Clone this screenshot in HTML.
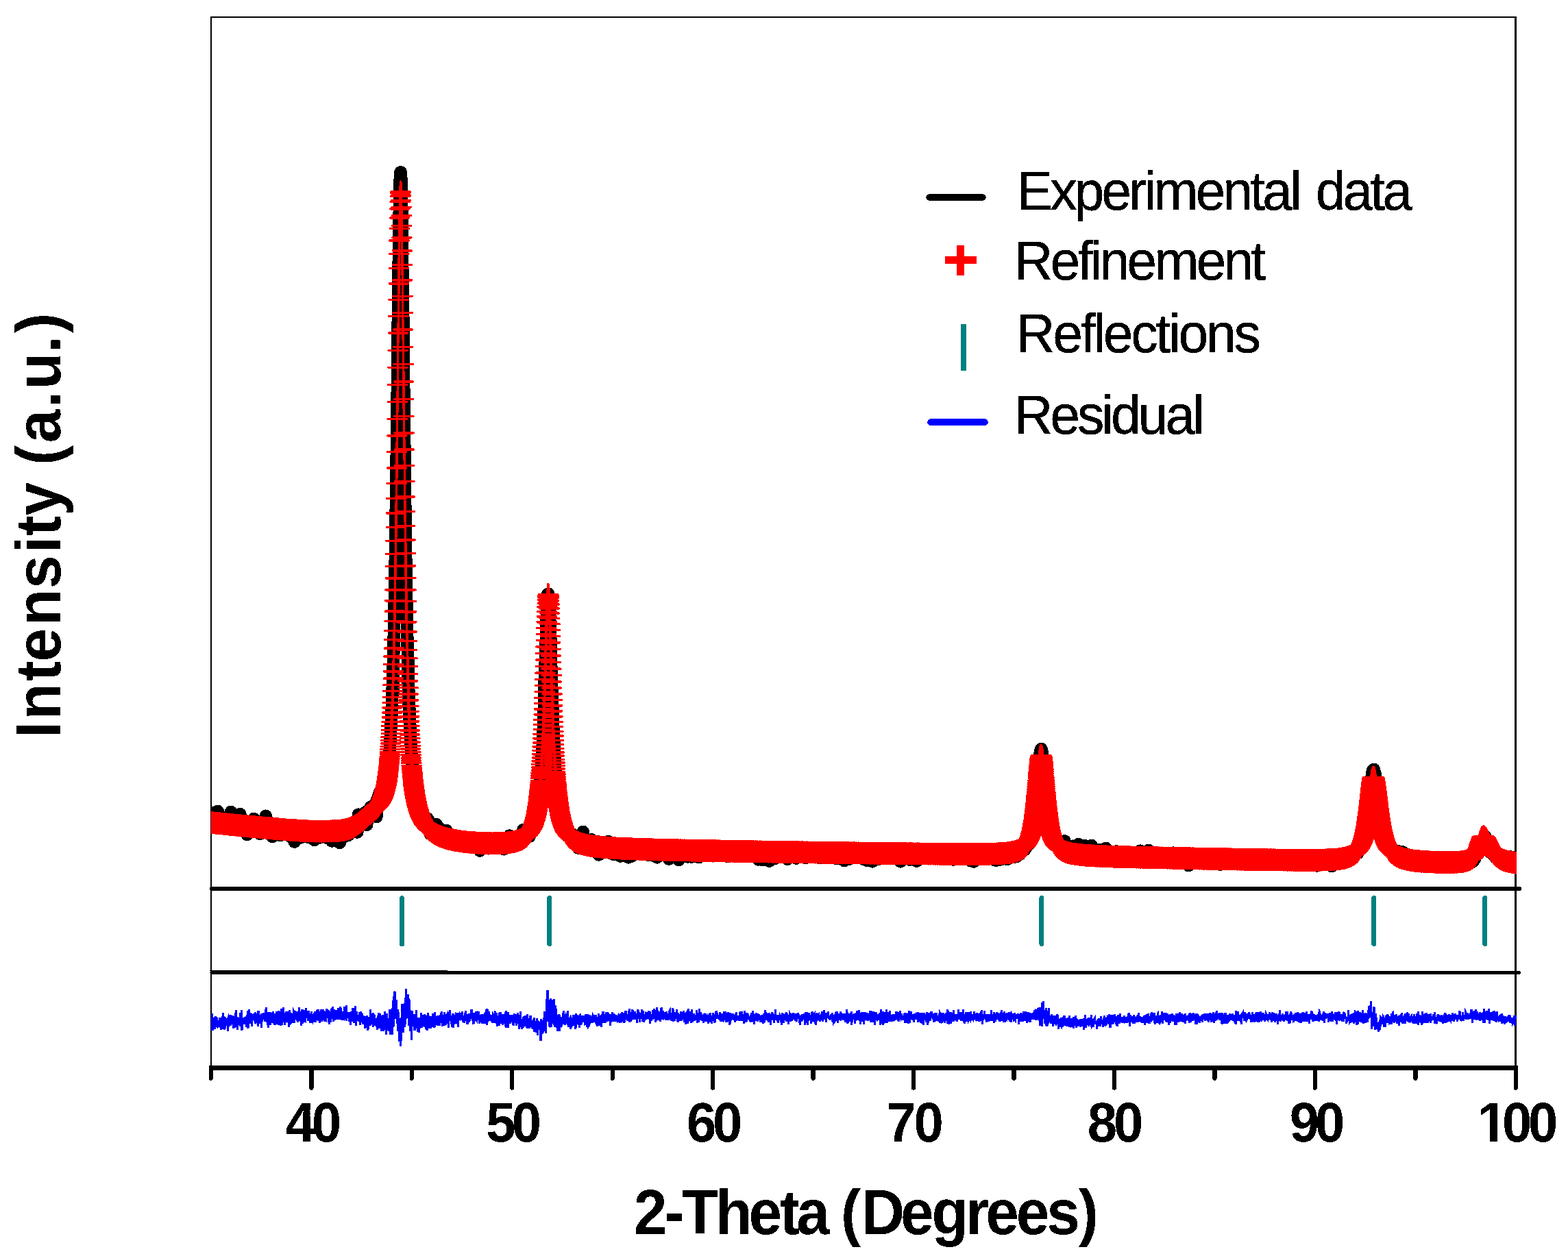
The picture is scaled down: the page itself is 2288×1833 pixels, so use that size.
<!DOCTYPE html>
<html lang="en">
<head>
<meta charset="utf-8">
<title>XRD Rietveld refinement plot</title>
<style>
html,body{margin:0;padding:0;background:#fff;}
body{width:2288px;height:1833px;overflow:hidden;}
svg{display:block;}
text{font-family:"Liberation Sans",sans-serif;fill:#000;}
.b{font-weight:bold;}
</style>
</head>
<body>
<svg width="2288" height="1833" viewBox="0 0 2288 1833">
<defs>
<filter id="crisp" x="-5%" y="-5%" width="110%" height="110%" color-interpolation-filters="sRGB"><feComponentTransfer><feFuncA type="discrete" tableValues="0 1"/></feComponentTransfer></filter>
<clipPath id="one"><path clip-rule="evenodd" d="M2100 1590H2288V1700H2100ZM2158 1657H2173.9V1668H2158ZM2185.5 1657H2197V1668H2185.5Z"/></clipPath>
<clipPath id="plot"><rect x="307.8" y="26" width="1905.2" height="1530"/></clipPath>
</defs>
<rect x="0" y="0" width="2288" height="1833" fill="#fff"/>

<!-- frame -->
<g shape-rendering="crispEdges" fill="none" stroke="#000">
<rect x="308.1" y="25" width="1903.5" height="1533.5" stroke-width="2.4"/>
</g>

<!-- experimental data (black) + refinement (red plus markers) -->
<g clip-path="url(#plot)" shape-rendering="crispEdges" fill="none">
<path id="exp" stroke="#000" stroke-width="18.6" stroke-linejoin="round" stroke-linecap="round" d="M308 1195.2l.3 1 .3-1.9 .2 1.7 .3-4.2 .3 .4 .3-.1 .2 5.7 .3 1.2 .3-7.3 .2 1.3 .3-3.6 .3 7.1 .2 1.7 .3-2 .3-.1 .2 1.8 .3-12.2 .3 6.6 .3 1.8 .2-4.8 .3 3.7 .3 .7 .2 2.5 .3-1.5 .3 4.4 .2-10.6 .3 5.4 .3 2.1 .3-.9 .2-2.4 .3 2.4 .3 1.4 .2-2 .3-1.3 .3 6.3 .2-15.7 .3 7.1 .3 6.4 .2-3.3 .3-3.1 .3-.6 .3 1.6 .2 13.3 .3-10.3 .3 2.9 .2 1.8 .3-.4 .3-2.1 .2-1 .3-2.1 .3 2.5 .3 .3 .2 .9 .3 3.8 .3-6.1 .2 1.8 .3-.8 .3-.8 .2 2.4 .3 10 .3-14.6 .2 2.7 .3-2.6 .3-.4 .3 5.8 .2-4.2 .3 2.9 .3 1.9 .2 .1 .3-3.9 .3 .1 .2 4.9 .3-6.4 .3 2.9 .2 .9 .3-.4 .3-.6 .3-1.3 .2 .4 .3 2.1 .3 .8 .2-3.4 .3 2.4 .3 .3 .2-6.1 .3 4.7 .3-.4 .3-1.6 .2 .7 .3-1.7 .3 4 .2-1.7 .3 3.6 .3-3.5 .2 7.3 .3-3.4 .3 1.5 .2-2 .3-5.7 .3 4.6 .3 1.7 .2 .3 .3-2.6 .3 0 .2-2.9 .3 .1 .3-10.4 .2 12.1 .3 13.9 .3-11.7 .2 .4 .3-.4 .3 1.1 .3-5.3 .2 .8 .3 4.7 .3-4.2 .2 .9 .3 .5 .3 4.5 .2 1.6 .3-7.1 .3-.2 .3 1.4 .2-2.8 .3 4.5 .3-.8 .2-2.2 .3 1.5 .3 .4 .2 7.7 .3-6.3 .3 0 .2-.2 .3 1.5 .3 1.1 .3-3.8 .2 2.5 .3-1.9 .3-.3 .2-5.2 .3 7 .3-.5 .2 1.2 .3-3.9 .3 2.6 .2 1.7 .3-5.1 .3 6.5 .3-2.9 .2 4.7 .3-8.8 .3 2.7 .2-3 .3 .6 .3 5.5 .2-13.8 .3 14 .3 0 .3-2.4 .2 .2 .3 2.3 .3 3.4 .2-2.8 .3-2.8 .3 .8 .2-3.4 .3 4.2 .3 3 .2-.6 .3-5.9 .3 3.5 .3 2.1 .2-3.6 .3 3.3 .3-.4 .2 .9 .3-.2 .3-1.4 .2-1.1 .3 6.9 .3-8.4 .3-1 .2 2.1 .3-.2 .3-.1 .2 4.8 .3-5.2 .3 7.8 .2-4.2 .3 .1 .3-.5 .2-3.7 .3 .1 .3 18.4 .3-14.7 .2-2.7 .3 4.7 .3-2.5 .2-2.1 .3-1.4 .3 3.1 .2-2.9 .3 3.5 .3 1.2 .2-.7 .3 2 .3-1.8 .3-3.4 .2-.1 .3 6.3 .3-5.1 .2 2.7 .3 1.9 .3-2.2 .2 1 .3 3.7 .3-4.6 .3 0 .2 .7 .3-.2 .3-.6 .2 .7 .3 0 .3 .4 .2-1.5 .3 2.4 .3 .5 .2-1.5 .3-2.1 .3-7.9 .3 11 .2 2.2 .3-1.2 .3 1.5 .2-4.7 .3 3.1 .3-5.3 .2 4.9 .3 1.9 .3-4 .2 5 .3-2.3 .3-5.9 .3 4.5 .2-4.6 .3 4.5 .3 2.2 .2-2.9 .3 1.6 .3-.8 .2-1.9 .3 8.1 .3-7.9 .3 2.5 .2-.1 .3 2.3 .3-5.2 .2 1.2 .3-2.1 .3 3.4 .2 3.8 .3 6.1 .3 1.1 .2-14.8 .3 9.8 .3-3 .3-2.9 .2 3.4 .3-3.6 .3 .7 .2 2.5 .3-.2 .3-.2 .2-4.1 .3 2 .3 .4 .3-1.2 .2 .2 .3 .5 .3-.3 .2 3.3 .3-4.6 .3 6.1 .2-2.9 .3-.7 .3 5.4 .2-4.3 .3 4.2 .3-5.1 .3 4.3 .2 .3 .3 .3 .3-6.7 .2 1.8 .3-16.8 .3 18.7 .2-.7 .3 0 .3-3.1 .2 8.5 .3-5.6 .3-2.4 .3 6.3 .2-2.9 .3-.7 .3 7.4 .2-5.1 .3 1.4 .3-13.3 .2 12.5 .3-1.9 .3-.6 .3 .1 .2 5.8 .3-5.4 .3-1.7 .2 1.7 .3-1.6 .3 2.5 .2 .6 .3-2.5 .3 1.8 .2 1.7 .3-5.1 .3-3.7 .3 7.4 .2-1.3 .3-3.2 .3 4.7 .2-1.6 .3 11.6 .3-14.6 .2 4.7 .3 1.9 .3-.3 .2-1 .3 1.3 .3 0 .3 1.8 .2-3.7 .3-5 .3 5.7 .2-4.6 .3 1.6 .3 2.5 .2 4.3 .3-4.3 .3-1.1 .3-.2 .2 4.3 .3 .4 .3-.2 .2 1.8 .3-4.9 .3 1.9 .2-6.5 .3 4.8 .3 1.5 .2-4.2 .3 7.5 .3-4.3 .3-1.1 .2 2.5 .3-2.2 .3-1.5 .2 4.3 .3-3.2 .3 3.1 .2-6.5 .3 4.4 .3-2 .2 4.2 .3-3.9 .3 8.9 .3-5.6 .2 4.4 .3-5.4 .3 1.1 .2 1.9 .3-2.3 .3-10.3 .2 12.9 .3-4.4 .3 1.8 .3 1.1 .2-3.7 .3 2.9 .3 2.1 .2-3.8 .3 2.7 .3 .9 .2-4.7 .3-.9 .3 2.9 .2 .3 .3 2.2 .3 1 .3-2.2 .2-6 .3 4.3 .3 3.9 .2-.1 .3-2.4 .3-.4 .2-2.2 .3 .3 .3-.4 .3 5 .2-1.6 .3-5.4 .3 5.8 .2 0 .3-2.3 .3-.5 .2-2.1 .3 5 .3-.8 .2 .9 .3 1.3 .3 2.7 .3 .8 .2-3.1 .3-2.4 .3-.3 .2-5.2 .3 6 .3-10.6 .2 8.1 .3 3.2 .3 3.8 .2-3.9 .3-2.1 .3-1.4 .3 6.1 .2-4.7 .3 4 .3 1.1 .2-4.5 .3-.3 .3 5.8 .2-4.9 .3 1.5 .3-.6 .3 2.4 .2-3.4 .3 8.7 .3-5.8 .2-5.5 .3 3 .3 13.8 .2-15 .3-1.4 .3 5.1 .2-4.1 .3 2.1 .3-3.9 .3 7.2 .2-3.4 .3 1.2 .3 .6 .2-1.5 .3-3.7 .3 5.3 .2-5 .3 3 .3 3.4 .2-1.6 .3-.3 .3-7.3 .3 6.6 .2-2.2 .3 5.1 .3-2.3 .2-1 .3 .1 .3 .5 .2-1.6 .3 2.3 .3 2.8 .3-1.1 .2-1 .3-1.5 .3-3.6 .2 .3 .3 9.6 .3-7.3 .2 3.2 .3-2.8 .3 3.8 .2-.7 .3-1.9 .3-4 .3 3.1 .2 2.9 .3 1.4 .3 0 .2-4.6 .3 2.9 .3-4.4 .2-1 .3 3.7 .3 .1 .2-1.1 .3-4.1 .3 7.8 .3-.9 .2 .2 .3-2.7 .3 .5 .2 1.3 .3 1.6 .3-1 .2-1.3 .3 1 .3 2.3 .3-3.1 .2 3 .3 1.1 .3-13.4 .2 8.8 .3 2.8 .3-5.4 .2-4.8 .3 7.6 .3-.3 .2 .9 .3-1.8 .3 2.7 .3-2.2 .2 1.9 .3-2.7 .3 1.1 .2 5.9 .3-4.9 .3-9 .2 8.1 .3 5.3 .3-6 .3 2.5 .2-.4 .3-.8 .3-1.6 .2-1.1 .3-.7 .3 6 .2-3.9 .3 .9 .3 3.3 .2-.8 .3-2 .3 2.9 .3-3 .2 4.1 .3-.9 .3-3.1 .2-9.6 .3 12 .3 6.1 .2-11.8 .3 6.8 .3-.1 .2-5.2 .3 3.8 .3-1.5 .3-2.9 .2 3 .3 4 .3-12.1 .2 4.2 .3 5.4 .3-3.2 .2-.9 .3 2.4 .3-4.4 .3 3.6 .2 1.3 .3 2.4 .3-2 .2-2.2 .3-3.5 .3 5.6 .2 .8 .3 3.5 .3-5.9 .2-1.5 .3 2.1 .3 1 .3 .7 .2-4.7 .3 6 .3-4.5 .2 1.4 .3-.3 .3 2.4 .2-5 .3 7.1 .3-9.6 .2 3.8 .3 5.7 .3-10.2 .3 3.3 .2 1.9 .3 .7 .3-2.3 .2 3.7 .3-1.5 .3 0 .2 1.1 .3-1.3 .3-1.3 .3 1.2 .2-1.7 .3 4.4 .3 0 .2-3.1 .3 .9 .3 .7 .2-1.9 .3 3.2 .3 1.5 .2 .9 .3-13.7 .3 6.6 .3 2.9 .2 1 .3-4.1 .3 2.4 .2 6.3 .3-5.3 .3 .8 .2 1.5 .3-1.6 .3-3.3 .3 6 .2-3 .3 2.8 .3-1 .2-1.7 .3 1.8 .3-2.1 .2-6.2 .3 1.8 .3 2.2 .2 .3 .3 2.6 .3-2.2 .3 2.6 .2 2.9 .3-5.9 .3-1 .2-.2 .3 1.4 .3 11.2 .2-8.3 .3-1.4 .3 1.9 .2-1.7 .3-3.5 .3 1.9 .3-2.5 .2 3.4 .3-1.2 .3 3.8 .2-3.7 .3-2.5 .3 5.9 .2-1.7 .3-4.4 .3 6.2 .3-3.8 .2 1.9 .3-1.6 .3-2.9 .2 5.1 .3-7.6 .3 4 .2-.6 .3 .1 .3 2.1 .2 1.2 .3-3.8 .3 1.2 .3-1.2 .2 2.8 .3 3.9 .3-4.2 .2 .7 .3-3.1 .3-.2 .2 .9 .3-1.7 .3 3.4 .2 3.9 .3-4.1 .3 .7 .3 13.1 .2-13.5 .3-.7 .3 2.5 .2 1.3 .3-2.5 .3 2.2 .2 1.5 .3-.7 .3-6.5 .3 6.3 .2-6.7 .3 6 .3-4 .2-1.1 .3-1.9 .3 8.1 .2-7.6 .3 3.8 .3-.8 .2 6.2 .3-6.6 .3-3.8 .3 5.1 .2-.3 .3-2.3 .3-.6 .2 .6 .3 .4 .3 1.6 .2 .1 .3-.4 .3-.6 .2-4.6 .3 4.1 .3-1.8 .3 1.8 .2 3.8 .3-7.8 .3 5.3 .2 2.6 .3-3.9 .3-3.4 .2 4.5 .3-3.4 .3 .9 .3 .3 .2 5.4 .3-7.3 .3 3.3 .2-2.5 .3 3.4 .3 .2 .2-4 .3 3.6 .3-2.9 .2-1.8 .3-.6 .3 1.8 .3-1.1 .2 .2 .3 2.4 .3-3.4 .2 3 .3-4 .3 4.4 .2 1.1 .3-.7 .3-7.3 .3 5.7 .2 2 .3 0 .3-5.4 .2-1.7 .3 .8 .3 5.6 .2-5.4 .3 .1 .3 3.6 .2-2.4 .3-9.6 .3 9.3 .3-2.9 .2-4.9 .3 8.8 .3-5.5 .2 2.8 .3-4.3 .3 4.5 .2-5.4 .3 6.1 .3-.3 .2-3.9 .3 1.6 .3 8.8 .3-4 .2-8.3 .3 4.7 .3-2.9 .2-4.2 .3 2.4 .3-13.7 .2 17.9 .3-.2 .3-2.8 .3-1.3 .2-2 .3 4.3 .3-1 .2-4 .3-2.2 .3-1 .2 5.6 .3-2.7 .3 4.8 .2-5.8 .3 6.1 .3-3.2 .3-1.7 .2-1.2 .3 2 .3 .2 .2-5.5 .3 .5 .3 5.9 .2-9.7 .3 2.3 .3-2.9 .2 2 .3-3.1 .3 6.8 .3 .1 .2-10 .3 10.2 .3-10.7 .2 7.9 .3-4.3 .3-1.2 .2 5.5 .3-5.7 .3 5.6 .3 2.9 .2-5.4 .3 .2 .3 1.5 .2-5.3 .3 15.8 .3-13.3 .2-1.9 .3-.9 .3-4.1 .2 8.9 .3-4.1 .3-.7 .3 1.6 .2-4.7 .3-1.5 .3 4.1 .2-.8 .3-.2 .3 1.5 .2-6.9 .3 2.4 .3 1.4 .2 2.2 .3 .9 .3-6.6 .3-3.2 .2 4.8 .3-1.7 .3-2.8 .2 6.2 .3-6.3 .3 3.1 .2-.8 .3 3.4 .3-3.7 .3 5.3 .2-4.7 .3 1 .3 4.7 .2-7.8 .3-2.5 .3 2.9 .2 .5 .3-3.8 .3 2.1 .2-3.7 .3 1.9 .3 4.8 .3-5.6 .2 6.4 .3-3.4 .3-3.5 .2-.6 .3 .3 .3 4.6 .2 .4 .3-1.8 .3 14.4 .3-24.2 .2 3.8 .3 2.5 .3-6.2 .2 3.3 .3 8.3 .3-2.2 .2-1.9 .3-12.1 .3 9 .2-1.3 .3 .9 .3-2.5 .3 .8 .2-.9 .3-12.5 .3 15.9 .2-10.8 .3 9.6 .3-1.7 .2 0 .3-3.5 .3 1.3 .2-6.9 .3-.6 .3 8.6 .3-13.3 .2 9.6 .3-3.3 .3 .9 .2-6.3 .3 .8 .3 5.6 .2-.9 .3-6.7 .3 4.6 .3-2.7 .2-7.8 .3 8.7 .3-4.6 .2 2.9 .3-6.3 .3 1.6 .2-4.9 .3 .1 .3-5.6 .2-.8 .3 1.1 .3 4.6 .3-3.6 .2-2 .3 1.8 .3-9.4 .2-9.9 .3 9.8 .3 11.6 .2-16.3 .3 3.5 .3-4.4 .2 .7 .3-4.2 .3-4.9 .3-4.3 .2-2.1 .3 17.5 .3-18.5 .2-5.7 .3-1.1 .3-4.3 .2 3 .3-8.3 .3 13.7 .3-23.2 .2-6 .3-2.3 .3 .8 .2-12.5 .3-1.1 .3-11.7 .2 7.1 .3-14.1 .3-9.8 .2 .4 .3-22 .3-4.1 .3-1.3 .2-9.9 .3 14.4 .3-21.9 .2-17.5 .3-11.2 .3-11.9 .2-12.9 .3-9.4 .3-16.6 .3-21.5 .2-5.5 .3-10 .3-18.7 .2-22.1 .3-6.9 .3-24.1 .2-20.5 .3-15.5 .3-20.2 .2-25.7 .3-23.7 .3-20.6 .3-18.1 .2-28.7 .3-27.5 .3-13.2 .2-29.2 .3-31.6 .3-24.4 .2-23.5 .3-28.4 .3-20.6 .2-23.8 .3-25.8 .3-19 .3-20.3 .2-17.4 .3-22.7 .3-13.6 .2-13 .3-11.9 .3-6.9 .2-4.9 .3-1.1 .3 1.1 .3 2.5 .2 7.1 .3 11.5 .3 12.9 .2 14.1 .3 15.7 .3 22.6 .2 16.3 .3 36.1 .3 10 .2 21.9 .3 24.8 .3 20 .3 31.9 .2 29.7 .3 24.4 .3 33 .2 8.6 .3 29.3 .3 20.9 .2 31.6 .3 20.1 .3 22.9 .2 14.8 .3 28.4 .3 23.4 .3 18.8 .2 16.2 .3 15.4 .3 12 .2 22 .3 20.5 .3 6.6 .2 11.3 .3 19.5 .3 6 .3 13 .2 12.8 .3-.9 .3 30.5 .2 6.5 .3 7 .3 6.1 .2 16.2 .3 9.5 .3-3.8 .2 8.7 .3 6.7 .3 9.6 .3 .9 .2 8.7 .3 5.7 .3 4 .2 6 .3 2.4 .3 2.8 .2 9 .3 6.3 .3 1.1 .2 6.5 .3-.3 .3 6.5 .3 4.4 .2-1.8 .3 3.3 .3-.9 .2 3 .3 4.2 .3 7.6 .2-1.8 .3-1.9 .3 7.4 .3-1.3 .2-13.7 .3 22.2 .3-4.2 .2 14 .3-4.5 .3-3.3 .2 12 .3-7.1 .3 6.7 .2-.2 .3-.5 .3 1.3 .3 2.2 .2 1.2 .3 1.8 .3-1.2 .2-2.5 .3 5.6 .3 3.8 .2 .4 .3 5.3 .3-3.4 .3 2.4 .2 1.5 .3-2.4 .3-1.4 .2 4.9 .3-6.4 .3 8.5 .2-.8 .3-2.7 .3 1.5 .2-1.4 .3 2.9 .3 4.5 .3-4 .2-.8 .3 3.2 .3 1.8 .2 5.8 .3-3.9 .3 2.1 .2 2.2 .3-6.6 .3 1.9 .2 5.4 .3-7.6 .3 12.7 .3-5.6 .2 .5 .3-3.1 .3 2.7 .2-3.1 .3 4 .3-1.5 .2 9.6 .3-9.2 .3 8 .3-3.8 .2-2.8 .3 4.5 .3-.4 .2 1.6 .3 .4 .3 .9 .2 2.4 .3-5.5 .3 1.6 .2 1.9 .3 2.4 .3-9.2 .3 10.8 .2-3.5 .3 .1 .3-1 .2-.3 .3 3.1 .3-6.6 .2 8.3 .3 1.2 .3 0 .2-2.7 .3 3.7 .3-.9 .3 5.2 .2 5.2 .3-14.7 .3 9.8 .2-4.9 .3 2.7 .3 4.5 .2-2.2 .3-4.6 .3-2.4 .3-.3 .2 .1 .3 2.5 .3 2.1 .2 6.1 .3-5.9 .3 3.5 .2-5 .3 .2 .3 2.6 .2 .3 .3-2.2 .3 6.1 .3-.2 .2-2.4 .3 7.2 .3-10.7 .2 2.5 .3 .4 .3 .1 .2 3.7 .3-.7 .3-.2 .3-2.4 .2 1.2 .3-10.6 .3 9.1 .2 .6 .3-.2 .3 1.7 .2 4.2 .3-6.2 .3 1.9 .2 .6 .3-4.3 .3 5.1 .3-8.1 .2 6.8 .3 2.2 .3-.1 .2-1.4 .3 5.2 .3-.5 .2-11 .3 8.6 .3 .4 .2 1.6 .3-.6 .3-2 .3 0 .2 .5 .3 1.7 .3 2.7 .2-2.4 .3 2.4 .3-1.5 .2 6 .3-7.8 .3-3.8 .3 6.8 .2-9.7 .3 6.5 .3-1.3 .2-4.9 .3 12.1 .3-3.4 .2 1.7 .3-.6 .3-1.5 .2 .2 .3 3.3 .3-6.6 .3 .2 .2 4.6 .3-3.5 .3 2 .2 1.3 .3-.8 .3-9.2 .2 11.2 .3-.2 .3-2.7 .2 .8 .3 1.2 .3-2.1 .3 1.2 .2-1.5 .3 3.3 .3-1 .2 2.3 .3-6.9 .3 7.8 .2-3.2 .3 2 .3 3.8 .3-5 .2 .2 .3-2.2 .3 4.4 .2-4.8 .3 1.5 .3-.4 .2 1.1 .3 0 .3-2.5 .2 2.5 .3-2.6 .3 5.9 .3 .5 .2-3.3 .3 3.3 .3-1 .2-1.4 .3-1.5 .3 3.2 .2-1.9 .3 2.1 .3 1.1 .2 1 .3-3.4 .3 6.1 .3-2.7 .2-7.1 .3 11.7 .3-2.7 .2-6.4 .3 4.2 .3-6.7 .2 7.9 .3-6.4 .3 .7 .3 2 .2 1.3 .3 2.9 .3-2.2 .2-2.1 .3 .9 .3-2.4 .2 4.6 .3-1.7 .3 3 .2-6.5 .3 4.7 .3-.5 .3 2.4 .2-3.7 .3-.4 .3 2.9 .2-4 .3 4.2 .3-.8 .2-4 .3 4 .3 4.2 .3-7.3 .2 4.2 .3-3.7 .3 3 .2 .9 .3-2 .3-1.2 .2 .8 .3-1.2 .3 6.6 .2-3.7 .3-.8 .3 5 .3-4.2 .2 1.9 .3-3.1 .3-1.9 .2-2.8 .3 3.3 .3 2.7 .2 .2 .3 .2 .3 1.3 .2-1.5 .3 2.8 .3-1 .3 .2 .2-.2 .3 2.1 .3-1.4 .2 .1 .3-.5 .3-4.4 .2 2.8 .3-1.2 .3 1.4 .3 2.3 .2-3.1 .3-.1 .3 1.7 .2 .8 .3-8.2 .3 9.5 .2 1.9 .3-3.4 .3-1.8 .2 4.1 .3-4.5 .3 4.8 .3-2.2 .2 .9 .3-1.2 .3 .8 .2-8.3 .3 4.8 .3 4.6 .2 .2 .3-2.3 .3 .3 .2 1.9 .3-4.3 .3 2.8 .3-.4 .2 1.6 .3-3.4 .3-.2 .2 4.1 .3 .9 .3-4.3 .2 .6 .3 2.2 .3-.9 .3 3.1 .2-4.2 .3 3.6 .3-2.2 .2-1.3 .3 1.1 .3-3.2 .2 1.1 .3 1.1 .3 1.7 .2 .4 .3-3.5 .3 6 .3-4.2 .2 .2 .3 2.1 .3 .7 .2-.1 .3-1.5 .3 .4 .2-1.8 .3 5.3 .3-3.6 .2-2.7 .3 4.9 .3-1.7 .3-2.6 .2 3.8 .3-3.7 .3 .6 .2-1.5 .3 5.4 .3-4.1 .2 .2 .3 4.2 .3 6 .3-13.9 .2 2.6 .3-4.3 .3 6.7 .2 2 .3-3.2 .3-.2 .2 .7 .3 1.5 .3-5.7 .2 5.7 .3-1.9 .3 1.2 .3-1.3 .2 1.6 .3 1.2 .3 .6 .2-.8 .3-3.1 .3 4.6 .2-4.8 .3 3.4 .3-.6 .3-1 .2 .5 .3 .5 .3-1.6 .2 .6 .3-1.3 .3 2.2 .2-1.1 .3 3.2 .3-3.1 .2 .8 .3-.3 .3 1.6 .3-.3 .2-2.8 .3-3.6 .3 2.2 .2-1.4 .3 1.5 .3 1.1 .2 7 .3-4.1 .3 3.6 .2-3.7 .3-1.6 .3-.2 .3 2.4 .2-2.6 .3-2.2 .3 4.9 .2-5.3 .3-.2 .3 8.4 .2-5.8 .3 1.6 .3-.9 .3-5 .2 2 .3 2.3 .3-1.3 .2 5.8 .3-5.4 .3 0 .2 2.4 .3-4 .3 3 .2-.1 .3-3.3 .3 1.8 .3 .9 .2-2.6 .3 3.6 .3-1.4 .2-.2 .3-4.7 .3 4.6 .2 1.3 .3-.6 .3-.2 .2-.1 .3-2.4 .3 4.1 .3 .8 .2-4.8 .3 1.2 .3 4 .2-1.4 .3-.1 .3 3.7 .2-9.7 .3 3.7 .3-.7 .3 4.2 .2-2.8 .3-1.6 .3 1.8 .2-2 .3 7.7 .3-.2 .2-6.9 .3 1 .3 1.6 .2-.9 .3 .4 .3-2.9 .3 0 .2 1.3 .3 1.2 .3 .3 .2 .6 .3 1.5 .3-1.2 .2-1.8 .3-2.9 .3 3.5 .3 1.4 .2-4.2 .3-1.6 .3 4.3 .2-2.3 .3-2.4 .3 2.1 .2 1 .3-3.7 .3 6.3 .2 6.7 .3-8.5 .3 5.8 .3-4.6 .2-5 .3-2.5 .3 4.7 .2 1.3 .3 1.6 .3-5.8 .2 5.6 .3-3.8 .3 1.3 .2 3.2 .3-3.6 .3 0 .3 1.9 .2-2.3 .3 1.5 .3 2.9 .2-4.2 .3-2.1 .3 3 .2-.6 .3-2.5 .3 .3 .3 3.9 .2-6.5 .3 5.4 .3-4.7 .2 3.9 .3-9.4 .3 9.4 .2-1.8 .3-.4 .3-1 .2 3.7 .3-.9 .3 3.8 .3-4.4 .2 .4 .3-.9 .3 .7 .2-2 .3 .3 .3-4.3 .2 6.8 .3-1.1 .3-2.6 .2 2.6 .3-2.3 .3-.2 .3 3.5 .2-2 .3-1.5 .3 1.7 .2-2.8 .3 1.2 .3 0 .2 .3 .3 3.3 .3 5.6 .3-5.4 .2-3 .3-.9 .3 1 .2 2.2 .3 2 .3-2.7 .2 1.1 .3-1.2 .3-4.4 .2 1.2 .3 .7 .3 3.2 .3-2.9 .2-1 .3 2.4 .3-1.5 .2-1.9 .3 .2 .3 3.9 .2-5.3 .3 4.1 .3-1.7 .2 2.4 .3-4.2 .3 3.5 .3-2.9 .2-.7 .3 .2 .3-1.4 .2 3.3 .3-2.6 .3-3.7 .2 3.9 .3 1.3 .3-2.8 .3 1.4 .2 4.6 .3-6 .3-3.7 .2 5.6 .3-.3 .3-3.6 .2-8 .3 9.5 .3 .9 .2-5.6 .3 3.6 .3-.4 .3-1.5 .2 3.6 .3-.4 .3-3.9 .2 1.3 .3 4.7 .3-4.6 .2-1.7 .3 4.3 .3 1.4 .3-5.4 .2-1.7 .3 5.4 .3-3.8 .2-2.6 .3 2 .3-4.9 .2 .7 .3-2.3 .3 10.7 .2-5 .3 0 .3-.8 .3-.1 .2-.8 .3-2.5 .3 1 .2 4.4 .3 4.3 .3-11.6 .2-3.9 .3 6.2 .3-2.6 .2 3.6 .3-2.6 .3-2.7 .3-.4 .2 1.1 .3 .8 .3-3.6 .2-1.3 .3 3.4 .3-4.2 .2-3.2 .3 3.6 .3 .7 .3-8.6 .2 7.1 .3-1.5 .3-1.9 .2 .8 .3-2.4 .3 .9 .2-2.7 .3 .6 .3-7.6 .2 5.5 .3-1.9 .3-4 .3 3.1 .2-1.7 .3 3 .3-6.7 .2-1.6 .3-1.5 .3 1.9 .2 .8 .3-6.1 .3 .8 .2-.7 .3-.4 .3-2.4 .3-3.2 .2-3.5 .3-1.6 .3 2.5 .2-11.4 .3 6 .3-2.8 .2 2.8 .3-2.7 .3-6.9 .3-2.4 .2-6.1 .3 .9 .3-2.2 .2-3.9 .3-6.1 .3-2.3 .2 2.8 .3-8.4 .3-5.8 .2-2.9 .3 2.6 .3-15.6 .3 2.4 .2-14.2 .3-2.1 .3-1.6 .2-2.8 .3-.5 .3-18.3 .2-4.1 .3 5.5 .3-22.7 .2 3 .3-7.6 .3-10.6 .3-5.9 .2-11.5 .3-12.8 .3-30.1 .2 15.8 .3-9.2 .3-13 .2-4.8 .3-16.2 .3-5.5 .3-4.3 .2-11 .3-9.4 .3-9.6 .2-6.9 .3-4 .3-9.9 .2-16.8 .3 .6 .3 2.5 .2-2.2 .3-1.3 .3-1 .3 1.5 .2 .9 .3 5.4 .3 2.5 .2 5.8 .3 7.8 .3 5.1 .2 9.5 .3 3.1 .3 15.6 .3 5.4 .2 3.8 .3 11.3 .3 15.1 .2 8.3 .3 10.2 .3 4.8 .2 19.3 .3 1.1 .3 7.4 .2 14.5 .3 3.7 .3 2 .3 14.2 .2 9.5 .3-4.3 .3 20.5 .2 .4 .3 1.5 .3 7.9 .2 12 .3 3.9 .3 6.7 .2 4.2 .3-1.9 .3 3 .3 3.8 .2 13.1 .3 2.6 .3 4.5 .2-2.7 .3 7.8 .3 1.5 .2 11.2 .3-3.4 .3-1.6 .3 11.2 .2 3.8 .3-.3 .3-1.6 .2 2.9 .3 8.3 .3-3.5 .2 3.8 .3 5.2 .3-3.2 .2-3.5 .3 5.3 .3 9.5 .3-3.9 .2-2.4 .3 3.6 .3 6.4 .2-.1 .3-5.3 .3 8.1 .2-4.5 .3 8.9 .3 1.9 .2-4.3 .3 2.8 .3-.8 .3 .8 .2 .9 .3 1.2 .3 .6 .2-.7 .3 7.7 .3 .3 .2-5.1 .3 .1 .3 1 .3 7.3 .2-3 .3 .4 .3-3 .2 2 .3 6.3 .3-3.8 .2 2.9 .3-11.8 .3 9.8 .2 2.5 .3 .8 .3-3.1 .3 8.5 .2-7.2 .3 4.7 .3-6.4 .2 7.6 .3 2.5 .3-1.4 .2-1.6 .3 3.5 .3-1.9 .3-.9 .2 2.8 .3-2.6 .3 1.9 .2 2.8 .3-1.4 .3-4.1 .2 1.1 .3 2.7 .3 3.1 .2-2.5 .3-2.8 .3 4.1 .3 .4 .2-.3 .3 1.9 .3-1.3 .2-.2 .3-4.2 .3 2.9 .2-1 .3 6.8 .3-3.7 .2-.9 .3-.7 .3 .9 .3-.5 .2 2.3 .3-1.5 .3 1.1 .2 .4 .3-.2 .3 2.3 .2 .2 .3-1.4 .3-.9 .3 4.8 .2-7.3 .3 5.2 .3-2.4 .2 4.2 .3-3.1 .3 4.5 .2-5.5 .3 7.5 .3-6.2 .2 3.2 .3-.5 .3-.5 .3 1.1 .2-1 .3-.5 .3-3 .2 4.4 .3-2.1 .3 12.3 .2-10.3 .3-1 .3-3.3 .2 4.8 .3-4.6 .3 3.6 .3 1.9 .2 1.6 .3-.9 .3-3 .2 .2 .3-.1 .3 2.3 .2-2.2 .3 3.6 .3 3.2 .3-3.2 .2-2.4 .3 .2 .3 .3 .2 2.8 .3-2.3 .3 7.2 .2-5.8 .3-4.2 .3 5.4 .2-17.5 .3 16.1 .3-1.6 .3 .8 .2-4.1 .3 6.2 .3 1.4 .2-5 .3 .7 .3 .5 .2 2.2 .3-.5 .3-.2 .2 .5 .3-.4 .3 2 .3 .7 .2-4.7 .3 1.7 .3-.5 .2 .8 .3 4.4 .3-3.4 .2-3.1 .3 2.9 .3-1.1 .3 1.2 .2 .8 .3-2.4 .3 3.7 .2-3.2 .3 3.5 .3-.6 .2-1.4 .3 3.9 .3-7 .2 2.2 .3 1.9 .3-.8 .3 1 .2-.4 .3-4.1 .3 8.2 .2-5.6 .3 3.8 .3-.9 .2-2.1 .3-6.4 .3 6.9 .3 1.7 .2 2.5 .3-4.2 .3-1.2 .2 1.7 .3-2.1 .3 1.5 .2 4.6 .3-1.1 .3-1 .2 .3 .3 2.3 .3-1.3 .3-2 .2-1.1 .3 2.6 .3 1.2 .2 .5 .3-.6 .3-2.2 .2-.8 .3-.1 .3 2.5 .2 2.6 .3-2.2 .3-3.1 .3-.9 .2 2 .3 3.3 .3-5.8 .2 2.5 .3 8.8 .3-7.2 .2 .6 .3-1.8 .3 1.2 .3 11.5 .2-18.8 .3 5 .3 .9 .2 1.6 .3 .8 .3-2.1 .2 .7 .3-2.2 .3 .7 .2 1 .3 1.4 .3 2.6 .3-5.7 .2 3.5 .3-1.9 .3-2.8 .2 6.2 .3-1.3 .3-7.9 .2 8.6 .3 2.3 .3-3.4 .2-1.5 .3 1.2 .3-1.3 .3 0 .2 1.9 .3-.5 .3-.5 .2 2.9 .3-2.9 .3 4.4 .2-2.1 .3-2.7 .3 1 .3 .1 .2 2.7 .3-4.2 .3 3.6 .2-1.9 .3 3.3 .3-3.3 .2 2 .3-4.2 .3 2.8 .2-1.8 .3 2.4 .3-.3 .3-.5 .2 2.2 .3-11.6 .3 9.6 .2 4.7 .3-3.3 .3 2.2 .2-1.2 .3 2.6 .3-3.3 .2 0 .3-1.8 .3 .7 .3-.3 .2 1.8 .3 1.5 .3-1.2 .2-.5 .3 6.2 .3-5.8 .2 1.5 .3-4.9 .3 4.3 .3-2.7 .2 2.3 .3-3.9 .3-3.2 .2 3.5 .3 3.1 .3-1.4 .2-7.1 .3 6.1 .3 9.4 .2-9.2 .3 6.1 .3-3.1 .3-.5 .2 2.5 .3-5.9 .3 2.5 .2-7.5 .3 6.5 .3 2.4 .2-.4 .3-6.6 .3 7.9 .3-.2 .2 3 .3-8.3 .3 .1 .2 5.5 .3-1.5 .3-1.1 .2 .8 .3-2.9 .3 2.5 .2-.9 .3 2.1 .3-.8 .3 1.6 .2-3.4 .3 1.5 .3 3.2 .2-1.4 .3 .1 .3 1.4 .2-5 .3 3.7 .3 0 .2 8.1 .3-9.1 .3 2.7 .3-4.1 .2 2.1 .3 3.3 .3-6.7 .2 4.7 .3-.3 .3-1.1 .2-2.5 .3 1.2 .3 1 .3-3.7 .2 3.4 .3 2.9 .3 .9 .2-2.3 .3 2.3 .3-4.1 .2-.5 .3 2.7 .3-2.7 .2 1.1 .3 .3 .3 .8 .3-1.7 .2-.9 .3-1.8 .3 6.4 .2-10.3 .3 9.8 .3 0 .2-3 .3-1.5 .3 1.4 .2 2.8 .3-1.3 .3-6.4 .3 8.6 .2-.6 .3-2.3 .3 .9 .2 9.3 .3-11.2 .3 2.3 .2-2.8 .3 1.6 .3-.6 .3-1.5 .2 4.2 .3-3.6 .3-.6 .2 2.5 .3 4.7 .3-3.9 .2-3.1 .3-.4 .3 .4 .2 3.2 .3-2.8 .3 9.8 .3-6 .2 1.1 .3-1.2 .3-.9 .2 3 .3-4 .3-3.4 .2 7.2 .3-3.5 .3 0 .3-.1 .2 1.3 .3-.3 .3-1 .2 3.1 .3-.3 .3-3.7 .2 2.5 .3 1.6 .3-.2 .2-2.1 .3-.9 .3 .8 .3-.8 .2 2 .3-4.6 .3 2.4 .2 2.6 .3-2.7 .3-.6 .2 2.1 .3-1.7 .3-4.9 .2 7.4 .3-1.7 .3-.9 .3-.6 .2 1.8 .3-3.4 .3 2 .2 5.4 .3-4 .3-1.3 .2 1.7 .3-5.4 .3 1.8 .3 2.4 .2 4 .3-.1 .3-1.2 .2-3.4 .3 2.6 .3-2.8 .2 2.3 .3 3.5 .3-.8 .2-2.3 .3-.5 .3 1.3 .3-3.3 .2 3.4 .3 1.7 .3-7 .2 4.6 .3-.9 .3-1.9 .2 2.7 .3 1.7 .3-4 .2 2.7 .3-.4 .3-2.1 .3 .5 .2 1.6 .3-1.9 .3 3.7 .2 .2 .3-5.1 .3 3.2 .2-.7 .3-2.2 .3 2.9 .3-.7 .2-.5 .3 .4 .3-.9 .2 3.1 .3-.9 .3-1.7 .2 5.5 .3-4.4 .3-1.2 .2 1.9 .3 1.6 .3 .9 .3-.4 .2-.9 .3-2.9 .3 1 .2 2.2 .3-4.6 .3 3.7 .2-1.1 .3 1.1 .3-3.9 .2 2 .3-.8 .3 4.5 .3-1.9 .2-1.3 .3 0 .3 .5 .2 2.1 .3 .1 .3 1.1 .2-4.5 .3 1.5 .3-2.2 .3 1.6 .2-4.1 .3 9.6 .3-.1 .2-6.2 .3-7.3 .3 10.4 .2 2.3 .3-6 .3 4 .2-3.9 .3 1.1 .3-3.8 .3 2 .2 3.3 .3 1.3 .3-4 .2 3.6 .3 5.6 .3-8.2 .2-2.6 .3-3 .3 8 .3-.3 .2-12.1 .3 10.7 .3-5.6 .2 7.1 .3-.3 .3-.2 .2 1.7 .3-.9 .3-2.6 .2-.3 .3 3.5 .3-3.7 .3 2 .2 .6 .3-.5 .3-2.6 .2 2.3 .3 .1 .3-2.5 .2 2.3 .3 2.8 .3-.7 .2-5.8 .3 3.9 .3 3.2 .3-1.2 .2-11.3 .3 12.5 .3-4.8 .2-2.5 .3 6.3 .3-1.1 .2-1.1 .3-1.9 .3 .4 .3 1.6 .2 1.4 .3-6.4 .3 2.7 .2 2 .3-2 .3 4.2 .2-3 .3 3.8 .3-2.6 .2 .9 .3-3.3 .3 2.6 .3 2 .2-1.7 .3 3.1 .3-2.7 .2-3.3 .3 4.8 .3-4.8 .2 2 .3-1.8 .3 5.7 .2 5.5 .3-10.4 .3 1.2 .3 1.9 .2 2.7 .3-6.4 .3 2.7 .2-2.5 .3 .3 .3 3.3 .2-3.4 .3-2.3 .3 7.9 .3-7.2 .2 3.1 .3-3.1 .3 1 .2 1.1 .3 .5 .3-1.1 .2 1.4 .3 1 .3-1.9 .2-1.6 .3 3.4 .3-4.9 .3 5.9 .2-5.6 .3 3.4 .3-1.2 .2 3 .3-4.9 .3 2.4 .2 4.2 .3-6.1 .3 .3 .3 5.4 .2-2.2 .3-2.1 .3 .9 .2 6.2 .3-4.7 .3 1.3 .2-4 .3 4.6 .3 .6 .2-2.9 .3 1.6 .3-.1 .3-3.5 .2 .1 .3-.6 .3 .7 .2 12 .3-10.5 .3 7.3 .2-9.7 .3 2.5 .3 3 .2-6.4 .3 2.4 .3 .1 .3 .4 .2 3.5 .3-2.1 .3-4.4 .2-2.8 .3 7.2 .3-3.5 .2 1 .3 1.5 .3 2.1 .3-.9 .2 .1 .3-4 .3 2.8 .2 1.5 .3 .6 .3-2.2 .2-5.2 .3 4.8 .3 2.6 .2-.1 .3-4.6 .3 2.2 .3 .4 .2-5.2 .3 5.3 .3 3.8 .2-3.6 .3 .8 .3-.1 .2-4.1 .3 6 .3-2.8 .2 2.2 .3 2.4 .3-3 .3-1.2 .2-2.9 .3 3.2 .3 5 .2-8.9 .3 4.1 .3 .8 .2-.1 .3-1.6 .3-.3 .3-1.1 .2 .6 .3 1.6 .3-1.8 .2-.7 .3-.1 .3 5.1 .2-4.3 .3-.3 .3 1.4 .2-2.6 .3 6.2 .3-7.5 .3 2.9 .2 6.7 .3-4.7 .3-1.1 .2 1.4 .3-2.1 .3-1.2 .2 2.8 .3 0 .3-1.4 .2-1.2 .3 1.2 .3 1 .3 .4 .2 .5 .3-1 .3 3.6 .2-4.2 .3-.3 .3 .4 .2-2.6 .3 2 .3-2 .3 1.3 .2 2 .3-1.1 .3 .6 .2 5.2 .3-10 .3-.3 .2 4.1 .3-.4 .3 3.1 .2-.9 .3 3.3 .3-2.7 .3-3.1 .2-.6 .3 .9 .3 1.2 .2-1.3 .3 7.8 .3-8.5 .2-.5 .3-1.2 .3 5.8 .3-4.7 .2 .5 .3 5.2 .3-4.8 .2 1.8 .3-1.5 .3-1.1 .2 .2 .3 2.2 .3 2.7 .2-6.7 .3 5.7 .3-1.6 .3-5.4 .2 8.8 .3 .3 .3-1.4 .2-2.4 .3 .9 .3 2.9 .2-2.3 .3-5.5 .3 5.4 .2 0 .3-2 .3-6.9 .3 6.6 .2-.6 .3 1.8 .3 .5 .2-.8 .3 1.4 .3-1.5 .2-3.3 .3 7.5 .3-7 .3 .7 .2 4.1 .3-2.5 .3 .1 .2 2 .3-1.7 .3-4.4 .2 2.8 .3 1 .3 3.1 .2-.8 .3 1.7 .3-4.5 .3 1.4 .2 .9 .3 .9 .3-1 .2-1.3 .3 1.4 .3 3.1 .2-5.9 .3 5 .3-3.3 .2-1.7 .3 3.5 .3-1.9 .3-.1 .2 2.5 .3-2.7 .3-.2 .2 1.3 .3 1 .3-.9 .2-.1 .3 .3 .3-1.2 .3-.5 .2 5.6 .3-3.8 .3-2.3 .2 3.8 .3-2.4 .3-4.5 .2 4.7 .3-.2 .3-3.4 .2 4.4 .3 .3 .3 .9 .3-.5 .2-.5 .3-2.4 .3 1.4 .2-1.2 .3-.8 .3 1.4 .2-1.4 .3-.6 .3 4 .2-2.1 .3 1.7 .3-2.3 .3 1.3 .2 2.4 .3-2.5 .3-1.9 .2 3.7 .3 .5 .3-1.9 .2 1.9 .3-2.3 .3-.3 .3-.7 .2 2.6 .3-2.8 .3 1.5 .2 0 .3-1.9 .3 1.8 .2 3.6 .3-5.5 .3 2.2 .2-1.8 .3 2.8 .3-2.8 .3 1.9 .2-1.1 .3 2 .3-1.5 .2-1.1 .3 3.9 .3-.5 .2-9.7 .3 7.4 .3-1.9 .3 3 .2-.4 .3-.2 .3-1.2 .2 3.6 .3-4.1 .3 2 .2 .4 .3-4.5 .3 2 .2 3.2 .3-4.4 .3-1.1 .3 6.2 .2-1.8 .3-1.5 .3 3.5 .2-.8 .3-1.5 .3-.8 .2 2.2 .3 3.4 .3-6.2 .2 2.9 .3-3.8 .3 5.1 .3-4.1 .2-.7 .3 1.3 .3 0 .2 1.8 .3-1 .3 1 .2 .1 .3-2.2 .3-.8 .3 2.5 .2-.5 .3 1.1 .3 1.9 .2-3.1 .3 .1 .3 2.1 .2-5.9 .3 3.2 .3 1.8 .2-3.7 .3 2.8 .3 2.2 .3-.8 .2-3.2 .3 5.3 .3-2.3 .2-2.1 .3 2.4 .3-2.6 .2 1.3 .3-1.7 .3-.2 .2 3.8 .3-3 .3-.2 .3 1.5 .2 .1 .3-1.3 .3 1.3 .2-2.6 .3 2.5 .3-1.6 .2 1.1 .3 .9 .3 .2 .3-.4 .2-3.9 .3 .6 .3 5 .2-5.9 .3 5.3 .3-6 .2 4.2 .3 1.1 .3 1.6 .2-4.5 .3 1.7 .3 2.1 .3-1.4 .2-1.6 .3 .9 .3-3 .2 2.2 .3-.8 .3-.3 .2 3.6 .3-1.4 .3 .9 .3-3.9 .2 1.1 .3-1.1 .3 3.4 .2-2.8 .3-2.7 .3 3.5 .2 .5 .3 .2 .3 1 .2-1.3 .3 .1 .3 1.7 .3 .8 .2-1 .3-3 .3-6.4 .2 8.9 .3 2.5 .3-4.4 .2 .3 .3 .2 .3-7 .2 5.5 .3 3.7 .3-3.1 .3-.3 .2 4 .3-3.6 .3 3.2 .2-6.5 .3 6.3 .3-.5 .2-2.6 .3 .8 .3-2.4 .3 4.7 .2 .3 .3-1.5 .3 2.2 .2 .6 .3-7.1 .3 5.9 .2-10.1 .3 9.2 .3-2.9 .2 4.8 .3-12.4 .3 9.5 .3 3.7 .2-6.3 .3-.6 .3 4.3 .2-1.2 .3-3.9 .3 5.3 .2-9.9 .3 9.9 .3-1.9 .2-1.8 .3 .7 .3-2.7 .3 2.9 .2 5 .3-1.5 .3-1 .2 2.6 .3-.7 .3 1.5 .2-6.4 .3 4.5 .3-2.6 .3 .5 .2-.3 .3 3.7 .3-.5 .2-.2 .3-2.1 .3 .4 .2-3.5 .3 1.4 .3 3.4 .2-.8 .3-1.9 .3-.1 .3 3.1 .2-.8 .3-.3 .3 1 .2 1.1 .3-4.8 .3 10.2 .2-10.4 .3-.7 .3 5.8 .2-1.1 .3 0 .3 1.2 .3-5.2 .2 3.3 .3-.8 .3-.1 .2-.5 .3 2.6 .3-5.6 .2 8.5 .3-8.2 .3 1.1 .3 4.1 .2-1.4 .3-.6 .3-1.5 .2 10 .3-8.2 .3-2.4 .2 4.2 .3-4.8 .3 5.4 .2-3.4 .3-1.7 .3-.3 .3 2.9 .2-.9 .3-.8 .3 1.9 .2 .3 .3-5.7 .3 5.8 .2-.9 .3-.9 .3 3.1 .3-2.8 .2-1.1 .3 1.4 .3 .2 .2-.5 .3-.1 .3-.5 .2 1.1 .3-1.4 .3-1.7 .2 .3 .3 2.7 .3 2.5 .3-.1 .2-1 .3-3 .3 1.6 .2-3.1 .3 3.5 .3-.8 .2 10.9 .3-8.8 .3-4.4 .2-2.5 .3 8.4 .3-2.6 .3-.3 .2 .4 .3-2.6 .3 1.2 .2 1.6 .3-.9 .3-.5 .2-1.9 .3 1.2 .3 4.4 .3-3.3 .2 .3 .3 .9 .3-1.9 .2 .7 .3-1.1 .3-1.8 .2 0 .3 4.5 .3 1.5 .2-4.9 .3-1.1 .3 5.8 .3-.8 .2-2.5 .3 7.1 .3-8.1 .2-.1 .3-.1 .3 2.9 .2-5.8 .3 4.7 .3-2.2 .2 1.3 .3 1 .3 .9 .3-1.2 .2 0 .3 .4 .3 .2 .2 1.7 .3-1.7 .3 2.7 .2-2.9 .3-1.2 .3 1.2 .3-1 .2 .8 .3-.3 .3 0 .2 3.5 .3-4.8 .3 2.4 .2-1.1 .3-1.7 .3 1.2 .2 2.2 .3 .9 .3-1.4 .3-3.5 .2 .5 .3 4.2 .3-3.4 .2 2.7 .3-1.9 .3-.6 .2 2.7 .3-3.2 .3 3.6 .2-3.8 .3 1.2 .3-.8 .3 .3 .2 1.8 .3 1.6 .3 .6 .2-.7 .3-1.6 .3-.2 .2-.4 .3 4.9 .3-4 .3-1.2 .2-4.5 .3 8.3 .3-6 .2 3.9 .3-2.5 .3 1.6 .2-1.4 .3 2 .3 .6 .2 5.8 .3-11.8 .3 6.7 .3-2.1 .2 .9 .3-5.3 .3 7.3 .2-3 .3 1.9 .3-1.9 .2-2.9 .3 5.5 .3-4 .3-.6 .2 1.8 .3 .8 .3 2.1 .2-2.8 .3 2 .3-.9 .2 1.5 .3-2.6 .3 3.1 .2-1.2 .3-1.4 .3-.5 .3-1.6 .2 3.3 .3-2.2 .3 2.4 .2-.6 .3 .3 .3-3.2 .2 1.3 .3-1.4 .3 2.1 .2 1.1 .3 .1 .3-1.5 .3-3.7 .2 6.1 .3-2.7 .3 1.1 .2 1.3 .3 .3 .3-4.9 .2 1 .3 7.7 .3-5.3 .3 .3 .2-1.7 .3 3.9 .3-2.9 .2-.8 .3 1.1 .3-.5 .2-2.5 .3 2.8 .3 1.4 .2 2.4 .3-.4 .3-1.5 .3 .1 .2 .5 .3-5.5 .3 4.1 .2-.8 .3 .6 .3-.4 .2-3.9 .3 2.6 .3 1.9 .2-2.3 .3 2.4 .3-2.8 .3 3.8 .2-2.2 .3-2.4 .3-1.4 .2 4.3 .3 .3 .3 .7 .2-1.8 .3-1 .3 .8 .3-3.7 .2 1.3 .3 3.1 .3-.9 .2 2.2 .3-2.7 .3 2.8 .2 .7 .3-2.6 .3-1.5 .2 1.1 .3 5.4 .3-5.1 .3 .8 .2-1.6 .3 2.3 .3 2.9 .2-6.2 .3 3.7 .3 2.9 .2-6 .3-1.4 .3 2.3 .3 3.1 .2-3.4 .3 0 .3 1.8 .2-.9 .3 1.9 .3 .5 .2 .2 .3-5.7 .3 5.4 .2-3.3 .3 4.2 .3-2.6 .3-1.7 .2 .2 .3 .6 .3 1.7 .2-.9 .3-.5 .3-.7 .2 2.1 .3-1.4 .3 0 .2 .4 .3-.4 .3 1 .3-1 .2 .8 .3-4.7 .3 3.6 .2 1.7 .3 1.5 .3-2.2 .2 .5 .3-1.9 .3 .1 .3-2.1 .2 2.6 .3-.2 .3 3.6 .2-5.6 .3 6 .3-4 .2-.5 .3 1.2 .3-1.7 .2 3.6 .3-.9 .3-1.6 .3 2.8 .2-4.4 .3 6 .3-5.4 .2 0 .3 4.6 .3-4.5 .2 .4 .3-1 .3 .7 .2-2.8 .3 3.9 .3-.3 .3 .6 .2 3.6 .3-3.4 .3 4.3 .2-6.7 .3 1.5 .3 .4 .2 1.6 .3-2.1 .3 3.1 .3 1.8 .2-4.5 .3-5.2 .3 4.2 .2 3.2 .3-1 .3-1.8 .2 .2 .3 2.2 .3-3.2 .2-2.3 .3 .5 .3 6.4 .3-2.7 .2 2.3 .3-4.4 .3 4.6 .2 .6 .3-.9 .3-2.2 .2-2.2 .3 2.2 .3 .6 .2 .8 .3-1 .3-.8 .3-1.9 .2 1.1 .3 2.3 .3 .9 .2-3.5 .3 3 .3 .4 .2-.9 .3-.3 .3 0 .3 .6 .2-2.5 .3-.5 .3 2.2 .2 1.3 .3 .4 .3-1.2 .2-.9 .3-2.1 .3 .1 .2 1.2 .3 2.7 .3-.6 .3-.3 .2-1.4 .3-2.2 .3 2.5 .2 1.5 .3-.2 .3-3.8 .2 1.7 .3-.5 .3-3.7 .3-.3 .2 1.4 .3 3 .3 2.1 .2-1.8 .3 .9 .3 1 .2-.6 .3 3.4 .3-2.8 .2 .1 .3-.7 .3 .8 .3-.8 .2 1.3 .3-2.6 .3 2.4 .2-1 .3 2.4 .3-1.1 .2 2.3 .3-5.1 .3-1.1 .2 2.8 .3-1.4 .3 2 .3 4.1 .2-5.1 .3-.6 .3-.3 .2 .3 .3 .6 .3 .2 .2 3 .3 .9 .3-5.2 .3 .9 .2 1 .3 2.4 .3-2.2 .2-1.1 .3-1 .3 1.6 .2 2.5 .3-3.1 .3 1.5 .2-5.3 .3 8.8 .3-4.6 .3 .8 .2-.9 .3 .3 .3-.8 .2 2.9 .3-3.5 .3 .9 .2 1.2 .3-.7 .3-.6 .2 .3 .3 2.1 .3-3.1 .3-1.4 .2 .2 .3 1.8 .3 .8 .2 2.1 .3-5.2 .3 .5 .2 10.1 .3-7.6 .3-2.6 .3 4 .2-1.6 .3 2.4 .3-1.8 .2-4.2 .3 4.9 .3-.4 .2-.3 .3-3.1 .3 4.4 .2-2.4 .3-1.8 .3 1.8 .3-.1 .2 .2 .3-.6 .3 .8 .2-1.9 .3 .8 .3-.3 .2-.1 .3 .2 .3-3 .2 9.9 .3-7.4 .3 2.5 .3-.2 .2 1.8 .3-3.2 .3-1.2 .2 1.3 .3-1 .3 2.8 .2-1.6 .3-2.4 .3 2 .3-.5 .2 4.1 .3-.4 .3 .6 .2-1.8 .3-2.1 .3-1.6 .2-3.8 .3 6.7 .3 1.3 .2-.4 .3-3.1 .3 3.7 .3-5.1 .2 5.3 .3-.6 .3 .3 .2-2.2 .3 3.6 .3-3.3 .2-1.6 .3 1.4 .3 3.9 .3-4 .2 1.3 .3-1 .3-.5 .2 2.9 .3-2.7 .3 1.7 .2-1.4 .3 .6 .3-.7 .2-2.2 .3 4.7 .3-4.2 .3 .8 .2-3.6 .3 2.7 .3 3.4 .2-1.4 .3-.2 .3-4.6 .2 8.1 .3-1.6 .3-6.6 .2 5.8 .3 2.2 .3-2 .3-2.7 .2 1.1 .3 0 .3-1.5 .2 4 .3-1.3 .3-1 .2 1.9 .3-.4 .3-1.3 .3-2 .2 2.5 .3-2 .3 3.5 .2-3.3 .3 7.3 .3-3 .2-.1 .3-5.1 .3-3.9 .2 3.9 .3-1 .3 4.7 .3 1.3 .2-2.6 .3 .2 .3-1.3 .2 .8 .3 1.1 .3-.7 .2 3 .3-.8 .3-.1 .2 5.5 .3-7.7 .3-1.2 .3-.1 .2 2.7 .3 .2 .3-2.4 .2 1.8 .3-4.6 .3 6.4 .2-2.9 .3-1.9 .3 5.2 .3 .6 .2-6.1 .3 2.1 .3 1.3 .2 0 .3-1.5 .3 .3 .2-.5 .3-.2 .3-.7 .2 1.5 .3 1.1 .3-3.5 .3-.3 .2 2.5 .3 .8 .3 1.6 .2-.4 .3 7.5 .3-9.8 .2 1 .3 0 .3-4.2 .3 3.4 .2 1.5 .3-3.4 .3-1.7 .2-.3 .3 4.9 .3-.2 .2-.6 .3-.3 .3-.7 .2 .5 .3-2.7 .3 3.4 .3 .7 .2-2.7 .3 4.9 .3-6.4 .2 5.2 .3-2.3 .3 5.2 .2-4.4 .3 1.8 .3-1 .2 5.1 .3-2.2 .3-4.4 .3 5.1 .2-4.2 .3 1 .3-.6 .2 1.1 .3-4.2 .3 1.7 .2 1.5 .3-2.4 .3 4.2 .3-1.4 .2-3.8 .3 1.9 .3 2.6 .2-.7 .3-5.3 .3 6.2 .2 .2 .3-4.4 .3 .5 .2 .8 .3-1.3 .3 2.3 .3 2.8 .2-1.6 .3-.4 .3-4 .2 3 .3-1.1 .3 2.2 .2 1.6 .3-3.2 .3-.8 .2 1.8 .3-.2 .3 .6 .3-.2 .2-.8 .3-5.2 .3 3.4 .2 .3 .3 3.2 .3-1.8 .2-1.1 .3 5.8 .3-3.5 .3-1.1 .2 .4 .3 3.3 .3-3.7 .2 .4 .3-1.8 .3 5.2 .2-1.9 .3-1.9 .3-2.8 .2 1.3 .3 2.1 .3 .9 .3 .1 .2-1.6 .3-.9 .3 1 .2 2.2 .3 .7 .3-7.6 .2 4 .3-7.7 .3 9.8 .2-1.5 .3 .7 .3-3.4 .3 5.2 .2-7.2 .3 7.7 .3-3.1 .2 2.2 .3-2.9 .3 .8 .2-1.4 .3 5.3 .3-2.4 .3-3.2 .2 6.6 .3-6.4 .3 1.5 .2 1.5 .3 .5 .3-1.1 .2-1.1 .3 3.3 .3-1.3 .2-1.7 .3 1.3 .3-1.1 .3-6.1 .2 5.8 .3-1.6 .3 2.8 .2-3.5 .3 1.5 .3 2.1 .2 .2 .3-4 .3 6.5 .3-1.7 .2-2.1 .3 0 .3 .4 .2 1.5 .3-.6 .3-.9 .2 2.7 .3-5.4 .3-1.2 .2 6.8 .3-2.8 .3-.3 .3-8.7 .2 12.7 .3-4.1 .3 8.9 .2-8.3 .3 2.5 .3-3.2 .2-2.1 .3 5.2 .3-4 .2 .1 .3 3.7 .3-4.6 .3 3 .2-2.6 .3 2.4 .3 0 .2-.6 .3 5.3 .3-7.8 .2 1.3 .3-1 .3 2.1 .3 .7 .2 1.4 .3-2.7 .3-.8 .2 1.3 .3 1.4 .3-5 .2 .4 .3 2.7 .3-1.3 .2 1.7 .3 1.9 .3 .3 .3-.4 .2 1 .3-4.9 .3 1.9 .2-1.9 .3 2 .3 1 .2 .2 .3-.3 .3 3.5 .2-5.7 .3 2.3 .3 4.4 .3-4 .2 .4 .3-2.8 .3 1.4 .2 2.3 .3 3.5 .3-7.7 .2 .9 .3 1.1 .3-.1 .3 .7 .2-2.5 .3 4.4 .3-3.4 .2 2.7 .3 3.4 .3-2.8 .2-3.9 .3-2.6 .3 5.4 .2-.6 .3-4 .3 1.6 .3 1.6 .2-.4 .3-1.4 .3 3.5 .2-4.1 .3 1.6 .3 .5 .2 1 .3 .2 .3-2.6 .3 2.2 .2-1.9 .3-.2 .3 2.3 .2-1.4 .3 .7 .3 1.2 .2-3.5 .3 2.2 .3 8 .2-7.8 .3-2.6 .3 5 .3-.4 .2-1 .3-3.4 .3 5 .2-3.4 .3 1.1 .3 .3 .2 .9 .3-3 .3-.9 .2 2.1 .3 1.5 .3-2.8 .3 3.1 .2-.6 .3-3.4 .3 6.6 .2-6.9 .3 2.5 .3 .7 .2 .7 .3 .8 .3-4.3 .3 .6 .2 .2 .3-.8 .3 2.4 .2-3.4 .3 3.3 .3-3.6 .2 2.8 .3 1.2 .3 .3 .2 .1 .3 1.1 .3-.3 .3 1 .2-4.2 .3 1.1 .3 0 .2-.2 .3 .7 .3-4.3 .2 3.8 .3-.3 .3-.9 .2 1.9 .3 .1 .3 0 .3 1.6 .2-1 .3 .2 .3-.3 .2-.2 .3 2.5 .3-1.3 .2-1.4 .3-.6 .3 3.3 .3 0 .2-3.6 .3 1.1 .3-.4 .2 2.6 .3-5.9 .3 1.2 .2 0 .3 2.9 .3-.7 .2-4.5 .3 4.8 .3-5.2 .3 2.1 .2-1.7 .3 5.2 .3 .4 .2-1.2 .3 .9 .3-.2 .2-5.2 .3 7.9 .3-3.1 .2-.5 .3 2.6 .3 .7 .3-4.1 .2 .9 .3-3 .3 5.4 .2-1.4 .3 .1 .3-2.3 .2 .8 .3-.6 .3 2.3 .3 .5 .2-2.7 .3 1.5 .3-3.8 .2 1.1 .3-.2 .3 .6 .2 2.1 .3-2.6 .3 2.2 .2 2.2 .3-2.2 .3 2.1 .3-.5 .2-4.8 .3 1 .3 .6 .2 .5 .3-.1 .3 3 .2 .1 .3-2.2 .3-.2 .3 2.3 .2-1.5 .3-1.4 .3 1.9 .2 1.7 .3-2.1 .3-1.7 .2 1.1 .3 1.8 .3-.5 .2 .1 .3-1 .3-3.8 .3 5.6 .2-2.8 .3-.9 .3 2.8 .2-.9 .3-3.4 .3-.1 .2 3.9 .3-.8 .3 .5 .2 1.2 .3-2.8 .3-1.7 .3 1.2 .2 3.2 .3 1 .3 .7 .2 1.1 .3-5.2 .3 1.5 .2-5 .3 5.7 .3-2.3 .3-.9 .2 .2 .3 1.2 .3 5.2 .2-3.3 .3-2.2 .3 4.9 .2-4.2 .3 1.5 .3-3.5 .2 3.8 .3-.9 .3 .5 .3-3.3 .2 2.7 .3 .2 .3 3.6 .2-2.6 .3 1.5 .3-3.3 .2 2.4 .3 .7 .3-2.1 .2-.2 .3 1 .3 1.5 .3-1.8 .2-1.3 .3 .3 .3 .7 .2-2.7 .3 3.1 .3-1.2 .2-1.3 .3-.9 .3 4.9 .3 .4 .2-1.8 .3-.3 .3-.9 .2 5.2 .3-6.4 .3-.1 .2 1.1 .3-4.1 .3 6.2 .2 .2 .3-1.1 .3-3.6 .3 .3 .2 3.9 .3-3.4 .3 .6 .2 .9 .3-.9 .3 .1 .2 2.1 .3 1.2 .3-10.7 .2 5 .3 8 .3-5.6 .3 2 .2-1.7 .3 1.5 .3 2.2 .2-5.6 .3-6.1 .3 6.5 .2 5.8 .3-4.4 .3 1.5 .3 0 .2 .3 .3-.2 .3 .1 .2 .9 .3-3.5 .3 5.4 .2-8 .3 2.6 .3 1.3 .2 1.7 .3-4.3 .3 7 .3-6 .2 3.5 .3 .1 .3-3.6 .2-3 .3 2.1 .3 3.8 .2-1 .3 .8 .3-3.4 .3 3.3 .2-.6 .3 1.6 .3-3.9 .2 1.3 .3 0 .3 2.1 .2-2.6 .3-.1 .3 3.6 .2-1.7 .3-.1 .3-3.1 .3 .3 .2 1.4 .3 2.8 .3-2.2 .2-1.1 .3 .4 .3 4.7 .2-3 .3 1.3 .3-3.1 .2 2.2 .3 2.1 .3-3.8 .3 1.2 .2 1.6 .3-1.1 .3 1.1 .2-5.5 .3 4.1 .3 2.8 .2-6 .3 .9 .3 3.9 .3 1.8 .2 2.6 .3-6.1 .3-1.7 .2 2.3 .3-.3 .3 3 .2-.5 .3-3.9 .3 2.4 .2-2.4 .3 1.2 .3-1.9 .3 .1 .2 .5 .3-1 .3 4.1 .2-2.7 .3 1.3 .3 1.1 .2 6.2 .3-7.3 .3 .6 .2-3.2 .3 1.4 .3-4.3 .3 5.6 .2-2 .3 2.2 .3-1.9 .2 1.9 .3-.3 .3 .3 .2-1.6 .3 1.7 .3-2 .3 .9 .2 .2 .3-.1 .3 1.2 .2 .3 .3-2.1 .3-2.6 .2 4.6 .3-4.3 .3-.7 .2 .2 .3-.1 .3 5.4 .3-1.9 .2 2.1 .3-1.6 .3-.8 .2-.1 .3-.1 .3 .5 .2-1 .3 1.6 .3 .3 .3-3.4 .2 2.4 .3 .5 .3-2.1 .2 5.4 .3-3.8 .3 1.5 .2 .1 .3-4.5 .3 2.1 .2-2.6 .3 4.1 .3-2.8 .3 2.8 .2 1.7 .3-3.4 .3-2.5 .2 2.5 .3 .3 .3 1.4 .2-2.5 .3-7.1 .3 10.5 .2-5.8 .3 3.2 .3 3.8 .3-3.9 .2-5.1 .3 8.6 .3-3.1 .2-3.1 .3 .2 .3 4.4 .2-2.9 .3 2.5 .3-2.4 .3 3.2 .2-2 .3-.3 .3 1 .2 .1 .3 0 .3 .4 .2-6 .3 5.8 .3 2.9 .2-3 .3 .7 .3-3.1 .3 4.2 .2-1 .3-2.2 .3 2.2 .2-.2 .3-3.8 .3 2 .2 1.9 .3 2.2 .3-3.6 .2-.6 .3-.5 .3 1.8 .3 1.2 .2 2.2 .3-1.2 .3-4 .2 1 .3 .9 .3-1 .2 .5 .3-2.9 .3 .3 .3 8.4 .2-13.4 .3 7 .3 1.9 .2 .6 .3-6.8 .3 2.5 .2 .4 .3 0 .3 2.8 .2 4.3 .3 1.3 .3-7.8 .3 1.6 .2-2 .3-2.7 .3 7 .2-2.4 .3-4.7 .3 5.8 .2-.1 .3-1.8 .3-1.1 .2-3.7 .3 3.3 .3 2.4 .3 5.4 .2-6.7 .3-2.1 .3 1.3 .2 3.4 .3-3.7 .3 1.7 .2 3.7 .3-3.8 .3-.5 .3 1.1 .2-2.1 .3-.5 .3-1.3 .2 2.1 .3 1 .3-6.4 .2 7.6 .3 4.1 .3-6.2 .2 1.4 .3 2.8 .3-2.7 .3-5.1 .2 5.6 .3-4.5 .3 1.3 .2 1 .3-.2 .3 5.7 .2-6.5 .3 .3 .3 3.8 .3 .1 .2-2.1 .3 1.6 .3-2.2 .2 .6 .3 1.1 .3-4.1 .2-2.2 .3 5.2 .3-.7 .2 .7 .3-.5 .3 6 .3-5.1 .2-2.4 .3 .6 .3-2 .2 7.2 .3-6.8 .3-1 .2 3.5 .3 1.2 .3-4.9 .2 5.5 .3-2.1 .3-3.7 .3 4.3 .2 2.7 .3-4.6 .3 .6 .2 .5 .3-2.9 .3 4 .2-2.2 .3-1.8 .3 1.2 .3 4.7 .2-2.2 .3-4.6 .3 4.9 .2 .3 .3-4.5 .3 2.5 .2 1 .3-2 .3-6.6 .2 11.9 .3-9.2 .3 5.2 .3 .5 .2-2.9 .3 1.6 .3 .8 .2-4 .3-.2 .3-1.7 .2 5.6 .3-2.3 .3-2.7 .2 5 .3-1 .3 4.4 .3-4.6 .2-.3 .3 1.2 .3-3.5 .2-.3 .3-2.4 .3 4 .2-1.7 .3 1.2 .3-9.4 .3 12.8 .2-2 .3 .1 .3-7.6 .2 5.2 .3-2.8 .3-.1 .2 6.9 .3-8.2 .3 4.5 .2-1.4 .3-1 .3-2.5 .3 2.8 .2-.6 .3 1.8 .3-2.9 .2 1.7 .3 .3 .3 1.7 .2-3.9 .3 3.2 .3-2.4 .2 1.6 .3-.6 .3-3.3 .3-.3 .2-1.4 .3 4 .3-2.3 .2-2.3 .3 5.4 .3-3.6 .2-2 .3 4.1 .3-4.5 .3 4.3 .2-3.2 .3-1 .3 2 .2-5 .3 1.6 .3-.1 .2 .4 .3-2.5 .3 2.7 .2 .6 .3 .3 .3-6.4 .3 2 .2 1.2 .3-3 .3 2.8 .2-2.1 .3 1.3 .3 2.1 .2-5.3 .3 .9 .3-4.1 .3 5.8 .2-8.1 .3 .2 .3-1.9 .2-.4 .3 1.1 .3 4.5 .2 4 .3-11.1 .3-1.5 .2 1.6 .3-2.5 .3-.8 .3-6 .2 4.7 .3-7.1 .3 .3 .2 .3 .3-.4 .3-5.2 .2 2.2 .3 0 .3-3.8 .2-2.5 .3-2.9 .3-1.6 .3-6.1 .2 8.2 .3-6.9 .3-6.1 .2 5.1 .3-8.6 .3-6.2 .2 .8 .3 4.1 .3-7.3 .3-7 .2 4.5 .3-7.7 .3-.8 .2-10.1 .3 .8 .3-.1 .2 2.1 .3-10.7 .3 1.7 .2-6.9 .3-5.1 .3 1.7 .3-5.4 .2-9.9 .3 2.4 .3-2.3 .2-7.1 .3-4.1 .3-1.4 .2 8.1 .3-12.7 .3 .1 .2-2.7 .3-1.3 .3-1.7 .3 2.8 .2-2.8 .3-1.5 .3 .9 .2-.1 .3 1.7 .3 1.9 .2 2.8 .3 0 .3 1.8 .3 4.1 .2 .3 .3 1 .3 5.4 .2 4.7 .3-3.5 .3 14.6 .2-9.1 .3 9.2 .3 4.2 .2 3.6 .3-12.6 .3 16.8 .3 4.7 .2 5.1 .3-4.7 .3 8.9 .2 10.2 .3-9.3 .3 8.1 .2-2.6 .3-3 .3 7.9 .3 3 .2 6.5 .3 3.8 .3-2.5 .2 7.2 .3-.8 .3-1.5 .2 6.9 .3 5.4 .3 1.6 .2 1.5 .3-2.3 .3 .1 .3 5.1 .2 2 .3 .4 .3 1.1 .2-1.2 .3 3.5 .3-2 .2 11.2 .3-4.1 .3 4.3 .2-5.9 .3 4.6 .3 3.7 .3-4.4 .2 3.9 .3 0 .3 7 .2-3.4 .3-.7 .3 3.7 .2-1.5 .3 .6 .3-.7 .3 6.3 .2-5 .3 2.9 .3 1.5 .2-4 .3 1.8 .3 3.5 .2-3 .3 1.4 .3 1 .2-.1 .3 2 .3-2.2 .3 1.7 .2-.7 .3 3 .3-.7 .2 .3 .3-.7 .3-2.9 .2 1.7 .3-.4 .3 2.1 .2 .2 .3 2.2 .3 .4 .3-6 .2 1.8 .3 3.6 .3-4.9 .2 5 .3-.8 .3-.7 .2 .8 .3-.8 .3 .1 .3 .9 .2-1.6 .3 2.5 .3 1.3 .2-1.8 .3-2 .3 1.7 .2-2.1 .3 4.4 .3 8.3 .2-11.8 .3 5.8 .3-2.4 .3-2.7 .2 4.2 .3-4.6 .3 2.9 .2 1.1 .3-3 .3 1.6 .2 3.6 .3-3.6 .3 3.1 .2-2.5 .3-8.5 .3 8.1 .3-1 .2 2.8 .3-2.5 .3 1.6 .2-.5 .3-.9 .3 .9 .2-.4 .3 2.8 .3-1 .3-2 .2 2.1 .3-1.6 .3 4.7 .2-5.3 .3-.1 .3-.6 .2 4.8 .3 .2 .3 1 .2-5.7 .3 1.6 .3 .9 .3 .9 .2-2.5 .3 .7 .3-.8 .2 3 .3-1.1 .3 .7 .2 .3 .3 .8 .3 .8 .3-.1 .2-1 .3-1.7 .3-.3 .2-.8 .3-.6 .3 2.2 .2-.4 .3 1.2 .3-3.8 .2 5.6 .3-1 .3-.2 .3 1 .2-4.8 .3 6.5 .3-5.6 .2 3.6 .3 .8 .3-3.7 .2 1.7 .3 1.8 .3-4.8 .2 5.1 .3-2.3 .3-1 .3 4.1 .2-2.5 .3 3 .3-1.6 .2 1.8 .3-1.4 .3-2 .2 1.4 .3-2.7 .3 5.8 .3-1.4 .2-1.9 .3 1.5 .3-1.6 .2-7.8 .3 6.1 .3 3.9 .2-1.4 .3-3 .3 .6 .2 2.7 .3 2.3 .3 3.3 .3-4.5 .2 .3 .3 1.4 .3-1.3 .2-2.2 .3-1.1 .3 1.1 .2-.4 .3 .3 .3 .8 .2 .5 .3-1.8 .3 .9 .3 1.8 .2-3.1 .3 3.3 .3-2.3 .2 3.2 .3-3.5 .3 2.2 .2 .5 .3-.5 .3-8.5 .3 7 .2 2.7 .3 2.2 .3-8.2 .2 3.5 .3-1 .3 1.1 .2-.2 .3 1.7 .3-1.4 .2-1.9 .3 4.5 .3-4 .3 3.1 .2 .3 .3-1.6 .3 1.8 .2-.5 .3-1.7 .3-4.7 .2 7.1 .3-2.3 .3 1.3 .2-.3 .3 1.1 .3-.2 .3-2.1 .2 .1 .3-1.3 .3 1.4 .2 2.3 .3 1.9 .3-1.7 .2-4.1 .3 3.5 .3 .6 .3-4.4 .2 7.5 .3-13.1 .3 8.5 .2-1.1 .3 1.6 .3-.3 .2 2.1 .3-1.9 .3-1.3 .2 1.6 .3-1 .3 .3 .3 1.1 .2-2.5 .3 2.2 .3-1.4 .2 4.2 .3-2 .3-.1 .2 .4 .3-1.5 .3-.9 .3 1 .2 1.8 .3-4.1 .3 1.3 .2-.5 .3 1.1 .3-.1 .2 3.3 .3-.8 .3-2.1 .2-2 .3 2.1 .3 3.6 .3-3.2 .2-.5 .3 1.4 .3-.2 .2-.1 .3 .8 .3-2.8 .2 1 .3 1.7 .3 .5 .2 1.2 .3-3.5 .3-2.4 .3 1.6 .2 2.1 .3-2 .3 5.6 .2-2.4 .3-.6 .3-1.9 .2 1.8 .3-3 .3 2.8 .3 .6 .2-1.1 .3 .8 .3-1.5 .2-2.1 .3 3.3 .3-2.4 .2-.8 .3 2.7 .3 1.4 .2 2.7 .3-2.5 .3 2.1 .3-.2 .2-4.1 .3 1.3 .3 .3 .2 2.8 .3-.1 .3-6.3 .2 2.1 .3-5.4 .3 6.2 .2-.3 .3 .1 .3 2 .3-2.3 .2 3.1 .3 .1 .3-1.6 .2 2.4 .3-1.8 .3 3.7 .2-3.4 .3-2.8 .3 2.1 .3-.2 .2-.5 .3 3.2 .3-3.9 .2-1 .3 3.7 .3 .3 .2 1.2 .3-3.9 .3 .1 .2 2.4 .3-.5 .3-.7 .3-.3 .2-.9 .3 .6 .3 1.7 .2-1.5 .3 1.5 .3-2 .2 2 .3-2.2 .3 3.7 .3-3.3 .2 1.5 .3-.4 .3-1.4 .2 .8 .3 3.2 .3-1 .2 .5 .3-.4 .3-4.1 .2 2.4 .3 1.4 .3-.6 .3 1.6 .2-.8 .3-1.4 .3 3.2 .2-2.5 .3 1.7 .3-6.2 .2 4.1 .3-.9 .3 2.3 .2-.7 .3 .7 .3-3.2 .3 1.6 .2 4.6 .3-4.8 .3-.3 .2-1.7 .3 .4 .3 4.4 .2 1.8 .3-5.3 .3 5.4 .3-2.7 .2-4.5 .3 2.7 .3 3.6 .2-3.1 .3 5.1 .3-4.3 .2-1.6 .3 .2 .3 .3 .2 2.7 .3-3.4 .3 2.1 .3 3.6 .2-2.9 .3-2 .3 .7 .2 .1 .3-1.1 .3-.4 .2 3 .3-1.1 .3 3.5 .2-7.6 .3 4.1 .3 2.1 .3 .4 .2-1.8 .3-3.2 .3 3 .2 6.6 .3-9.3 .3 4.4 .2-3.2 .3-.1 .3 .4 .3-.4 .2 1.3 .3-1.1 .3 4.3 .2-5 .3 6.2 .3-2.9 .2-3.8 .3 4.1 .3-1.4 .2 .1 .3 .7 .3-1.4 .3 2.3 .2-3.4 .3 2.9 .3-2.3 .2-1.8 .3-.4 .3 11.3 .2-8.7 .3 1.3 .3-2.9 .2 2.8 .3-2.3 .3 4.7 .3-2.4 .2-2.1 .3 1.4 .3 1.7 .2-3.3 .3 1.2 .3 3.7 .2-3.9 .3 1.8 .3-2 .3 3.9 .2-.4 .3-.8 .3 4.1 .2-4.3 .3 2.9 .3-1.4 .2-.2 .3-2 .3-1.5 .2-.4 .3 1 .3-.8 .3 2.3 .2 .3 .3-.6 .3-1.7 .2 0 .3 3.9 .3-.4 .2-.4 .3-.1 .3-1.5 .3 .2 .2 .7 .3-2 .3 1.2 .2 .1 .3-2.9 .3 6.4 .2-4.4 .3-1.2 .3-1 .2 2.1 .3-.7 .3-1.1 .3 5.7 .2-.6 .3-2.6 .3 .4 .2-8 .3 12.9 .3-6.2 .2 2.8 .3-3.1 .3 0 .2 2.4 .3 2 .3-.6 .3-5.8 .2 4.1 .3-5 .3 5.5 .2 .1 .3-.9 .3-.7 .2 .1 .3 1.6 .3-3.7 .3 1.6 .2 4.3 .3-2.7 .3 .5 .2-2.2 .3 2.7 .3-.1 .2-.2 .3-2.5 .3 1 .2-4 .3 5.8 .3-1.7 .3 .3 .2 2.3 .3-2.3 .3 2.3 .2 0 .3-4.6 .3 5.2 .2-10 .3 9.1 .3 .3 .2-2.5 .3-.7 .3 2.5 .3-1.8 .2-8.7 .3 8.5 .3-1.5 .2 1.9 .3-.6 .3-.8 .2-.2 .3 .5 .3-2.1 .3 4.8 .2 .6 .3-2.1 .3-2.3 .2-.2 .3 2.4 .3 2.7 .2-5.8 .3 3.8 .3 2.5 .2-4.9 .3 4.5 .3-1.9 .3-1.5 .2 3 .3-2.6 .3-.9 .2 3.5 .3-2.8 .3 .3 .2 3.3 .3-2.8 .3 2 .3-.4 .2 .6 .3 2 .3 3 .2-6.7 .3 1.6 .3-2.9 .2 .9 .3 1.2 .3-.9 .2-1.4 .3 1.9 .3 1.2 .3 .2 .2-5 .3 .3 .3 1 .2-.6 .3 3 .3-.1 .2 .8 .3-2.7 .3 3.2 .2-2.1 .3 2.5 .3-1.6 .3 1 .2-.6 .3-.4 .3 .7 .2 .1 .3 .6 .3-.3 .2-3.6 .3 1.1 .3-1.3 .3 4.1 .2-3.7 .3-1 .3 6.1 .2-1.5 .3-3.1 .3 2.6 .2-3.7 .3 2.6 .3-.4 .2-1.7 .3 .5 .3 1 .3 1.9 .2 2.5 .3-3.8 .3-1.5 .2 1.4 .3 1.8 .3-1.9 .2-.6 .3 2 .3 5.1 .2-5.5 .3-.9 .3-2.5 .3 4.3 .2-2 .3 .7 .3 3 .2-5.9 .3 6.1 .3-4.5 .2 2.9 .3-1.6 .3 1.4 .3-1.8 .2-2.9 .3 6.5 .3-4.1 .2 2.9 .3-.2 .3-3.9 .2 2.1 .3-1.3 .3 2.9 .2-3.2 .3 .1 .3 4.1 .3-.5 .2-1 .3-.9 .3 .8 .2 1.4 .3-2.6 .3-1.3 .2 .8 .3 1.1 .3-2.4 .2 3 .3 5.6 .3-7.9 .3 .8 .2-.2 .3 2.5 .3-8.6 .2 8.5 .3 .5 .3-1.1 .2-.9 .3-2.5 .3 1.4 .3 .8 .2-1.1 .3 0 .3 2.1 .2-2.2 .3 1.5 .3 3.3 .2-1.1 .3-3.4 .3 .8 .2 2.6 .3-1.1 .3 1.7 .3-2.8 .2 .6 .3 3.6 .3-1.9 .2-.2 .3 1.5 .3-5.4 .2 5.3 .3-1.3 .3-2.3 .3-.5 .2-.4 .3 1.9 .3-1 .2 .4 .3 .4 .3-.2 .2 4.4 .3-3.3 .3-.8 .2 6.3 .3-5.7 .3 0 .3 1 .2-4.1 .3 6 .3-3.2 .2 2.2 .3-1.8 .3-2.6 .2 2.3 .3-1.3 .3 3.3 .2-2.6 .3 4.4 .3-5.6 .3 4.1 .2-2 .3 1 .3-.4 .2 .2 .3-1.9 .3 1.6 .2-1 .3 2.6 .3-2.4 .3-1.1 .2 4.2 .3-6.3 .3 2.6 .2 1.5 .3-.8 .3-.8 .2 3.6 .3-3.3 .3 1.8 .2-2.8 .3 .3 .3 5.3 .3-.8 .2-1 .3-3.5 .3 1.1 .2 10.3 .3-7.3 .3-3.5 .2 6.1 .3-7.7 .3 3 .2 1.6 .3-2.9 .3-.5 .3 4.5 .2-3.3 .3-1.9 .3 1.6 .2-1.1 .3 2.4 .3 .2 .2-2.9 .3 .4 .3 .5 .3 3 .2-1 .3 1.2 .3-5.5 .2-1.6 .3 6 .3-1.2 .2 4 .3-5 .3 .4 .2 .5 .3-.5 .3 .2 .3 2.3 .2-1 .3 .6 .3 1.1 .2-2.4 .3 1.1 .3 .6 .2-.6 .3-1.5 .3 0 .2 3.5 .3-4.9 .3 1.5 .3-2.6 .2 5 .3-1.3 .3-3.7 .2 1.8 .3 3.5 .3-2.8 .2 2.3 .3-.8 .3-3.2 .3 3.7 .2-1.2 .3 .4 .3-5.3 .2 4.8 .3 3.1 .3-3.9 .2 3.3 .3-3.5 .3-1.9 .2 1.9 .3 3.3 .3-1.8 .3-.5 .2-.4 .3 1.7 .3-3.2 .2 1.5 .3 .4 .3-2.3 .2 7 .3-3.8 .3 .3 .3-.9 .2-1.5 .3-.4 .3-.5 .2 1.7 .3-.7 .3 1.4 .2 1.6 .3-1.1 .3 .1 .2 2.4 .3 1.7 .3-2.6 .3-3.4 .2 3.3 .3-2.4 .3 4.7 .2-5.1 .3-.7 .3 1.3 .2-1.7 .3 3.6 .3-2.4 .2 .2 .3 7.1 .3-4.9 .3-.8 .2-2.2 .3 3.7 .3-4.5 .2 3.3 .3 2.5 .3-5.9 .2 1.4 .3 .1 .3 1.8 .3-1 .2 1.9 .3-4.1 .3 2.4 .2 1.9 .3-.7 .3-2.4 .2 3.2 .3-3.6 .3 2.5 .2-.4 .3-1 .3-.5 .3 1.6 .2-.8 .3 1.2 .3 1.4 .2-5.8 .3 4.5 .3-.3 .2 .6 .3-1.6 .3 4.2 .2-1.2 .3-2.2 .3 .5 .3-3.7 .2 4.5 .3 .7 .3-3.8 .2 1.7 .3 1.4 .3 0 .2-2 .3 .6 .3-.2 .3 1.8 .2-5.9 .3 8.5 .3 1.8 .2-5.4 .3-1.9 .3 .9 .2-1.7 .3 1.5 .3-4 .2 3.3 .3 3.2 .3-4.3 .3-.1 .2 5.6 .3-2.3 .3-.5 .2 .4 .3 .7 .3-1.5 .2-.1 .3 1.4 .3 5.6 .3-5 .2-2.1 .3-1.2 .3 .5 .2 2.6 .3 3.8 .3-6.3 .2 1.6 .3 .4 .3-2.4 .2-.2 .3-.1 .3 3.1 .3-3.3 .2 1.4 .3-2.9 .3 2.3 .2-2.2 .3 2 .3-1 .2 .6 .3 3 .3-1.1 .2-2.4 .3 3.4 .3-.3 .3-3.4 .2 2.3 .3 3.7 .3-1.6 .2-1.8 .3 .3 .3 1.6 .2-.2 .3-1.3 .3 .1 .3 .3 .2 2.5 .3-4.3 .3 3.4 .2-2.2 .3 1.8 .3-2.4 .2 1.1 .3-.4 .3 .3 .2 1.6 .3-3.9 .3 .5 .3 2.2 .2-2.4 .3 1.1 .3-1.6 .2 2.4 .3-2.4 .3 3.1 .2-1.4 .3-1.4 .3 .6 .2 1.4 .3-.6 .3 1.5 .3-.4 .2 2.2 .3-2.3 .3 .4 .2-2.1 .3-.1 .3 1.1 .2 0 .3 2.7 .3-2.7 .3-.3 .2 1 .3 1.4 .3 .4 .2-1.4 .3-3.5 .3 5.6 .2-3.8 .3-1.5 .3 5.2 .2-3 .3 .9 .3 1.1 .3 .7 .2-1.2 .3-1.4 .3-3.9 .2 2.8 .3-1.1 .3 2.2 .2-.6 .3-.8 .3 1.1 .2 .9 .3 .5 .3-.2 .3-1.9 .2 3.9 .3-1 .3 0 .2-1.9 .3 .2 .3 .2 .2 .8 .3-1 .3-.8 .3 1.1 .2 2 .3-2.6 .3-.4 .2 2.9 .3-3.2 .3 1.1 .2 3.7 .3-3.8 .3 .4 .2 1.9 .3-2.5 .3-3.2 .3 4.8 .2 1.7 .3-3.8 .3 1.7 .2-2.8 .3-.7 .3 6.1 .2-6.4 .3 1.7 .3 3.4 .3-4 .2 3.3 .3-1.2 .3-1.4 .2 .2 .3 1.5 .3 1.2 .2 0 .3-2.1 .3 .5 .2-.3 .3-2.6 .3 4.6 .3-.7 .2-.2 .3-.2 .3-1.4 .2 1.9 .3 .7 .3-2.1 .2 3.2 .3-1.7 .3-3.1 .2 5.8 .3-4.8 .3 0 .3-.9 .2 1.7 .3-2 .3 1.2 .2 2.8 .3-5.1 .3 4 .2-2.2 .3 1.9 .3-.1 .3 2.5 .2-3.2 .3 1.2 .3 .7 .2 1.1 .3-5.3 .3 5.9 .2-6.8 .3 2.7 .3 3.8 .2-7 .3 6 .3-2.6 .3-1.7 .2 4 .3-2 .3 2.1 .2-2.5 .3 4.9 .3-1.7 .2-3 .3 2.2 .3-2.9 .2 3.8 .3-2.3 .3-.6 .3 1.7 .2-2.9 .3 4.1 .3-1.9 .2-.7 .3-1.9 .3 3.8 .2-.4 .3-3.3 .3 1.6 .3 1.7 .2-2.5 .3 2.8 .3 1.5 .2-1.4 .3-2.7 .3-.7 .2 1.8 .3 .2 .3-1.7 .2 4.2 .3-2.1 .3-.1 .3 2.7 .2-4 .3 1.5 .3-4.7 .2 3.7 .3-.2 .3-1.2 .2 2.5 .3-1.5 .3 .5 .2-.9 .3-2.3 .3 3.6 .3-1.2 .2-.2 .3 6.6 .3-2.9 .2-1.6 .3-2.1 .3 0 .2-.1 .3 .3 .3-3.1 .3 5.8 .2-4.3 .3 7.4 .3-5.6 .2 1.8 .3-1.1 .3 1.6 .2-2 .3 1.5 .3-2.6 .2 .5 .3 2.5 .3 2.4 .3-6.7 .2 .5 .3 3.7 .3-.7 .2 .6 .3-.5 .3 1.3 .2-1.8 .3-.1 .3 .3 .3 1.3 .2-2.1 .3-.3 .3 1.9 .2-1.6 .3-.1 .3 2 .2-1.3 .3 1 .3 1.5 .2-3.2 .3-.6 .3-1.3 .3 7.3 .2-2.9 .3-.9 .3-1.4 .2-1.7 .3 1.7 .3 3.9 .2-1.8 .3 .7 .3-1.1 .2-.8 .3-1 .3 .4 .3 .9 .2 1.9 .3-3.4 .3-.2 .2 3.1 .3-4.2 .3 .2 .2-3.3 .3 2.3 .3 7.1 .3-3.8 .2-1.7 .3 1.4 .3-.9 .2 .8 .3-1.7 .3 7.6 .2-3.3 .3-2.4 .3 1.7 .2-1.5 .3 .6 .3 0 .3 4.3 .2-3.9 .3 .3 .3-.1 .2-3.9 .3 .9 .3 .7 .2-2.3 .3 1.5 .3 4.2 .2-3.2 .3 3.5 .3-3 .3 .3 .2-.1 .3 0 .3 1 .2-.8 .3 .2 .3-1.2 .2 0 .3 3.2 .3 3 .3-4.3 .2-1.9 .3-.2 .3 1.1 .2 .9 .3-6.6 .3 5 .2-.2 .3 .9 .3 1.3 .2-.3 .3-.1 .3-.5 .3 1.3 .2-2.5 .3 2 .3-2.3 .2-.7 .3 4.7 .3-2.1 .2-.7 .3-2.2 .3 1.9 .3 .6 .2-1.1 .3 1.2 .3-3 .2 1.2 .3 1.8 .3 1.8 .2-2.3 .3-1 .3-1 .2 2.6 .3 .7 .3-2.3 .3-.6 .2 2.7 .3 1.3 .3-4.8 .2 2.7 .3 .7 .3-.7 .2-.5 .3 1.7 .3 .1 .2 2.2 .3-4.4 .3-.1 .3 3 .2-2.3 .3-.8 .3 3.6 .2-4.9 .3 6 .3-3.6 .2-2.1 .3 2.9 .3-1.4 .3 .8 .2-1 .3-2.2 .3 0 .2 2.9 .3-2.2 .3 3.3 .2 1.3 .3-.6 .3-2.6 .2 1.5 .3 1.6 .3-2.5 .3 2.2 .2-2 .3-.4 .3-1.8 .2 1.5 .3 2.5 .3-1.4 .2-.7 .3 .8 .3 2.3 .2-1.9 .3-2 .3-1.1 .3 .9 .2 2.6 .3 .4 .3-.5 .2-1.5 .3 2 .3 1.2 .2-1.8 .3-6.1 .3 8.2 .3-8.6 .2 6.7 .3-.7 .3 1.4 .2-8.7 .3 5.2 .3 2.6 .2 2 .3-1.8 .3-1.2 .2 .3 .3-1.2 .3 3.7 .3-2.8 .2 1.1 .3-.8 .3-1.7 .2 .9 .3 2.3 .3-.7 .2-1.2 .3 1.9 .3-1.5 .2-2.9 .3 1.5 .3-2.1 .3 3.5 .2-1.6 .3 .5 .3 1.4 .2 4.4 .3-3.7 .3-5.5 .2 3 .3 2.9 .3-1.9 .3-.5 .2 1.4 .3-2.5 .3 .7 .2 1.4 .3 .1 .3-3.1 .2 3.3 .3-1.4 .3-.7 .2 4 .3-4.8 .3-.8 .3 2.7 .2 1.7 .3-2.5 .3 .3 .2 .6 .3-.2 .3 2.5 .2-2.2 .3-.1 .3-1.7 .3 .8 .2-1.1 .3 4.3 .3-2 .2 1.3 .3-1.4 .3-2.5 .2 3.1 .3 .5 .3-1 .2-.2 .3 2.3 .3-1.3 .3-3.4 .2 1.7 .3 5 .3-2.1 .2-3.5 .3 1.8 .3-5.3 .2 3.5 .3 4 .3-3 .2-.5 .3-2 .3 3.4 .3 1 .2-4.8 .3 .5 .3 2.9 .2-1.8 .3 .9 .3 1 .2 6.5 .3-8.7 .3 2.9 .3-1.7 .2-.8 .3-.7 .3 2.6 .2-2.6 .3 3.7 .3 1.6 .2-5.3 .3 3.7 .3-.9 .2 1 .3-.7 .3-3 .3 1.3 .2 .5 .3 .9 .3 0 .2-1.7 .3 2.8 .3-4.2 .2 1.6 .3 .4 .3 1 .2-1.4 .3-.6 .3 .4 .3 1.4 .2 .6 .3-3.3 .3 0 .2 5.2 .3-.6 .3-.8 .2-2.5 .3 .2 .3-1.2 .3-.8 .2 .3 .3 3 .3 1.1 .2-3.3 .3 4.6 .3-1.4 .2-1.4 .3-1.3 .3 2.6 .2 2.6 .3-4.7 .3-2 .3 0 .2 1.6 .3 2.1 .3-1.6 .2-2.2 .3 4.8 .3-1 .2-1.9 .3 0 .3 3.7 .2-6.9 .3 3.8 .3-3.4 .3 2 .2-.7 .3 .5 .3-.6 .2 3.5 .3-2.5 .3 2.6 .2 .4 .3-.8 .3-.5 .3-3.7 .2 .8 .3-.1 .3 2.4 .2-2.7 .3 1.6 .3 1.4 .2 7.7 .3-7 .3 0 .2-2.8 .3 4.4 .3-5.1 .3 1 .2 .7 .3-2.6 .3 3.1 .2 .9 .3-2.8 .3-1.4 .2 4.6 .3-4.4 .3-2.1 .3 6 .2-1.8 .3 1.8 .3 .8 .2 1.9 .3-.2 .3-5 .2 .8 .3-.3 .3 2.8 .2-2.9 .3 2.9 .3-3.9 .3-.3 .2 2.8 .3-1.6 .3 2.3 .2-4.3 .3 .5 .3 3 .2 .3 .3 1.4 .3-4.4 .2 2.5 .3-1.7 .3 1.2 .3-1.7 .2 .2 .3 .9 .3 2.5 .2-5.7 .3 6.5 .3-2.9 .2 2.8 .3-4.6 .3 .9 .3 .4 .2 2.1 .3-6.9 .3 2.3 .2 4 .3-.1 .3-3.9 .2 .3 .3 2.9 .3-.4 .2-.5 .3-1.2 .3 .2 .3-2.8 .2 1.6 .3 1 .3 0 .2-.8 .3-1.2 .3 3.8 .2-2 .3-4 .3 3.5 .2 3.7 .3-1.6 .3-1.9 .3 .9 .2-3.2 .3-1.6 .3 4.2 .2-.8 .3 .3 .3-2.6 .2-.4 .3 4.9 .3-3.7 .3 .8 .2-3.8 .3 2.7 .3 2.2 .2-2.1 .3 3 .3-1 .2-1.2 .3 2 .3-3.6 .2 3 .3-1.7 .3-1.2 .3 2.4 .2-2.1 .3-.5 .3-3.6 .2 2.9 .3-.1 .3 5.1 .2-5.3 .3-1.2 .3-2 .3 .4 .2 3.2 .3-3.3 .3 5 .2-6.2 .3 3.4 .3 2.7 .2-2.6 .3 1 .3-1.8 .2 2.5 .3-5 .3 4.4 .3-3.2 .2 1.2 .3-1.9 .3 1.5 .2-1.9 .3-.5 .3-1.3 .2 .4 .3 .2 .3 2.2 .2-3.2 .3 .7 .3-3.2 .3 1.7 .2-.3 .3 3.9 .3-3.5 .2-2 .3-.6 .3 .6 .2-.9 .3 .6 .3-1.9 .3 2.2 .2 1.7 .3-8.1 .3 3.6 .2-.4 .3-1.5 .3-.8 .2 1.8 .3-1.9 .3 .7 .2-2.6 .3 .6 .3-5.7 .3 0 .2-.3 .3 3.1 .3-2.4 .2-2.3 .3 3.9 .3-1.9 .2-2.6 .3 1.7 .3-6.9 .2 2.4 .3 1.4 .3-3.1 .3-.3 .2-16.3 .3 15.1 .3-2.2 .2-2.8 .3 4.8 .3-6.6 .2 5.2 .3-10.7 .3-2.9 .3 2.2 .2 .4 .3-4.6 .3 .1 .2-3.8 .3-.6 .3-3 .2-1.6 .3 1.1 .3-4.7 .2 1.4 .3-2.4 .3-.7 .3-3 .2-2.5 .3-3 .3 .8 .2-7 .3-6.7 .3 .8 .2-17.8 .3 8.6 .3 1.8 .2-6.7 .3 2.4 .3-5.4 .3-3.6 .2 1.6 .3-3 .3-3.5 .2-.6 .3-3.2 .3 .4 .2-1.9 .3-7.4 .3 3.1 .3-2.6 .2-2.3 .3-1.2 .3-1.5 .2 1.3 .3-1.4 .3 .4 .2-.4 .3-1 .3 1.4 .2 2.6 .3 0 .3 .7 .3 1 .2 1.1 .3 2.9 .3-2.1 .2 3.6 .3 18.4 .3-13.7 .2 2.5 .3 .2 .3 7.3 .3-1.3 .2 2.4 .3 5.7 .3-4.3 .2 9.3 .3-.9 .3 4.3 .2-2.4 .3 4.1 .3-1.1 .2 4.6 .3 4.2 .3 4.4 .3 2.3 .2 1.2 .3 5.1 .3-.7 .2 2.2 .3 2 .3 1.5 .2-3.1 .3 .6 .3 7.9 .2 3.4 .3 1.2 .3-12.2 .3 12 .2 5.3 .3 2.4 .3-7.2 .2 8 .3 2.8 .3-1.8 .2-1.2 .3 3.9 .3 2.7 .3-.9 .2-1.2 .3 7 .3-5.5 .2 5.3 .3-2.8 .3 3.5 .2-2.5 .3 4.4 .3-1.2 .2 2.8 .3-.9 .3 4.6 .3-1.4 .2-4.1 .3 4.2 .3 2.5 .2 .4 .3 2.8 .3-4.2 .2 2.2 .3 6 .3-5.9 .2 1.6 .3 4.3 .3-2.1 .3-.5 .2 1 .3-2.3 .3 3.6 .2-2.9 .3 5.9 .3-3 .2 5.1 .3-2.6 .3 .8 .3 1.7 .2-4.1 .3 1.1 .3 3.3 .2-3.5 .3 3.4 .3-.9 .2-3.1 .3 2.1 .3-.9 .2 3.7 .3-.2 .3-1.9 .3-1.4 .2 2 .3 4.4 .3-4.8 .2-.9 .3 1.8 .3 .1 .2-1.1 .3 3.5 .3 .7 .3-3.4 .2 5.3 .3-5.6 .3 5.8 .2-1.5 .3-3.8 .3 1.4 .2 2.4 .3-1.9 .3 3.4 .2 .8 .3-3.9 .3 5.2 .3-3.5 .2 3.8 .3-4.4 .3 1.3 .2-4.6 .3 4.5 .3 1.9 .2-.1 .3 1.1 .3 2.4 .2-6.9 .3 3.2 .3-.5 .3 4.9 .2-5.6 .3 3.9 .3-1.1 .2-.3 .3 2.3 .3-3.7 .2 2.7 .3-.7 .3 .9 .3-1.5 .2-2.7 .3 3.5 .3 .8 .2-2.2 .3 2 .3 0 .2-.5 .3-3.2 .3 4.6 .2-8.2 .3 8.7 .3-1 .3-.4 .2 8.1 .3-12.4 .3 4.6 .2 .3 .3-2.9 .3 2.3 .2 2.1 .3 4.2 .3 .4 .2-5 .3-1.3 .3 3.9 .3-2.5 .2-2 .3 5.5 .3-4.7 .2 2.9 .3-.2 .3-.2 .2-2.9 .3 2.3 .3 5.3 .3-7.1 .2 .9 .3-1.5 .3 2.5 .2-.7 .3 1.4 .3-1 .2-5.5 .3 5.7 .3-.9 .2 2.5 .3-1.5 .3 3 .3-4.4 .2 5.9 .3-3.4 .3 2 .2-6.5 .3 2.4 .3 .6 .2 2.7 .3 .7 .3-2 .2 .7 .3-.3 .3-1.8 .3-.3 .2 2 .3-4.2 .3 3.6 .2 1.2 .3 1.1 .3-4.9 .2 2.6 .3-.6 .3-1.2 .3-2.9 .2 4.9 .3-.3 .3-.1 .2 2.3 .3-2.6 .3 1.9 .2 1.5 .3-3.5 .3 3 .2-2.1 .3-.6 .3 .9 .3-.9 .2 1 .3 1.4 .3-1.2 .2-1.9 .3 4 .3-3 .2 2.2 .3-4.4 .3 2.8 .3 .5 .2 2.1 .3-3.6 .3 2.4 .2-.9 .3-1 .3-.5 .2 .5 .3 2.9 .3-1.5 .2 .9 .3-1.2 .3 .8 .3 2.7 .2 4.1 .3-8.5 .3 .7 .2 1.7 .3-1.7 .3 1.8 .2 .5 .3 1.5 .3-2.9 .2-.4 .3-2 .3 7 .3-5.8 .2 .6 .3 2.9 .3-1.5 .2-1.6 .3 1.4 .3 .4 .2 1.8 .3-1.6 .3 .9 .3-1.9 .2 3.8 .3-4.2 .3-.1 .2 1.6 .3 1.9 .3-2.8 .2-.5 .3 1.1 .3 3.4 .2-2.8 .3 .7 .3-.7 .3-.1 .2 .6 .3-2.4 .3-.3 .2 .7 .3 1.1 .3 2.2 .2-1.4 .3 2.4 .3-4.3 .2 2.1 .3-1.3 .3 1.2 .3-1 .2 3.6 .3-2.8 .3 1.6 .2-.8 .3-3 .3-1 .2 .8 .3 3.1 .3-2.9 .3 1.7 .2-1.6 .3 .5 .3-.2 .2 1.1 .3 1 .3 .6 .2 .7 .3-.4 .3-.9 .2-2.1 .3 0 .3 .1 .3 2.9 .2-4.6 .3 3.9 .3-1.1 .2 2.2 .3-4.9 .3 2.5 .2 2.8 .3-.5 .3 .1 .2 .6 .3 .9 .3-2.7 .3-1.1 .2-.9 .3 1.5 .3 1.5 .2-4 .3 4 .3 4.1 .2-3.8 .3 .6 .3-1.7 .3-.9 .2-2.8 .3 1.7 .3 .9 .2 1.1 .3-1.1 .3 1.2 .2 0 .3-.8 .3 4.4 .2-3.9 .3 1.9 .3-2.4 .3 4.5 .2-5.6 .3-1.4 .3 2.7 .2 .2 .3 .4 .3-1.7 .2 1.9 .3 1.5 .3-2 .3-1.1 .2 1.1 .3 2.3 .3-1.3 .2-.4 .3 .2 .3-.6 .2 .5 .3-2.2 .3 3.9 .2-.4 .3-4.7 .3 1.4 .3 2.7 .2-1.5 .3 3.4 .3-4.7 .2-4.9 .3 6.6 .3-1 .2-2.4 .3 10.2 .3-5.4 .2 .4 .3-4.3 .3 1.4 .3-.4 .2 2 .3-3.4 .3 1.8 .2 3.4 .3-1.9 .3 0 .2-1.3 .3 1.5 .3 1.7 .3-2.1 .2-2.1 .3 3.2 .3 1.5 .2-2.4 .3-2.9 .3 2.5 .2-3.9 .3 7 .3-2.2 .2-1.7 .3 .5 .3 1.1 .3-.4 .2 1 .3-2.3 .3 1.2 .2-4 .3 .5 .3 3.9 .2-3.9 .3 1.2 .3 2.2 .2 .3 .3 1.1 .3-2.3 .3 1.7 .2-.7 .3 .7 .3-.2 .2 0 .3-1.2 .3 .7 .2-.4 .3-1.7 .3 5.4 .3-4 .2-3 .3 3.9 .3 .8 .2-1.6 .3 2 .3 1.9 .2-6.2 .3 2.4 .3 1.4 .2 .8 .3-1 .3-1.2 .3-1.6 .2 2 .3 2 .3-2.2 .2-1.2 .3 3.8 .3-3 .2 1.8 .3-5.1 .3 3.8 .3 1.5 .2-3.6 .3 2.1 .3-2.3 .2 2.5 .3-1.4 .3 5.7 .2-6.6 .3-.4 .3 3.1 .2-2.1 .3 .7 .3 1.1 .3-1.8 .2-2 .3 5.1 .3-3.3 .2-2.1 .3 4.5 .3-4.4 .2 4 .3-3.4 .3 2.3 .2-2.6 .3 1.3 .3 1.6 .3-2.5 .2 2.2 .3-.8 .3 2.6 .2-.8 .3-1.2 .3 1.4 .2 1.4 .3-3.1 .3 .6 .3-3.2 .2-1.1 .3 5.8 .3-1.4 .2-.9 .3-1.7 .3-1 .2 1.6 .3-1.8 .3 6.7 .2-5.7 .3 3.3 .3-1 .3-1.1 .2 2.2 .3-1.8 .3-.8 .2-3.9 .3 1 .3 1.9 .2 .6 .3-1.6 .3 5.2 .2-6.8 .3 3.5 .3 1.3 .3-3.9 .2 .2 .3 .5 .3-1 .2 .9 .3-.9 .3 .2 .2 .9 .3-4.2 .3 4.7 .3 2.2 .2-4 .3-1.5 .3-7 .2 6.1 .3 1 .3-1.2 .2 1.2 .3 1.8 .3-2.7 .2-4.1 .3 4.5 .3-2.7 .3 1.2 .2-.7 .3-.1 .3-1.6 .2-4.8 .3 4.3 .3-3.3 .2 .4 .3-1.4 .3-2.5 .2 4.8 .3-4.1 .3 4.1 .3-2.1 .2-2.1 .3-1.2 .3 .1 .2-3.9 .3 .2 .3 1.6 .2-2.6 .3-.5 .3-3.2 .3 .4 .2 2.3 .3-2.7 .3-.6 .2 1.7 .3-1.2 .3 1 .2-3.6 .3-.2 .3-.1 .2 .7 .3-1.1 .3-.5 .3-1.3 .2-.3 .3 .1 .3 1.1 .2-.6 .3 0 .3-.5 .2-.2 .3 0 .3 .5 .3 1.5 .2-2 .3 0 .3-.8 .2-4.4 .3 7.8 .3-.1 .2-1.3 .3 1.8 .3 .1 .2 .1 .3 1.6 .3 1 .3-3.1 .2 3.5 .3-5.8 .3 2.2 .2 7.7 .3-4.2 .3 0 .2 4.2 .3-4.2 .3 2.1 .2 4.1 .3-3.8 .3 4.9 .3-1.5 .2 3.7 .3-4.3 .3 3.1 .2-1.7 .3 5.8 .3-7.5 .2 5.6 .3-1.2 .3-1.6 .3 2.7 .2 1.1 .3-1.1 .3 .2 .2 0 .3-2.2 .3 5 .2 .2 .3-3.3 .3 2.5 .2-.3 .3-1 .3 2.3 .3-2.9 .2 3.8 .3 0 .3 1.4 .2 1.4 .3-1.5 .3-1.6 .2 3.9 .3-7.3 .3 4 .2 .6 .3 2.1 .3 2.4 .3-2.4 .2 .6 .3-2.1 .3 2.7 .2-1.2 .3 .8 .3 .1 .2 .8 .3-3 .3 1.8 .3 3.2 .2 .5 .3-.5 .3-.3 .2 1.8 .3 .2 .3-1 .2-.7 .3-1.8 .3 1.1 .2 3.1 .3-.8 .3-.5 .3 .5 .2-.5 .3-1.7 .3 .7 .2 1.4 .3-1.1 .3 .4 .2-3.1 .3 4.6 .3-.9 .2-1.5 .3 1.1 .3 .4 .3-.2 .2-.7 .3 1.5 .3-.9 .2 .5 .3-1.3 .3-2.2 .2 5.1 .3-3.1 .3-.2 .3 .6 .2 6.6 .3-5.8 .3-1.1 .2 5.1 .3-2.9 .3 .4 .2-.9 .3 .3 .3 1.6 .2-2 .3 1.5 .3-2.9 .3 1.8 .2-3.8 .3 4.2 .3 6.4 .2-7.1 .3 3 .3-2.8 .2-1.4 .3 2.3 .3 1.6 .3-1.4 .2-2.2 .3 3 .3-6.7 .2 8 .3-3.3 .3 1.7 .2 3.6 .3-5.9 .3 0 .2 1.8 .3-.7 .3 1.1 .3-2.2 .2 .1 .3 3.5 .3-3.2 .2-.3 .3-2.3 .3 4.2 .2 1.5 .3-.6 .3-.3 .2 .7 .3-2.6 .3-.2 .3-.1 .2 4.9 .3-6.2 .3 5 .2-4.6 .3 .1 .3 4.6 .2-1.7 .3 .3 .3-2.8 .3 1.7 .2-.3 .3-4.5 .3 4"/>
<path id="ref" stroke="#f00" stroke-width="3.4" stroke-linecap="round" d="M294.4 1200.5h27.2m-13.6-14.8v29.6M296.1 1200.7h27.2m-13.6-14.8v29.6M297.7 1200.8h27.2m-13.6-14.8v29.6M299.3 1201h27.2m-13.6-14.8v29.6M300.9 1201.2h27.2m-13.6-14.8v29.6M302.5 1201.3h27.2m-13.6-14.8v29.6M304.1 1201.5h27.2m-13.6-14.8v29.6M305.8 1201.7h27.2m-13.6-14.8v29.6M307.4 1201.8h27.2m-13.6-14.8v29.6M309 1202h27.2m-13.6-14.8v29.6M310.6 1202.1h27.2m-13.6-14.8v29.6M312.2 1202.3h27.2m-13.6-14.8v29.6M313.8 1202.5h27.2m-13.6-14.8v29.6M315.5 1202.6h27.2m-13.6-14.8v29.6M317.1 1202.8h27.2m-13.6-14.8v29.6M318.7 1203h27.2m-13.6-14.8v29.6M320.3 1203.1h27.2m-13.6-14.8v29.6M321.9 1203.3h27.2m-13.6-14.8v29.6M323.5 1203.4h27.2m-13.6-14.8v29.6M325.2 1203.6h27.2m-13.6-14.8v29.6M326.8 1203.8h27.2m-13.6-14.8v29.6M328.4 1203.9h27.2m-13.6-14.8v29.6M330 1204.1h27.2m-13.6-14.8v29.6M331.6 1204.2h27.2m-13.6-14.8v29.6M333.2 1204.4h27.2m-13.6-14.8v29.6M334.9 1204.6h27.2m-13.6-14.8v29.6M336.5 1204.7h27.2m-13.6-14.8v29.6M338.1 1204.9h27.2m-13.6-14.8v29.6M339.7 1205h27.2m-13.6-14.8v29.6M341.3 1205.2h27.2m-13.6-14.8v29.6M342.9 1205.4h27.2m-13.6-14.8v29.6M344.6 1205.5h27.2m-13.6-14.8v29.6M346.2 1205.7h27.2m-13.6-14.8v29.6M347.8 1205.8h27.2m-13.6-14.8v29.6M349.4 1206h27.2m-13.6-14.8v29.6M351 1206.1h27.2m-13.6-14.8v29.6M352.6 1206.3h27.2m-13.6-14.8v29.6M354.3 1206.4h27.2m-13.6-14.8v29.6M355.9 1206.6h27.2m-13.6-14.8v29.6M357.5 1206.7h27.2m-13.6-14.8v29.6M359.1 1206.9h27.2m-13.6-14.8v29.6M360.7 1207h27.2m-13.6-14.8v29.6M362.3 1207.2h27.2m-13.6-14.8v29.6M364 1207.3h27.2m-13.6-14.8v29.6M365.6 1207.5h27.2m-13.6-14.8v29.6M367.2 1207.6h27.2m-13.6-14.8v29.6M368.8 1207.7h27.2m-13.6-14.8v29.6M370.4 1207.9h27.2m-13.6-14.8v29.6M372 1208h27.2m-13.6-14.8v29.6M373.7 1208.2h27.2m-13.6-14.8v29.6M375.3 1208.3h27.2m-13.6-14.8v29.6M376.9 1208.5h27.2m-13.6-14.8v29.6M378.5 1208.6h27.2m-13.6-14.8v29.6M380.1 1208.7h27.2m-13.6-14.8v29.6M381.7 1208.9h27.2m-13.6-14.8v29.6M383.4 1209h27.2m-13.6-14.8v29.6M385 1209.2h27.2m-13.6-14.8v29.6M386.6 1209.3h27.2m-13.6-14.8v29.6M388.2 1209.5h27.2m-13.6-14.8v29.6M389.8 1209.6h27.2m-13.6-14.8v29.6M391.4 1209.8h27.2m-13.6-14.8v29.6M393.1 1209.9h27.2m-13.6-14.8v29.6M394.7 1210h27.2m-13.6-14.8v29.6M396.3 1210.2h27.2m-13.6-14.8v29.6M397.9 1210.3h27.2m-13.6-14.8v29.6M399.5 1210.5h27.2m-13.6-14.8v29.6M401.1 1210.6h27.2m-13.6-14.8v29.6M402.8 1210.7h27.2m-13.6-14.8v29.6M404.4 1210.9h27.2m-13.6-14.8v29.6M406 1211h27.2m-13.6-14.8v29.6M407.6 1211.1h27.2m-13.6-14.8v29.6M409.2 1211.2h27.2m-13.6-14.8v29.6M410.8 1211.4h27.2m-13.6-14.8v29.6M412.5 1211.5h27.2m-13.6-14.8v29.6M414.1 1211.6h27.2m-13.6-14.8v29.6M415.7 1211.7h27.2m-13.6-14.8v29.6M417.3 1211.8h27.2m-13.6-14.8v29.6M418.9 1211.9h27.2m-13.6-14.8v29.6M420.5 1212h27.2m-13.6-14.8v29.6M422.2 1212.1h27.2m-13.6-14.8v29.6M423.8 1212.2h27.2m-13.6-14.8v29.6M425.4 1212.3h27.2m-13.6-14.8v29.6M427 1212.4h27.2m-13.6-14.8v29.6M428.6 1212.5h27.2m-13.6-14.8v29.6M430.2 1212.6h27.2m-13.6-14.8v29.6M431.9 1212.6h27.2m-13.6-14.8v29.6M433.5 1212.7h27.2m-13.6-14.8v29.6M435.1 1212.8h27.2m-13.6-14.8v29.6M436.7 1212.8h27.2m-13.6-14.8v29.6M438.3 1212.9h27.2m-13.6-14.8v29.6M440 1213h27.2m-13.6-14.8v29.6M441.6 1213h27.2m-13.6-14.8v29.6M443.2 1213h27.2m-13.6-14.8v29.6M444.8 1213.1h27.2m-13.6-14.8v29.6M446.4 1213.1h27.2m-13.6-14.8v29.6M448 1213.1h27.2m-13.6-14.8v29.6M449.7 1213.1h27.2m-13.6-14.8v29.6M451.3 1213.1h27.2m-13.6-14.8v29.6M452.9 1213.2h27.2m-13.6-14.8v29.6M454.5 1213.2h27.2m-13.6-14.8v29.6M456.1 1213.2h27.2m-13.6-14.8v29.6M457.7 1213.1h27.2m-13.6-14.8v29.6M459.4 1213.1h27.2m-13.6-14.8v29.6M461 1213.1h27.2m-13.6-14.8v29.6M462.6 1213.1h27.2m-13.6-14.8v29.6M464.2 1213.1h27.2m-13.6-14.8v29.6M465.8 1213h27.2m-13.6-14.8v29.6M467.4 1213h27.2m-13.6-14.8v29.6M469.1 1212.9h27.2m-13.6-14.8v29.6M470.7 1212.9h27.2m-13.6-14.8v29.6M472.3 1212.8h27.2m-13.6-14.8v29.6M473.9 1212.8h27.2m-13.6-14.8v29.6M475.5 1212.7h27.2m-13.6-14.8v29.6M477.1 1212.6h27.2m-13.6-14.8v29.6M478.8 1212.5h27.2m-13.6-14.8v29.6M480.4 1212.3h27.2m-13.6-14.8v29.6M482 1212.2h27.2m-13.6-14.8v29.6M483.6 1212h27.2m-13.6-14.8v29.6M485.2 1211.8h27.2m-13.6-14.8v29.6M486.8 1211.5h27.2m-13.6-14.8v29.6M488.5 1211.3h27.2m-13.6-14.8v29.6M490.1 1210.9h27.2m-13.6-14.8v29.6M491.7 1210.6h27.2m-13.6-14.8v29.6M493.3 1210.1h27.2m-13.6-14.8v29.6M494.9 1209.6h27.2m-13.6-14.8v29.6M496.5 1209.1h27.2m-13.6-14.8v29.6M498.2 1208.4h27.2m-13.6-14.8v29.6M499.8 1207.7h27.2m-13.6-14.8v29.6M501.4 1207h27.2m-13.6-14.8v29.6M503 1206.1h27.2m-13.6-14.8v29.6M504.6 1205.1h27.2m-13.6-14.8v29.6M506.2 1204.1h27.2m-13.6-14.8v29.6M507.9 1203h27.2m-13.6-14.8v29.6M509.5 1201.8h27.2m-13.6-14.8v29.6M510.8 1200.8h27.2m-13.6-14.8v29.6M512.2 1199.7h27.2m-13.6-14.8v29.6M513.5 1198.6h27.2m-13.6-14.8v29.6M514.9 1197.4h27.2m-13.6-14.8v29.6M516.2 1196.3h27.2m-13.6-14.8v29.6M517.6 1195.1h27.2m-13.6-14.8v29.6M518.9 1193.9h27.2m-13.6-14.8v29.6M520.3 1192.6h27.2m-13.6-14.8v29.6M521.6 1191.4h27.2m-13.6-14.8v29.6M522.9 1190.2h27.2m-13.6-14.8v29.6M524.3 1189h27.2m-13.6-14.8v29.6M525.6 1187.8h27.2m-13.6-14.8v29.6M527 1186.7h27.2m-13.6-14.8v29.6M528.3 1185.5h27.2m-13.6-14.8v29.6M529.7 1184.3h27.2m-13.6-14.8v29.6M531 1183.1h27.2m-13.6-14.8v29.6M532.4 1181.9h27.2m-13.6-14.8v29.6M533.5 1180.9h27.2m-13.6-14.8v29.6M534.5 1179.9h27.2m-13.6-14.8v29.6M535.6 1178.8h27.2m-13.6-14.8v29.6M536.7 1177.6h27.2m-13.6-14.8v29.6M537.8 1176.4h27.2m-13.6-14.8v29.6M538.6 1175.4h27.2m-13.6-14.8v29.6M539.4 1174.3h27.2m-13.6-14.8v29.6M540.2 1173.1h27.2m-13.6-14.8v29.6M541 1171.9h27.2m-13.6-14.8v29.6M541.8 1170.5h27.2m-13.6-14.8v29.6M542.6 1169h27.2m-13.6-14.8v29.6M543.2 1167.9h27.2m-13.6-14.8v29.6M543.7 1166.8h27.2m-13.6-14.8v29.6M544.2 1165.6h27.2m-13.6-14.8v29.6M544.8 1164.3h27.2m-13.6-14.8v29.6M545.3 1162.9h27.2m-13.6-14.8v29.6M545.9 1161.4h27.2m-13.6-14.8v29.6M546.4 1159.7h27.2m-13.6-14.8v29.6M546.9 1158h27.2m-13.6-14.8v29.6M547.5 1156.1h27.2m-13.6-14.8v29.6M548 1154.1h27.2m-13.6-14.8v29.6M548.3 1153.1h27.2m-13.6-14.8v29.6M548.5 1152h27.2m-13.6-14.8v29.6M548.8 1150.8h27.2m-13.6-14.8v29.6M549.1 1149.6h27.2m-13.6-14.8v29.6M549.4 1148.4h27.2m-13.6-14.8v29.6M549.6 1147.1h27.2m-13.6-14.8v29.6M549.9 1145.8h27.2m-13.6-14.8v29.6M550.2 1144.3h27.2m-13.6-14.8v29.6M550.4 1142.9h27.2m-13.6-14.8v29.6M550.7 1141.4h27.2m-13.6-14.8v29.6M551 1139.8h27.2m-13.6-14.8v29.6M551.2 1138.1h27.2m-13.6-14.8v29.6M551.5 1136.4h27.2m-13.6-14.8v29.6M551.8 1134.6h27.2m-13.6-14.8v29.6M552 1132.7h27.2m-13.6-14.8v29.6M552.3 1130.7h27.2m-13.6-14.8v29.6M552.6 1128.6h27.2m-13.6-14.8v29.6M552.9 1126.4h27.2m-13.6-14.8v29.6M553.1 1124.1h27.2m-13.6-14.8v29.6M553.4 1121.7h27.2m-13.6-14.8v29.6M553.7 1119.2h27.2m-13.6-14.8v29.6M553.9 1116.5h27.2m-13.6-14.8v29.6M554.2 1113.7h27.2m-13.6-14.8v29.6M554.5 1110.8h27.2m-13.6-14.8v29.6M554.7 1107.7h27.2m-13.6-14.8v29.6M555 1104.4h27.2m-13.6-14.8v29.6M555.3 1100.9h27.2m-13.6-14.8v29.6M555.6 1097.3h27.2m-13.6-14.8v29.6M555.8 1093.4h27.2m-13.6-14.8v29.6M556.1 1089.4h27.2m-13.6-14.8v29.6M556.4 1085h27.2m-13.6-14.8v29.6M556.6 1080.5h27.2m-13.6-14.8v29.6M556.9 1075.7h27.2m-13.6-14.8v29.6M557.2 1070.6h27.2m-13.6-14.8v29.6M557.4 1065.2h27.2m-13.6-14.8v29.6M557.7 1059.4h27.2m-13.6-14.8v29.6M558 1053.4h27.2m-13.6-14.8v29.6M558.2 1046.9h27.2m-13.6-14.8v29.6M558.5 1040.1h27.2m-13.6-14.8v29.6M558.8 1032.9h27.2m-13.6-14.8v29.6M559.1 1025.3h27.2m-13.6-14.8v29.6M559.3 1017.2h27.2m-13.6-14.8v29.6M559.6 1008.7h27.2m-13.6-14.8v29.6M559.9 999.6h27.2m-13.6-14.8v29.6M560.1 990.1h27.2m-13.6-14.8v29.6M560.4 979.9h27.2m-13.6-14.8v29.6M560.7 969.3h27.2m-13.6-14.8v29.6M560.9 958h27.2m-13.6-14.8v29.6M561.2 946.1h27.2m-13.6-14.8v29.6M561.5 933.6h27.2m-13.6-14.8v29.6M561.8 920.5h27.2m-13.6-14.8v29.6M562 906.6h27.2m-13.6-14.8v29.6M562.3 892.1h27.2m-13.6-14.8v29.6M562.6 876.8h27.2m-13.6-14.8v29.6M562.8 860.8h27.2m-13.6-14.8v29.6M563.1 844h27.2m-13.6-14.8v29.6M563.4 826.5h27.2m-13.6-14.8v29.6M563.6 808.3h27.2m-13.6-14.8v29.6M563.9 789.2h27.2m-13.6-14.8v29.6M564.2 769.4h27.2m-13.6-14.8v29.6M564.4 748.9h27.2m-13.6-14.8v29.6M564.7 727.6h27.2m-13.6-14.8v29.6M565 705.6h27.2m-13.6-14.8v29.6M565.3 683h27.2m-13.6-14.8v29.6M565.5 659.7h27.2m-13.6-14.8v29.6M565.8 635.8h27.2m-13.6-14.8v29.6M566.1 611.5h27.2m-13.6-14.8v29.6M566.3 586.7h27.2m-13.6-14.8v29.6M566.6 561.6h27.2m-13.6-14.8v29.6M566.9 536.4h27.2m-13.6-14.8v29.6M567.1 511.2h27.2m-13.6-14.8v29.6M567.4 486.1h27.2m-13.6-14.8v29.6M567.7 461.3h27.2m-13.6-14.8v29.6M567.9 437.2h27.2m-13.6-14.8v29.6M568.2 413.8h27.2m-13.6-14.8v29.6M568.5 391.4h27.2m-13.6-14.8v29.6M568.8 370.4h27.2m-13.6-14.8v29.6M569 351h27.2m-13.6-14.8v29.6M569.3 333.4h27.2m-13.6-14.8v29.6M569.6 317.9h27.2m-13.6-14.8v29.6M569.8 304.8h27.2m-13.6-14.8v29.6M570.1 294.3h27.2m-13.6-14.8v29.6M570.4 286.5h27.2m-13.6-14.8v29.6M570.6 281.6h27.2m-13.6-14.8v29.6M570.9 279.8h27.2m-13.6-14.8v29.6M571.2 280.9h27.2m-13.6-14.8v29.6M571.5 285.1h27.2m-13.6-14.8v29.6M571.7 292.2h27.2m-13.6-14.8v29.6M572 302.2h27.2m-13.6-14.8v29.6M572.3 314.7h27.2m-13.6-14.8v29.6M572.5 329.7h27.2m-13.6-14.8v29.6M572.8 346.9h27.2m-13.6-14.8v29.6M573.1 366h27.2m-13.6-14.8v29.6M573.3 386.7h27.2m-13.6-14.8v29.6M573.6 408.9h27.2m-13.6-14.8v29.6M573.9 432.2h27.2m-13.6-14.8v29.6M574.1 456.3h27.2m-13.6-14.8v29.6M574.4 481h27.2m-13.6-14.8v29.6M574.7 506.2h27.2m-13.6-14.8v29.6M575 531.6h27.2m-13.6-14.8v29.6M575.2 557h27.2m-13.6-14.8v29.6M575.5 582.3h27.2m-13.6-14.8v29.6M575.8 607.3h27.2m-13.6-14.8v29.6M576 631.9h27.2m-13.6-14.8v29.6M576.3 656.1h27.2m-13.6-14.8v29.6M576.6 679.7h27.2m-13.6-14.8v29.6M576.8 702.7h27.2m-13.6-14.8v29.6M577.1 725.1h27.2m-13.6-14.8v29.6M577.4 746.7h27.2m-13.6-14.8v29.6M577.6 767.6h27.2m-13.6-14.8v29.6M577.9 787.8h27.2m-13.6-14.8v29.6M578.2 807.2h27.2m-13.6-14.8v29.6M578.5 825.8h27.2m-13.6-14.8v29.6M578.7 843.7h27.2m-13.6-14.8v29.6M579 860.9h27.2m-13.6-14.8v29.6M579.3 877.2h27.2m-13.6-14.8v29.6M579.5 892.9h27.2m-13.6-14.8v29.6M579.8 907.8h27.2m-13.6-14.8v29.6M580.1 922h27.2m-13.6-14.8v29.6M580.3 935.6h27.2m-13.6-14.8v29.6M580.6 948.4h27.2m-13.6-14.8v29.6M580.9 960.7h27.2m-13.6-14.8v29.6M581.2 972.3h27.2m-13.6-14.8v29.6M581.4 983.3h27.2m-13.6-14.8v29.6M581.7 993.8h27.2m-13.6-14.8v29.6M582 1003.7h27.2m-13.6-14.8v29.6M582.2 1013h27.2m-13.6-14.8v29.6M582.5 1021.9h27.2m-13.6-14.8v29.6M582.8 1030.3h27.2m-13.6-14.8v29.6M583 1038.3h27.2m-13.6-14.8v29.6M583.3 1045.8h27.2m-13.6-14.8v29.6M583.6 1052.9h27.2m-13.6-14.8v29.6M583.8 1059.6h27.2m-13.6-14.8v29.6M584.1 1066h27.2m-13.6-14.8v29.6M584.4 1072h27.2m-13.6-14.8v29.6M584.7 1077.7h27.2m-13.6-14.8v29.6M584.9 1083.1h27.2m-13.6-14.8v29.6M585.2 1088.2h27.2m-13.6-14.8v29.6M585.5 1093h27.2m-13.6-14.8v29.6M585.7 1097.6h27.2m-13.6-14.8v29.6M586 1101.9h27.2m-13.6-14.8v29.6M586.3 1106.1h27.2m-13.6-14.8v29.6M586.5 1110h27.2m-13.6-14.8v29.6M586.8 1113.7h27.2m-13.6-14.8v29.6M587.1 1117.2h27.2m-13.6-14.8v29.6M587.3 1120.6h27.2m-13.6-14.8v29.6M587.6 1123.8h27.2m-13.6-14.8v29.6M587.9 1126.8h27.2m-13.6-14.8v29.6M588.2 1129.7h27.2m-13.6-14.8v29.6M588.4 1132.5h27.2m-13.6-14.8v29.6M588.7 1135.2h27.2m-13.6-14.8v29.6M589 1137.7h27.2m-13.6-14.8v29.6M589.2 1140.2h27.2m-13.6-14.8v29.6M589.5 1142.5h27.2m-13.6-14.8v29.6M589.8 1144.7h27.2m-13.6-14.8v29.6M590 1146.9h27.2m-13.6-14.8v29.6M590.3 1148.9h27.2m-13.6-14.8v29.6M590.6 1150.9h27.2m-13.6-14.8v29.6M590.9 1152.8h27.2m-13.6-14.8v29.6M591.1 1154.6h27.2m-13.6-14.8v29.6M591.4 1156.4h27.2m-13.6-14.8v29.6M591.7 1158.1h27.2m-13.6-14.8v29.6M591.9 1159.8h27.2m-13.6-14.8v29.6M592.2 1161.3h27.2m-13.6-14.8v29.6M592.5 1162.9h27.2m-13.6-14.8v29.6M592.7 1164.3h27.2m-13.6-14.8v29.6M593 1165.8h27.2m-13.6-14.8v29.6M593.3 1167.2h27.2m-13.6-14.8v29.6M593.5 1168.5h27.2m-13.6-14.8v29.6M593.8 1169.8h27.2m-13.6-14.8v29.6M594.1 1171h27.2m-13.6-14.8v29.6M594.4 1172.3h27.2m-13.6-14.8v29.6M594.6 1173.4h27.2m-13.6-14.8v29.6M594.9 1174.6h27.2m-13.6-14.8v29.6M595.2 1175.7h27.2m-13.6-14.8v29.6M595.4 1176.8h27.2m-13.6-14.8v29.6M595.7 1177.8h27.2m-13.6-14.8v29.6M596 1178.8h27.2m-13.6-14.8v29.6M596.5 1180.8h27.2m-13.6-14.8v29.6M597.1 1182.6h27.2m-13.6-14.8v29.6M597.6 1184.3h27.2m-13.6-14.8v29.6M598.1 1186h27.2m-13.6-14.8v29.6M598.7 1187.6h27.2m-13.6-14.8v29.6M599.2 1189h27.2m-13.6-14.8v29.6M599.7 1190.5h27.2m-13.6-14.8v29.6M600.3 1191.8h27.2m-13.6-14.8v29.6M600.8 1193.1h27.2m-13.6-14.8v29.6M601.4 1194.3h27.2m-13.6-14.8v29.6M601.9 1195.4h27.2m-13.6-14.8v29.6M602.4 1196.5h27.2m-13.6-14.8v29.6M603 1197.6h27.2m-13.6-14.8v29.6M603.5 1198.6h27.2m-13.6-14.8v29.6M604.3 1200h27.2m-13.6-14.8v29.6M605.1 1201.4h27.2m-13.6-14.8v29.6M605.9 1202.6h27.2m-13.6-14.8v29.6M606.8 1203.8h27.2m-13.6-14.8v29.6M607.6 1204.9h27.2m-13.6-14.8v29.6M608.4 1206h27.2m-13.6-14.8v29.6M609.4 1207.3h27.2m-13.6-14.8v29.6M610.5 1208.5h27.2m-13.6-14.8v29.6M611.6 1209.6h27.2m-13.6-14.8v29.6M612.7 1210.7h27.2m-13.6-14.8v29.6M614 1211.9h27.2m-13.6-14.8v29.6M615.4 1213h27.2m-13.6-14.8v29.6M616.7 1214h27.2m-13.6-14.8v29.6M618.3 1215.1h27.2m-13.6-14.8v29.6M620 1216.2h27.2m-13.6-14.8v29.6M621.6 1217.1h27.2m-13.6-14.8v29.6M623.2 1218h27.2m-13.6-14.8v29.6M624.8 1218.8h27.2m-13.6-14.8v29.6M626.4 1219.5h27.2m-13.6-14.8v29.6M628 1220.2h27.2m-13.6-14.8v29.6M629.7 1220.8h27.2m-13.6-14.8v29.6M631.3 1221.4h27.2m-13.6-14.8v29.6M632.9 1222h27.2m-13.6-14.8v29.6M634.5 1222.5h27.2m-13.6-14.8v29.6M636.1 1223h27.2m-13.6-14.8v29.6M637.7 1223.5h27.2m-13.6-14.8v29.6M639.4 1223.9h27.2m-13.6-14.8v29.6M641 1224.4h27.2m-13.6-14.8v29.6M642.6 1224.7h27.2m-13.6-14.8v29.6M644.2 1225.1h27.2m-13.6-14.8v29.6M645.8 1225.5h27.2m-13.6-14.8v29.6M647.4 1225.8h27.2m-13.6-14.8v29.6M649.1 1226.1h27.2m-13.6-14.8v29.6M650.7 1226.4h27.2m-13.6-14.8v29.6M652.3 1226.7h27.2m-13.6-14.8v29.6M653.9 1227h27.2m-13.6-14.8v29.6M655.5 1227.2h27.2m-13.6-14.8v29.6M657.1 1227.5h27.2m-13.6-14.8v29.6M658.8 1227.7h27.2m-13.6-14.8v29.6M660.4 1227.9h27.2m-13.6-14.8v29.6M662 1228.1h27.2m-13.6-14.8v29.6M663.6 1228.3h27.2m-13.6-14.8v29.6M665.2 1228.5h27.2m-13.6-14.8v29.6M666.8 1228.7h27.2m-13.6-14.8v29.6M668.5 1228.9h27.2m-13.6-14.8v29.6M670.1 1229.1h27.2m-13.6-14.8v29.6M671.7 1229.2h27.2m-13.6-14.8v29.6M673.3 1229.4h27.2m-13.6-14.8v29.6M674.9 1229.5h27.2m-13.6-14.8v29.6M676.5 1229.6h27.2m-13.6-14.8v29.6M678.2 1229.7h27.2m-13.6-14.8v29.6M679.8 1229.9h27.2m-13.6-14.8v29.6M681.4 1230h27.2m-13.6-14.8v29.6M683 1230.1h27.2m-13.6-14.8v29.6M684.6 1230.2h27.2m-13.6-14.8v29.6M686.2 1230.3h27.2m-13.6-14.8v29.6M687.9 1230.3h27.2m-13.6-14.8v29.6M689.5 1230.4h27.2m-13.6-14.8v29.6M691.1 1230.5h27.2m-13.6-14.8v29.6M692.7 1230.5h27.2m-13.6-14.8v29.6M694.3 1230.6h27.2m-13.6-14.8v29.6M695.9 1230.7h27.2m-13.6-14.8v29.6M697.6 1230.7h27.2m-13.6-14.8v29.6M699.2 1230.7h27.2m-13.6-14.8v29.6M700.8 1230.8h27.2m-13.6-14.8v29.6M702.4 1230.8h27.2m-13.6-14.8v29.6M704 1230.8h27.2m-13.6-14.8v29.6M705.6 1230.8h27.2m-13.6-14.8v29.6M707.3 1230.8h27.2m-13.6-14.8v29.6M708.9 1230.8h27.2m-13.6-14.8v29.6M710.5 1230.8h27.2m-13.6-14.8v29.6M712.1 1230.7h27.2m-13.6-14.8v29.6M713.7 1230.7h27.2m-13.6-14.8v29.6M715.3 1230.7h27.2m-13.6-14.8v29.6M717 1230.6h27.2m-13.6-14.8v29.6M718.6 1230.5h27.2m-13.6-14.8v29.6M720.2 1230.4h27.2m-13.6-14.8v29.6M721.8 1230.3h27.2m-13.6-14.8v29.6M723.4 1230.2h27.2m-13.6-14.8v29.6M725 1230.1h27.2m-13.6-14.8v29.6M726.7 1229.9h27.2m-13.6-14.8v29.6M728.3 1229.7h27.2m-13.6-14.8v29.6M729.9 1229.5h27.2m-13.6-14.8v29.6M731.5 1229.3h27.2m-13.6-14.8v29.6M733.1 1229h27.2m-13.6-14.8v29.6M734.7 1228.8h27.2m-13.6-14.8v29.6M736.4 1228.4h27.2m-13.6-14.8v29.6M738 1228.1h27.2m-13.6-14.8v29.6M739.6 1227.7h27.2m-13.6-14.8v29.6M741.2 1227.2h27.2m-13.6-14.8v29.6M742.8 1226.7h27.2m-13.6-14.8v29.6M744.4 1226.1h27.2m-13.6-14.8v29.6M746.1 1225.4h27.2m-13.6-14.8v29.6M747.7 1224.6h27.2m-13.6-14.8v29.6M749.3 1223.8h27.2m-13.6-14.8v29.6M750.9 1222.8h27.2m-13.6-14.8v29.6M752.5 1221.6h27.2m-13.6-14.8v29.6M753.9 1220.6h27.2m-13.6-14.8v29.6M755.2 1219.3h27.2m-13.6-14.8v29.6M756.3 1218.2h27.2m-13.6-14.8v29.6M757.4 1217h27.2m-13.6-14.8v29.6M758.2 1216h27.2m-13.6-14.8v29.6M759 1214.9h27.2m-13.6-14.8v29.6M759.8 1213.7h27.2m-13.6-14.8v29.6M760.6 1212.4h27.2m-13.6-14.8v29.6M761.4 1211h27.2m-13.6-14.8v29.6M762 1210h27.2m-13.6-14.8v29.6M762.5 1208.9h27.2m-13.6-14.8v29.6M763 1207.8h27.2m-13.6-14.8v29.6M763.6 1206.6h27.2m-13.6-14.8v29.6M764.1 1205.3h27.2m-13.6-14.8v29.6M764.7 1203.9h27.2m-13.6-14.8v29.6M765.2 1202.4h27.2m-13.6-14.8v29.6M765.7 1200.8h27.2m-13.6-14.8v29.6M766.3 1199.1h27.2m-13.6-14.8v29.6M766.8 1197.2h27.2m-13.6-14.8v29.6M767.4 1195.3h27.2m-13.6-14.8v29.6M767.6 1194.2h27.2m-13.6-14.8v29.6M767.9 1193.2h27.2m-13.6-14.8v29.6M768.2 1192h27.2m-13.6-14.8v29.6M768.4 1190.9h27.2m-13.6-14.8v29.6M768.7 1189.7h27.2m-13.6-14.8v29.6M769 1188.4h27.2m-13.6-14.8v29.6M769.2 1187.1h27.2m-13.6-14.8v29.6M769.5 1185.8h27.2m-13.6-14.8v29.6M769.8 1184.4h27.2m-13.6-14.8v29.6M770 1182.9h27.2m-13.6-14.8v29.6M770.3 1181.4h27.2m-13.6-14.8v29.6M770.6 1179.8h27.2m-13.6-14.8v29.6M770.9 1178.1h27.2m-13.6-14.8v29.6M771.1 1176.4h27.2m-13.6-14.8v29.6M771.4 1174.6h27.2m-13.6-14.8v29.6M771.7 1172.7h27.2m-13.6-14.8v29.6M771.9 1170.8h27.2m-13.6-14.8v29.6M772.2 1168.7h27.2m-13.6-14.8v29.6M772.5 1166.6h27.2m-13.6-14.8v29.6M772.7 1164.4h27.2m-13.6-14.8v29.6M773 1162.1h27.2m-13.6-14.8v29.6M773.3 1159.6h27.2m-13.6-14.8v29.6M773.6 1157.1h27.2m-13.6-14.8v29.6M773.8 1154.4h27.2m-13.6-14.8v29.6M774.1 1151.6h27.2m-13.6-14.8v29.6M774.4 1148.7h27.2m-13.6-14.8v29.6M774.6 1145.7h27.2m-13.6-14.8v29.6M774.9 1142.5h27.2m-13.6-14.8v29.6M775.2 1139.2h27.2m-13.6-14.8v29.6M775.4 1135.6h27.2m-13.6-14.8v29.6M775.7 1132h27.2m-13.6-14.8v29.6M776 1128.1h27.2m-13.6-14.8v29.6M776.2 1124.1h27.2m-13.6-14.8v29.6M776.5 1119.9h27.2m-13.6-14.8v29.6M776.8 1115.4h27.2m-13.6-14.8v29.6M777.1 1110.8h27.2m-13.6-14.8v29.6M777.3 1105.9h27.2m-13.6-14.8v29.6M777.6 1100.8h27.2m-13.6-14.8v29.6M777.9 1095.4h27.2m-13.6-14.8v29.6M778.1 1089.8h27.2m-13.6-14.8v29.6M778.4 1084h27.2m-13.6-14.8v29.6M778.7 1077.8h27.2m-13.6-14.8v29.6M778.9 1071.4h27.2m-13.6-14.8v29.6M779.2 1064.7h27.2m-13.6-14.8v29.6M779.5 1057.7h27.2m-13.6-14.8v29.6M779.7 1050.4h27.2m-13.6-14.8v29.6M780 1042.8h27.2m-13.6-14.8v29.6M780.3 1034.9h27.2m-13.6-14.8v29.6M780.6 1026.7h27.2m-13.6-14.8v29.6M780.8 1018.3h27.2m-13.6-14.8v29.6M781.1 1009.6h27.2m-13.6-14.8v29.6M781.4 1000.6h27.2m-13.6-14.8v29.6M781.6 991.5h27.2m-13.6-14.8v29.6M781.9 982.1h27.2m-13.6-14.8v29.6M782.2 972.6h27.2m-13.6-14.8v29.6M782.4 963h27.2m-13.6-14.8v29.6M782.7 953.4h27.2m-13.6-14.8v29.6M783 943.9h27.2m-13.6-14.8v29.6M783.3 934.4h27.2m-13.6-14.8v29.6M783.5 925.2h27.2m-13.6-14.8v29.6M783.8 916.3h27.2m-13.6-14.8v29.6M784.1 907.8h27.2m-13.6-14.8v29.6M784.3 899.8h27.2m-13.6-14.8v29.6M784.6 892.5h27.2m-13.6-14.8v29.6M784.9 885.8h27.2m-13.6-14.8v29.6M785.1 880.1h27.2m-13.6-14.8v29.6M785.4 875.3h27.2m-13.6-14.8v29.6M785.7 871.5h27.2m-13.6-14.8v29.6M785.9 868.8h27.2m-13.6-14.8v29.6M786.2 867.2h27.2m-13.6-14.8v29.6M787 869.6h27.2m-13.6-14.8v29.6M787.3 872.7h27.2m-13.6-14.8v29.6M787.6 876.8h27.2m-13.6-14.8v29.6M787.8 882h27.2m-13.6-14.8v29.6M788.1 888.1h27.2m-13.6-14.8v29.6M788.4 895h27.2m-13.6-14.8v29.6M788.6 902.6h27.2m-13.6-14.8v29.6M788.9 910.7h27.2m-13.6-14.8v29.6M789.2 919.4h27.2m-13.6-14.8v29.6M789.5 928.5h27.2m-13.6-14.8v29.6M789.7 937.8h27.2m-13.6-14.8v29.6M790 947.3h27.2m-13.6-14.8v29.6M790.3 956.9h27.2m-13.6-14.8v29.6M790.5 966.5h27.2m-13.6-14.8v29.6M790.8 976.1h27.2m-13.6-14.8v29.6M791.1 985.6h27.2m-13.6-14.8v29.6M791.3 994.9h27.2m-13.6-14.8v29.6M791.6 1004h27.2m-13.6-14.8v29.6M791.9 1012.9h27.2m-13.6-14.8v29.6M792.1 1021.5h27.2m-13.6-14.8v29.6M792.4 1029.9h27.2m-13.6-14.8v29.6M792.7 1038h27.2m-13.6-14.8v29.6M793 1045.8h27.2m-13.6-14.8v29.6M793.2 1053.3h27.2m-13.6-14.8v29.6M793.5 1060.5h27.2m-13.6-14.8v29.6M793.8 1067.5h27.2m-13.6-14.8v29.6M794 1074.1h27.2m-13.6-14.8v29.6M794.3 1080.4h27.2m-13.6-14.8v29.6M794.6 1086.5h27.2m-13.6-14.8v29.6M794.8 1092.3h27.2m-13.6-14.8v29.6M795.1 1097.9h27.2m-13.6-14.8v29.6M795.4 1103.1h27.2m-13.6-14.8v29.6M795.6 1108.2h27.2m-13.6-14.8v29.6M795.9 1113h27.2m-13.6-14.8v29.6M796.2 1117.6h27.2m-13.6-14.8v29.6M796.5 1122h27.2m-13.6-14.8v29.6M796.7 1126.2h27.2m-13.6-14.8v29.6M797 1130.1h27.2m-13.6-14.8v29.6M797.3 1134h27.2m-13.6-14.8v29.6M797.5 1137.6h27.2m-13.6-14.8v29.6M797.8 1141.1h27.2m-13.6-14.8v29.6M798.1 1144.4h27.2m-13.6-14.8v29.6M798.3 1147.5h27.2m-13.6-14.8v29.6M798.6 1150.5h27.2m-13.6-14.8v29.6M798.9 1153.4h27.2m-13.6-14.8v29.6M799.2 1156.2h27.2m-13.6-14.8v29.6M799.4 1158.8h27.2m-13.6-14.8v29.6M799.7 1161.3h27.2m-13.6-14.8v29.6M800 1163.8h27.2m-13.6-14.8v29.6M800.2 1166.1h27.2m-13.6-14.8v29.6M800.5 1168.3h27.2m-13.6-14.8v29.6M800.8 1170.4h27.2m-13.6-14.8v29.6M801 1172.4h27.2m-13.6-14.8v29.6M801.3 1174.4h27.2m-13.6-14.8v29.6M801.6 1176.2h27.2m-13.6-14.8v29.6M801.8 1178h27.2m-13.6-14.8v29.6M802.1 1179.7h27.2m-13.6-14.8v29.6M802.4 1181.4h27.2m-13.6-14.8v29.6M802.7 1183h27.2m-13.6-14.8v29.6M802.9 1184.5h27.2m-13.6-14.8v29.6M803.2 1186h27.2m-13.6-14.8v29.6M803.5 1187.4h27.2m-13.6-14.8v29.6M803.7 1188.7h27.2m-13.6-14.8v29.6M804 1190h27.2m-13.6-14.8v29.6M804.3 1191.3h27.2m-13.6-14.8v29.6M804.5 1192.5h27.2m-13.6-14.8v29.6M804.8 1193.7h27.2m-13.6-14.8v29.6M805.1 1194.8h27.2m-13.6-14.8v29.6M805.3 1195.9h27.2m-13.6-14.8v29.6M805.6 1196.9h27.2m-13.6-14.8v29.6M805.9 1197.9h27.2m-13.6-14.8v29.6M806.4 1199.8h27.2m-13.6-14.8v29.6M807 1201.6h27.2m-13.6-14.8v29.6M807.5 1203.3h27.2m-13.6-14.8v29.6M808 1204.8h27.2m-13.6-14.8v29.6M808.6 1206.3h27.2m-13.6-14.8v29.6M809.1 1207.7h27.2m-13.6-14.8v29.6M809.7 1208.9h27.2m-13.6-14.8v29.6M810.2 1210.2h27.2m-13.6-14.8v29.6M810.7 1211.3h27.2m-13.6-14.8v29.6M811.3 1212.4h27.2m-13.6-14.8v29.6M811.8 1213.4h27.2m-13.6-14.8v29.6M812.6 1214.8h27.2m-13.6-14.8v29.6M813.4 1216.1h27.2m-13.6-14.8v29.6M814.2 1217.3h27.2m-13.6-14.8v29.6M815.1 1218.4h27.2m-13.6-14.8v29.6M815.9 1219.4h27.2m-13.6-14.8v29.6M816.9 1220.7h27.2m-13.6-14.8v29.6M818 1221.8h27.2m-13.6-14.8v29.6M819.1 1222.8h27.2m-13.6-14.8v29.6M820.4 1224h27.2m-13.6-14.8v29.6M821.8 1225.1h27.2m-13.6-14.8v29.6M823.4 1226.2h27.2m-13.6-14.8v29.6M825 1227.2h27.2m-13.6-14.8v29.6M826.6 1228h27.2m-13.6-14.8v29.6M828.3 1228.8h27.2m-13.6-14.8v29.6M829.9 1229.5h27.2m-13.6-14.8v29.6M831.5 1230.2h27.2m-13.6-14.8v29.6M833.1 1230.8h27.2m-13.6-14.8v29.6M834.7 1231.3h27.2m-13.6-14.8v29.6M836.3 1231.8h27.2m-13.6-14.8v29.6M838 1232.2h27.2m-13.6-14.8v29.6M839.6 1232.6h27.2m-13.6-14.8v29.6M841.2 1233h27.2m-13.6-14.8v29.6M842.8 1233.4h27.2m-13.6-14.8v29.6M844.4 1233.7h27.2m-13.6-14.8v29.6M846 1234h27.2m-13.6-14.8v29.6M847.7 1234.3h27.2m-13.6-14.8v29.6M849.3 1234.5h27.2m-13.6-14.8v29.6M850.9 1234.8h27.2m-13.6-14.8v29.6M852.5 1235h27.2m-13.6-14.8v29.6M854.1 1235.2h27.2m-13.6-14.8v29.6M855.7 1235.4h27.2m-13.6-14.8v29.6M857.4 1235.6h27.2m-13.6-14.8v29.6M859 1235.8h27.2m-13.6-14.8v29.6M860.6 1236h27.2m-13.6-14.8v29.6M862.2 1236.1h27.2m-13.6-14.8v29.6M863.8 1236.3h27.2m-13.6-14.8v29.6M865.4 1236.4h27.2m-13.6-14.8v29.6M867.1 1236.6h27.2m-13.6-14.8v29.6M868.7 1236.7h27.2m-13.6-14.8v29.6M870.3 1236.8h27.2m-13.6-14.8v29.6M871.9 1237h27.2m-13.6-14.8v29.6M873.5 1237.1h27.2m-13.6-14.8v29.6M875.1 1237.2h27.2m-13.6-14.8v29.6M876.8 1237.3h27.2m-13.6-14.8v29.6M878.4 1237.4h27.2m-13.6-14.8v29.6M880 1237.5h27.2m-13.6-14.8v29.6M881.6 1237.6h27.2m-13.6-14.8v29.6M883.2 1237.7h27.2m-13.6-14.8v29.6M884.8 1237.8h27.2m-13.6-14.8v29.6M886.5 1237.9h27.2m-13.6-14.8v29.6M888.1 1238h27.2m-13.6-14.8v29.6M889.7 1238h27.2m-13.6-14.8v29.6M891.3 1238.1h27.2m-13.6-14.8v29.6M892.9 1238.2h27.2m-13.6-14.8v29.6M894.5 1238.3h27.2m-13.6-14.8v29.6M896.2 1238.4h27.2m-13.6-14.8v29.6M897.8 1238.4h27.2m-13.6-14.8v29.6M899.4 1238.5h27.2m-13.6-14.8v29.6M901 1238.6h27.2m-13.6-14.8v29.6M902.6 1238.6h27.2m-13.6-14.8v29.6M904.2 1238.7h27.2m-13.6-14.8v29.6M905.9 1238.8h27.2m-13.6-14.8v29.6M907.5 1238.8h27.2m-13.6-14.8v29.6M909.1 1238.9h27.2m-13.6-14.8v29.6M910.7 1239h27.2m-13.6-14.8v29.6M912.3 1239h27.2m-13.6-14.8v29.6M913.9 1239.1h27.2m-13.6-14.8v29.6M915.6 1239.1h27.2m-13.6-14.8v29.6M917.2 1239.2h27.2m-13.6-14.8v29.6M918.8 1239.2h27.2m-13.6-14.8v29.6M920.4 1239.3h27.2m-13.6-14.8v29.6M922 1239.3h27.2m-13.6-14.8v29.6M923.6 1239.4h27.2m-13.6-14.8v29.6M925.3 1239.4h27.2m-13.6-14.8v29.6M926.9 1239.5h27.2m-13.6-14.8v29.6M928.5 1239.5h27.2m-13.6-14.8v29.6M930.1 1239.6h27.2m-13.6-14.8v29.6M931.7 1239.6h27.2m-13.6-14.8v29.6M933.3 1239.7h27.2m-13.6-14.8v29.6M935 1239.7h27.2m-13.6-14.8v29.6M936.6 1239.8h27.2m-13.6-14.8v29.6M938.2 1239.8h27.2m-13.6-14.8v29.6M939.8 1239.9h27.2m-13.6-14.8v29.6M941.4 1239.9h27.2m-13.6-14.8v29.6M943 1240h27.2m-13.6-14.8v29.6M944.7 1240h27.2m-13.6-14.8v29.6M946.3 1240h27.2m-13.6-14.8v29.6M947.9 1240.1h27.2m-13.6-14.8v29.6M949.5 1240.1h27.2m-13.6-14.8v29.6M951.1 1240.2h27.2m-13.6-14.8v29.6M952.7 1240.2h27.2m-13.6-14.8v29.6M954.4 1240.2h27.2m-13.6-14.8v29.6M956 1240.3h27.2m-13.6-14.8v29.6M957.6 1240.3h27.2m-13.6-14.8v29.6M959.2 1240.4h27.2m-13.6-14.8v29.6M960.8 1240.4h27.2m-13.6-14.8v29.6M962.4 1240.4h27.2m-13.6-14.8v29.6M964.1 1240.5h27.2m-13.6-14.8v29.6M965.7 1240.5h27.2m-13.6-14.8v29.6M967.3 1240.6h27.2m-13.6-14.8v29.6M968.9 1240.6h27.2m-13.6-14.8v29.6M970.5 1240.6h27.2m-13.6-14.8v29.6M972.2 1240.7h27.2m-13.6-14.8v29.6M973.8 1240.7h27.2m-13.6-14.8v29.6M975.4 1240.7h27.2m-13.6-14.8v29.6M977 1240.8h27.2m-13.6-14.8v29.6M978.6 1240.8h27.2m-13.6-14.8v29.6M980.2 1240.8h27.2m-13.6-14.8v29.6M981.9 1240.9h27.2m-13.6-14.8v29.6M983.5 1240.9h27.2m-13.6-14.8v29.6M985.1 1240.9h27.2m-13.6-14.8v29.6M986.7 1241h27.2m-13.6-14.8v29.6M988.3 1241h27.2m-13.6-14.8v29.6M989.9 1241h27.2m-13.6-14.8v29.6M991.6 1241.1h27.2m-13.6-14.8v29.6M993.2 1241.1h27.2m-13.6-14.8v29.6M994.8 1241.1h27.2m-13.6-14.8v29.6M996.4 1241.2h27.2m-13.6-14.8v29.6M998 1241.2h27.2m-13.6-14.8v29.6M999.6 1241.2h27.2m-13.6-14.8v29.6M1001.3 1241.3h27.2m-13.6-14.8v29.6M1002.9 1241.3h27.2m-13.6-14.8v29.6M1004.5 1241.3h27.2m-13.6-14.8v29.6M1006.1 1241.4h27.2m-13.6-14.8v29.6M1007.7 1241.4h27.2m-13.6-14.8v29.6M1009.3 1241.4h27.2m-13.6-14.8v29.6M1011 1241.5h27.2m-13.6-14.8v29.6M1012.6 1241.5h27.2m-13.6-14.8v29.6M1014.2 1241.5h27.2m-13.6-14.8v29.6M1015.8 1241.5h27.2m-13.6-14.8v29.6M1017.4 1241.6h27.2m-13.6-14.8v29.6M1019 1241.6h27.2m-13.6-14.8v29.6M1020.7 1241.6h27.2m-13.6-14.8v29.6M1022.3 1241.7h27.2m-13.6-14.8v29.6M1023.9 1241.7h27.2m-13.6-14.8v29.6M1025.5 1241.7h27.2m-13.6-14.8v29.6M1027.1 1241.7h27.2m-13.6-14.8v29.6M1028.7 1241.8h27.2m-13.6-14.8v29.6M1030.4 1241.8h27.2m-13.6-14.8v29.6M1032 1241.8h27.2m-13.6-14.8v29.6M1033.6 1241.9h27.2m-13.6-14.8v29.6M1035.2 1241.9h27.2m-13.6-14.8v29.6M1036.8 1241.9h27.2m-13.6-14.8v29.6M1038.4 1241.9h27.2m-13.6-14.8v29.6M1040.1 1242h27.2m-13.6-14.8v29.6M1041.7 1242h27.2m-13.6-14.8v29.6M1043.3 1242h27.2m-13.6-14.8v29.6M1044.9 1242.1h27.2m-13.6-14.8v29.6M1046.5 1242.1h27.2m-13.6-14.8v29.6M1048.1 1242.1h27.2m-13.6-14.8v29.6M1049.8 1242.1h27.2m-13.6-14.8v29.6M1051.4 1242.2h27.2m-13.6-14.8v29.6M1053 1242.2h27.2m-13.6-14.8v29.6M1054.6 1242.2h27.2m-13.6-14.8v29.6M1056.2 1242.3h27.2m-13.6-14.8v29.6M1057.8 1242.3h27.2m-13.6-14.8v29.6M1059.5 1242.3h27.2m-13.6-14.8v29.6M1061.1 1242.3h27.2m-13.6-14.8v29.6M1062.7 1242.4h27.2m-13.6-14.8v29.6M1064.3 1242.4h27.2m-13.6-14.8v29.6M1065.9 1242.4h27.2m-13.6-14.8v29.6M1067.5 1242.4h27.2m-13.6-14.8v29.6M1069.2 1242.5h27.2m-13.6-14.8v29.6M1070.8 1242.5h27.2m-13.6-14.8v29.6M1072.4 1242.5h27.2m-13.6-14.8v29.6M1074 1242.5h27.2m-13.6-14.8v29.6M1075.6 1242.6h27.2m-13.6-14.8v29.6M1077.2 1242.6h27.2m-13.6-14.8v29.6M1078.9 1242.6h27.2m-13.6-14.8v29.6M1080.5 1242.7h27.2m-13.6-14.8v29.6M1082.1 1242.7h27.2m-13.6-14.8v29.6M1083.7 1242.7h27.2m-13.6-14.8v29.6M1085.3 1242.7h27.2m-13.6-14.8v29.6M1086.9 1242.8h27.2m-13.6-14.8v29.6M1088.6 1242.8h27.2m-13.6-14.8v29.6M1090.2 1242.8h27.2m-13.6-14.8v29.6M1091.8 1242.8h27.2m-13.6-14.8v29.6M1093.4 1242.9h27.2m-13.6-14.8v29.6M1095 1242.9h27.2m-13.6-14.8v29.6M1096.6 1242.9h27.2m-13.6-14.8v29.6M1098.3 1242.9h27.2m-13.6-14.8v29.6M1099.9 1243h27.2m-13.6-14.8v29.6M1101.5 1243h27.2m-13.6-14.8v29.6M1103.1 1243h27.2m-13.6-14.8v29.6M1104.7 1243h27.2m-13.6-14.8v29.6M1106.3 1243.1h27.2m-13.6-14.8v29.6M1108 1243.1h27.2m-13.6-14.8v29.6M1109.6 1243.1h27.2m-13.6-14.8v29.6M1111.2 1243.1h27.2m-13.6-14.8v29.6M1112.8 1243.2h27.2m-13.6-14.8v29.6M1114.4 1243.2h27.2m-13.6-14.8v29.6M1116 1243.2h27.2m-13.6-14.8v29.6M1117.7 1243.2h27.2m-13.6-14.8v29.6M1119.3 1243.3h27.2m-13.6-14.8v29.6M1120.9 1243.3h27.2m-13.6-14.8v29.6M1122.5 1243.3h27.2m-13.6-14.8v29.6M1124.1 1243.3h27.2m-13.6-14.8v29.6M1125.7 1243.4h27.2m-13.6-14.8v29.6M1127.4 1243.4h27.2m-13.6-14.8v29.6M1129 1243.4h27.2m-13.6-14.8v29.6M1130.6 1243.4h27.2m-13.6-14.8v29.6M1132.2 1243.5h27.2m-13.6-14.8v29.6M1133.8 1243.5h27.2m-13.6-14.8v29.6M1135.4 1243.5h27.2m-13.6-14.8v29.6M1137.1 1243.5h27.2m-13.6-14.8v29.6M1138.7 1243.6h27.2m-13.6-14.8v29.6M1140.3 1243.6h27.2m-13.6-14.8v29.6M1141.9 1243.6h27.2m-13.6-14.8v29.6M1143.5 1243.6h27.2m-13.6-14.8v29.6M1145.1 1243.7h27.2m-13.6-14.8v29.6M1146.8 1243.7h27.2m-13.6-14.8v29.6M1148.4 1243.7h27.2m-13.6-14.8v29.6M1150 1243.7h27.2m-13.6-14.8v29.6M1151.6 1243.8h27.2m-13.6-14.8v29.6M1153.2 1243.8h27.2m-13.6-14.8v29.6M1154.8 1243.8h27.2m-13.6-14.8v29.6M1156.5 1243.8h27.2m-13.6-14.8v29.6M1158.1 1243.9h27.2m-13.6-14.8v29.6M1159.7 1243.9h27.2m-13.6-14.8v29.6M1161.3 1243.9h27.2m-13.6-14.8v29.6M1162.9 1243.9h27.2m-13.6-14.8v29.6M1164.6 1243.9h27.2m-13.6-14.8v29.6M1166.2 1244h27.2m-13.6-14.8v29.6M1167.8 1244h27.2m-13.6-14.8v29.6M1169.4 1244h27.2m-13.6-14.8v29.6M1171 1244h27.2m-13.6-14.8v29.6M1172.6 1244.1h27.2m-13.6-14.8v29.6M1174.3 1244.1h27.2m-13.6-14.8v29.6M1175.9 1244.1h27.2m-13.6-14.8v29.6M1177.5 1244.1h27.2m-13.6-14.8v29.6M1179.1 1244.1h27.2m-13.6-14.8v29.6M1180.7 1244.2h27.2m-13.6-14.8v29.6M1182.3 1244.2h27.2m-13.6-14.8v29.6M1184 1244.2h27.2m-13.6-14.8v29.6M1185.6 1244.2h27.2m-13.6-14.8v29.6M1187.2 1244.3h27.2m-13.6-14.8v29.6M1188.8 1244.3h27.2m-13.6-14.8v29.6M1190.4 1244.3h27.2m-13.6-14.8v29.6M1192 1244.3h27.2m-13.6-14.8v29.6M1193.7 1244.3h27.2m-13.6-14.8v29.6M1195.3 1244.4h27.2m-13.6-14.8v29.6M1196.9 1244.4h27.2m-13.6-14.8v29.6M1198.5 1244.4h27.2m-13.6-14.8v29.6M1200.1 1244.4h27.2m-13.6-14.8v29.6M1201.7 1244.4h27.2m-13.6-14.8v29.6M1203.4 1244.5h27.2m-13.6-14.8v29.6M1205 1244.5h27.2m-13.6-14.8v29.6M1206.6 1244.5h27.2m-13.6-14.8v29.6M1208.2 1244.5h27.2m-13.6-14.8v29.6M1209.8 1244.6h27.2m-13.6-14.8v29.6M1211.4 1244.6h27.2m-13.6-14.8v29.6M1213.1 1244.6h27.2m-13.6-14.8v29.6M1214.7 1244.6h27.2m-13.6-14.8v29.6M1216.3 1244.6h27.2m-13.6-14.8v29.6M1217.9 1244.7h27.2m-13.6-14.8v29.6M1219.5 1244.7h27.2m-13.6-14.8v29.6M1221.1 1244.7h27.2m-13.6-14.8v29.6M1222.8 1244.7h27.2m-13.6-14.8v29.6M1224.4 1244.7h27.2m-13.6-14.8v29.6M1226 1244.8h27.2m-13.6-14.8v29.6M1227.6 1244.8h27.2m-13.6-14.8v29.6M1229.2 1244.8h27.2m-13.6-14.8v29.6M1230.8 1244.8h27.2m-13.6-14.8v29.6M1232.5 1244.8h27.2m-13.6-14.8v29.6M1234.1 1244.9h27.2m-13.6-14.8v29.6M1235.7 1244.9h27.2m-13.6-14.8v29.6M1237.3 1244.9h27.2m-13.6-14.8v29.6M1238.9 1244.9h27.2m-13.6-14.8v29.6M1240.5 1244.9h27.2m-13.6-14.8v29.6M1242.2 1245h27.2m-13.6-14.8v29.6M1243.8 1245h27.2m-13.6-14.8v29.6M1245.4 1245h27.2m-13.6-14.8v29.6M1247 1245h27.2m-13.6-14.8v29.6M1248.6 1245h27.2m-13.6-14.8v29.6M1250.2 1245.1h27.2m-13.6-14.8v29.6M1251.9 1245.1h27.2m-13.6-14.8v29.6M1253.5 1245.1h27.2m-13.6-14.8v29.6M1255.1 1245.1h27.2m-13.6-14.8v29.6M1256.7 1245.1h27.2m-13.6-14.8v29.6M1258.3 1245.2h27.2m-13.6-14.8v29.6M1259.9 1245.2h27.2m-13.6-14.8v29.6M1261.6 1245.2h27.2m-13.6-14.8v29.6M1263.2 1245.2h27.2m-13.6-14.8v29.6M1264.8 1245.2h27.2m-13.6-14.8v29.6M1266.4 1245.2h27.2m-13.6-14.8v29.6M1268 1245.3h27.2m-13.6-14.8v29.6M1269.6 1245.3h27.2m-13.6-14.8v29.6M1271.3 1245.3h27.2m-13.6-14.8v29.6M1272.9 1245.3h27.2m-13.6-14.8v29.6M1274.5 1245.3h27.2m-13.6-14.8v29.6M1276.1 1245.4h27.2m-13.6-14.8v29.6M1277.7 1245.4h27.2m-13.6-14.8v29.6M1279.3 1245.4h27.2m-13.6-14.8v29.6M1281 1245.4h27.2m-13.6-14.8v29.6M1282.6 1245.4h27.2m-13.6-14.8v29.6M1284.2 1245.5h27.2m-13.6-14.8v29.6M1285.8 1245.5h27.2m-13.6-14.8v29.6M1287.4 1245.5h27.2m-13.6-14.8v29.6M1289 1245.5h27.2m-13.6-14.8v29.6M1290.7 1245.5h27.2m-13.6-14.8v29.6M1292.3 1245.6h27.2m-13.6-14.8v29.6M1293.9 1245.6h27.2m-13.6-14.8v29.6M1295.5 1245.6h27.2m-13.6-14.8v29.6M1297.1 1245.6h27.2m-13.6-14.8v29.6M1298.7 1245.6h27.2m-13.6-14.8v29.6M1300.4 1245.6h27.2m-13.6-14.8v29.6M1302 1245.7h27.2m-13.6-14.8v29.6M1303.6 1245.7h27.2m-13.6-14.8v29.6M1305.2 1245.7h27.2m-13.6-14.8v29.6M1306.8 1245.7h27.2m-13.6-14.8v29.6M1308.4 1245.7h27.2m-13.6-14.8v29.6M1310.1 1245.8h27.2m-13.6-14.8v29.6M1311.7 1245.8h27.2m-13.6-14.8v29.6M1313.3 1245.8h27.2m-13.6-14.8v29.6M1314.9 1245.8h27.2m-13.6-14.8v29.6M1316.5 1245.8h27.2m-13.6-14.8v29.6M1318.1 1245.8h27.2m-13.6-14.8v29.6M1319.8 1245.9h27.2m-13.6-14.8v29.6M1321.4 1245.9h27.2m-13.6-14.8v29.6M1323 1245.9h27.2m-13.6-14.8v29.6M1324.6 1245.9h27.2m-13.6-14.8v29.6M1326.2 1245.9h27.2m-13.6-14.8v29.6M1327.8 1245.9h27.2m-13.6-14.8v29.6M1329.5 1246h27.2m-13.6-14.8v29.6M1331.1 1246h27.2m-13.6-14.8v29.6M1332.7 1246h27.2m-13.6-14.8v29.6M1334.3 1246h27.2m-13.6-14.8v29.6M1335.9 1246h27.2m-13.6-14.8v29.6M1337.5 1246.1h27.2m-13.6-14.8v29.6M1339.2 1246.1h27.2m-13.6-14.8v29.6M1340.8 1246.1h27.2m-13.6-14.8v29.6M1342.4 1246.1h27.2m-13.6-14.8v29.6M1344 1246.1h27.2m-13.6-14.8v29.6M1345.6 1246.1h27.2m-13.6-14.8v29.6M1347.2 1246.1h27.2m-13.6-14.8v29.6M1348.9 1246.2h27.2m-13.6-14.8v29.6M1350.5 1246.2h27.2m-13.6-14.8v29.6M1352.1 1246.2h27.2m-13.6-14.8v29.6M1353.7 1246.2h27.2m-13.6-14.8v29.6M1355.3 1246.2h27.2m-13.6-14.8v29.6M1357 1246.2h27.2m-13.6-14.8v29.6M1358.6 1246.3h27.2m-13.6-14.8v29.6M1360.2 1246.3h27.2m-13.6-14.8v29.6M1361.8 1246.3h27.2m-13.6-14.8v29.6M1363.4 1246.3h27.2m-13.6-14.8v29.6M1365 1246.3h27.2m-13.6-14.8v29.6M1366.7 1246.3h27.2m-13.6-14.8v29.6M1368.3 1246.3h27.2m-13.6-14.8v29.6M1369.9 1246.4h27.2m-13.6-14.8v29.6M1371.5 1246.4h27.2m-13.6-14.8v29.6M1373.1 1246.4h27.2m-13.6-14.8v29.6M1374.7 1246.4h27.2m-13.6-14.8v29.6M1376.4 1246.4h27.2m-13.6-14.8v29.6M1378 1246.4h27.2m-13.6-14.8v29.6M1379.6 1246.4h27.2m-13.6-14.8v29.6M1381.2 1246.4h27.2m-13.6-14.8v29.6M1382.8 1246.4h27.2m-13.6-14.8v29.6M1384.4 1246.5h27.2m-13.6-14.8v29.6M1386.1 1246.5h27.2m-13.6-14.8v29.6M1387.7 1246.5h27.2m-13.6-14.8v29.6M1389.3 1246.5h27.2m-13.6-14.8v29.6M1390.9 1246.5h27.2m-13.6-14.8v29.6M1392.5 1246.5h27.2m-13.6-14.8v29.6M1394.1 1246.5h27.2m-13.6-14.8v29.6M1395.8 1246.5h27.2m-13.6-14.8v29.6M1397.4 1246.5h27.2m-13.6-14.8v29.6M1399 1246.5h27.2m-13.6-14.8v29.6M1400.6 1246.5h27.2m-13.6-14.8v29.6M1402.2 1246.5h27.2m-13.6-14.8v29.6M1403.8 1246.5h27.2m-13.6-14.8v29.6M1405.5 1246.5h27.2m-13.6-14.8v29.6M1407.1 1246.5h27.2m-13.6-14.8v29.6M1408.7 1246.5h27.2m-13.6-14.8v29.6M1410.3 1246.5h27.2m-13.6-14.8v29.6M1411.9 1246.5h27.2m-13.6-14.8v29.6M1413.5 1246.5h27.2m-13.6-14.8v29.6M1415.2 1246.5h27.2m-13.6-14.8v29.6M1416.8 1246.5h27.2m-13.6-14.8v29.6M1418.4 1246.4h27.2m-13.6-14.8v29.6M1420 1246.4h27.2m-13.6-14.8v29.6M1421.6 1246.4h27.2m-13.6-14.8v29.6M1423.2 1246.4h27.2m-13.6-14.8v29.6M1424.9 1246.4h27.2m-13.6-14.8v29.6M1426.5 1246.3h27.2m-13.6-14.8v29.6M1428.1 1246.3h27.2m-13.6-14.8v29.6M1429.7 1246.3h27.2m-13.6-14.8v29.6M1431.3 1246.2h27.2m-13.6-14.8v29.6M1432.9 1246.2h27.2m-13.6-14.8v29.6M1434.6 1246.1h27.2m-13.6-14.8v29.6M1436.2 1246.1h27.2m-13.6-14.8v29.6M1437.8 1246h27.2m-13.6-14.8v29.6M1439.4 1246h27.2m-13.6-14.8v29.6M1441 1245.9h27.2m-13.6-14.8v29.6M1442.6 1245.8h27.2m-13.6-14.8v29.6M1444.3 1245.7h27.2m-13.6-14.8v29.6M1445.9 1245.6h27.2m-13.6-14.8v29.6M1447.5 1245.5h27.2m-13.6-14.8v29.6M1449.1 1245.4h27.2m-13.6-14.8v29.6M1450.7 1245.3h27.2m-13.6-14.8v29.6M1452.3 1245.2h27.2m-13.6-14.8v29.6M1454 1245h27.2m-13.6-14.8v29.6M1455.6 1244.8h27.2m-13.6-14.8v29.6M1457.2 1244.6h27.2m-13.6-14.8v29.6M1458.8 1244.4h27.2m-13.6-14.8v29.6M1460.4 1244.2h27.2m-13.6-14.8v29.6M1462 1243.9h27.2m-13.6-14.8v29.6M1463.7 1243.6h27.2m-13.6-14.8v29.6M1465.3 1243.3h27.2m-13.6-14.8v29.6M1466.9 1242.9h27.2m-13.6-14.8v29.6M1468.5 1242.4h27.2m-13.6-14.8v29.6M1470.1 1241.9h27.2m-13.6-14.8v29.6M1471.7 1241.4h27.2m-13.6-14.8v29.6M1473.4 1240.7h27.2m-13.6-14.8v29.6M1475 1239.9h27.2m-13.6-14.8v29.6M1476.6 1239h27.2m-13.6-14.8v29.6M1478.2 1238h27.2m-13.6-14.8v29.6M1479.6 1237h27.2m-13.6-14.8v29.6M1480.9 1235.8h27.2m-13.6-14.8v29.6M1482 1234.8h27.2m-13.6-14.8v29.6M1483.1 1233.6h27.2m-13.6-14.8v29.6M1483.9 1232.6h27.2m-13.6-14.8v29.6M1484.7 1231.4h27.2m-13.6-14.8v29.6M1485.5 1230.2h27.2m-13.6-14.8v29.6M1486.3 1228.8h27.2m-13.6-14.8v29.6M1486.8 1227.8h27.2m-13.6-14.8v29.6M1487.4 1226.7h27.2m-13.6-14.8v29.6M1487.9 1225.5h27.2m-13.6-14.8v29.6M1488.5 1224.2h27.2m-13.6-14.8v29.6M1489 1222.8h27.2m-13.6-14.8v29.6M1489.5 1221.2h27.2m-13.6-14.8v29.6M1490.1 1219.6h27.2m-13.6-14.8v29.6M1490.6 1217.8h27.2m-13.6-14.8v29.6M1491.1 1215.8h27.2m-13.6-14.8v29.6M1491.4 1214.8h27.2m-13.6-14.8v29.6M1491.7 1213.7h27.2m-13.6-14.8v29.6M1492 1212.6h27.2m-13.6-14.8v29.6M1492.2 1211.4h27.2m-13.6-14.8v29.6M1492.5 1210.2h27.2m-13.6-14.8v29.6M1492.8 1208.9h27.2m-13.6-14.8v29.6M1493 1207.5h27.2m-13.6-14.8v29.6M1493.3 1206.1h27.2m-13.6-14.8v29.6M1493.6 1204.7h27.2m-13.6-14.8v29.6M1493.8 1203.2h27.2m-13.6-14.8v29.6M1494.1 1201.6h27.2m-13.6-14.8v29.6M1494.4 1200h27.2m-13.6-14.8v29.6M1494.6 1198.3h27.2m-13.6-14.8v29.6M1494.9 1196.5h27.2m-13.6-14.8v29.6M1495.2 1194.6h27.2m-13.6-14.8v29.6M1495.5 1192.7h27.2m-13.6-14.8v29.6M1495.7 1190.7h27.2m-13.6-14.8v29.6M1496 1188.7h27.2m-13.6-14.8v29.6M1496.3 1186.5h27.2m-13.6-14.8v29.6M1496.5 1184.3h27.2m-13.6-14.8v29.6M1496.8 1182h27.2m-13.6-14.8v29.6M1497.1 1179.7h27.2m-13.6-14.8v29.6M1497.3 1177.2h27.2m-13.6-14.8v29.6M1497.6 1174.7h27.2m-13.6-14.8v29.6M1497.9 1172.1h27.2m-13.6-14.8v29.6M1498.2 1169.4h27.2m-13.6-14.8v29.6M1498.4 1166.6h27.2m-13.6-14.8v29.6M1498.7 1163.8h27.2m-13.6-14.8v29.6M1499 1160.9h27.2m-13.6-14.8v29.6M1499.2 1157.9h27.2m-13.6-14.8v29.6M1499.5 1154.9h27.2m-13.6-14.8v29.6M1499.8 1151.8h27.2m-13.6-14.8v29.6M1500 1148.7h27.2m-13.6-14.8v29.6M1500.3 1145.5h27.2m-13.6-14.8v29.6M1500.6 1142.4h27.2m-13.6-14.8v29.6M1500.8 1139.2h27.2m-13.6-14.8v29.6M1501.1 1136h27.2m-13.6-14.8v29.6M1501.4 1132.8h27.2m-13.6-14.8v29.6M1501.7 1129.7h27.2m-13.6-14.8v29.6M1501.9 1126.6h27.2m-13.6-14.8v29.6M1502.2 1123.6h27.2m-13.6-14.8v29.6M1502.5 1120.7h27.2m-13.6-14.8v29.6M1502.7 1118h27.2m-13.6-14.8v29.6M1503 1115.3h27.2m-13.6-14.8v29.6M1503.3 1112.9h27.2m-13.6-14.8v29.6M1503.5 1110.6h27.2m-13.6-14.8v29.6M1503.8 1108.6h27.2m-13.6-14.8v29.6M1504.1 1106.8h27.2m-13.6-14.8v29.6M1504.3 1105.2h27.2m-13.6-14.8v29.6M1504.6 1104h27.2m-13.6-14.8v29.6M1505.2 1102.3h27.2m-13.6-14.8v29.6M1506.5 1103.7h27.2m-13.6-14.8v29.6M1506.8 1104.9h27.2m-13.6-14.8v29.6M1507 1106.4h27.2m-13.6-14.8v29.6M1507.3 1108.1h27.2m-13.6-14.8v29.6M1507.6 1110.1h27.2m-13.6-14.8v29.6M1507.9 1112.3h27.2m-13.6-14.8v29.6M1508.1 1114.7h27.2m-13.6-14.8v29.6M1508.4 1117.3h27.2m-13.6-14.8v29.6M1508.7 1120h27.2m-13.6-14.8v29.6M1508.9 1122.9h27.2m-13.6-14.8v29.6M1509.2 1125.9h27.2m-13.6-14.8v29.6M1509.5 1129h27.2m-13.6-14.8v29.6M1509.7 1132.1h27.2m-13.6-14.8v29.6M1510 1135.2h27.2m-13.6-14.8v29.6M1510.3 1138.4h27.2m-13.6-14.8v29.6M1510.5 1141.6h27.2m-13.6-14.8v29.6M1510.8 1144.8h27.2m-13.6-14.8v29.6M1511.1 1148h27.2m-13.6-14.8v29.6M1511.4 1151.1h27.2m-13.6-14.8v29.6M1511.6 1154.2h27.2m-13.6-14.8v29.6M1511.9 1157.3h27.2m-13.6-14.8v29.6M1512.2 1160.3h27.2m-13.6-14.8v29.6M1512.4 1163.2h27.2m-13.6-14.8v29.6M1512.7 1166.1h27.2m-13.6-14.8v29.6M1513 1168.9h27.2m-13.6-14.8v29.6M1513.2 1171.6h27.2m-13.6-14.8v29.6M1513.5 1174.2h27.2m-13.6-14.8v29.6M1513.8 1176.8h27.2m-13.6-14.8v29.6M1514.1 1179.3h27.2m-13.6-14.8v29.6M1514.3 1181.7h27.2m-13.6-14.8v29.6M1514.6 1184h27.2m-13.6-14.8v29.6M1514.9 1186.2h27.2m-13.6-14.8v29.6M1515.1 1188.4h27.2m-13.6-14.8v29.6M1515.4 1190.5h27.2m-13.6-14.8v29.6M1515.7 1192.5h27.2m-13.6-14.8v29.6M1515.9 1194.5h27.2m-13.6-14.8v29.6M1516.2 1196.3h27.2m-13.6-14.8v29.6M1516.5 1198.1h27.2m-13.6-14.8v29.6M1516.7 1199.9h27.2m-13.6-14.8v29.6M1517 1201.5h27.2m-13.6-14.8v29.6M1517.3 1203.1h27.2m-13.6-14.8v29.6M1517.6 1204.7h27.2m-13.6-14.8v29.6M1517.8 1206.2h27.2m-13.6-14.8v29.6M1518.1 1207.6h27.2m-13.6-14.8v29.6M1518.4 1208.9h27.2m-13.6-14.8v29.6M1518.6 1210.2h27.2m-13.6-14.8v29.6M1518.9 1211.5h27.2m-13.6-14.8v29.6M1519.2 1212.7h27.2m-13.6-14.8v29.6M1519.4 1213.9h27.2m-13.6-14.8v29.6M1519.7 1215h27.2m-13.6-14.8v29.6M1520 1216h27.2m-13.6-14.8v29.6M1520.2 1217h27.2m-13.6-14.8v29.6M1520.8 1219h27.2m-13.6-14.8v29.6M1521.3 1220.7h27.2m-13.6-14.8v29.6M1521.9 1222.4h27.2m-13.6-14.8v29.6M1522.4 1223.9h27.2m-13.6-14.8v29.6M1522.9 1225.2h27.2m-13.6-14.8v29.6M1523.5 1226.5h27.2m-13.6-14.8v29.6M1524 1227.7h27.2m-13.6-14.8v29.6M1524.6 1228.8h27.2m-13.6-14.8v29.6M1525.1 1229.8h27.2m-13.6-14.8v29.6M1525.9 1231.2h27.2m-13.6-14.8v29.6M1526.7 1232.4h27.2m-13.6-14.8v29.6M1527.5 1233.6h27.2m-13.6-14.8v29.6M1528.3 1234.6h27.2m-13.6-14.8v29.6M1529.4 1235.8h27.2m-13.6-14.8v29.6M1530.5 1236.9h27.2m-13.6-14.8v29.6M1531.8 1238.1h27.2m-13.6-14.8v29.6M1533.2 1239.1h27.2m-13.6-14.8v29.6M1534.8 1240.2h27.2m-13.6-14.8v29.6M1536.4 1241.1h27.2m-13.6-14.8v29.6M1538 1241.9h27.2m-13.6-14.8v29.6M1539.6 1242.6h27.2m-13.6-14.8v29.6M1541.3 1243.2h27.2m-13.6-14.8v29.6M1542.9 1243.8h27.2m-13.6-14.8v29.6M1544.5 1244.3h27.2m-13.6-14.8v29.6M1546.1 1244.7h27.2m-13.6-14.8v29.6M1547.7 1245.1h27.2m-13.6-14.8v29.6M1549.4 1245.5h27.2m-13.6-14.8v29.6M1551 1245.8h27.2m-13.6-14.8v29.6M1552.6 1246.1h27.2m-13.6-14.8v29.6M1554.2 1246.3h27.2m-13.6-14.8v29.6M1555.8 1246.6h27.2m-13.6-14.8v29.6M1557.4 1246.8h27.2m-13.6-14.8v29.6M1559.1 1247h27.2m-13.6-14.8v29.6M1560.7 1247.2h27.2m-13.6-14.8v29.6M1562.3 1247.4h27.2m-13.6-14.8v29.6M1563.9 1247.6h27.2m-13.6-14.8v29.6M1565.5 1247.7h27.2m-13.6-14.8v29.6M1567.1 1247.9h27.2m-13.6-14.8v29.6M1568.8 1248h27.2m-13.6-14.8v29.6M1570.4 1248.2h27.2m-13.6-14.8v29.6M1572 1248.3h27.2m-13.6-14.8v29.6M1573.6 1248.4h27.2m-13.6-14.8v29.6M1575.2 1248.5h27.2m-13.6-14.8v29.6M1576.8 1248.6h27.2m-13.6-14.8v29.6M1578.5 1248.7h27.2m-13.6-14.8v29.6M1580.1 1248.8h27.2m-13.6-14.8v29.6M1581.7 1248.9h27.2m-13.6-14.8v29.6M1583.3 1249h27.2m-13.6-14.8v29.6M1584.9 1249.1h27.2m-13.6-14.8v29.6M1586.5 1249.2h27.2m-13.6-14.8v29.6M1588.2 1249.2h27.2m-13.6-14.8v29.6M1589.8 1249.3h27.2m-13.6-14.8v29.6M1591.4 1249.4h27.2m-13.6-14.8v29.6M1593 1249.5h27.2m-13.6-14.8v29.6M1594.6 1249.5h27.2m-13.6-14.8v29.6M1596.2 1249.6h27.2m-13.6-14.8v29.6M1597.9 1249.7h27.2m-13.6-14.8v29.6M1599.5 1249.7h27.2m-13.6-14.8v29.6M1601.1 1249.8h27.2m-13.6-14.8v29.6M1602.7 1249.9h27.2m-13.6-14.8v29.6M1604.3 1249.9h27.2m-13.6-14.8v29.6M1605.9 1250h27.2m-13.6-14.8v29.6M1607.6 1250h27.2m-13.6-14.8v29.6M1609.2 1250.1h27.2m-13.6-14.8v29.6M1610.8 1250.1h27.2m-13.6-14.8v29.6M1612.4 1250.2h27.2m-13.6-14.8v29.6M1614 1250.2h27.2m-13.6-14.8v29.6M1615.6 1250.3h27.2m-13.6-14.8v29.6M1617.3 1250.3h27.2m-13.6-14.8v29.6M1618.9 1250.4h27.2m-13.6-14.8v29.6M1620.5 1250.4h27.2m-13.6-14.8v29.6M1622.1 1250.5h27.2m-13.6-14.8v29.6M1623.7 1250.5h27.2m-13.6-14.8v29.6M1625.3 1250.6h27.2m-13.6-14.8v29.6M1627 1250.6h27.2m-13.6-14.8v29.6M1628.6 1250.7h27.2m-13.6-14.8v29.6M1630.2 1250.7h27.2m-13.6-14.8v29.6M1631.8 1250.8h27.2m-13.6-14.8v29.6M1633.4 1250.8h27.2m-13.6-14.8v29.6M1635 1250.8h27.2m-13.6-14.8v29.6M1636.7 1250.9h27.2m-13.6-14.8v29.6M1638.3 1250.9h27.2m-13.6-14.8v29.6M1639.9 1251h27.2m-13.6-14.8v29.6M1641.5 1251h27.2m-13.6-14.8v29.6M1643.1 1251h27.2m-13.6-14.8v29.6M1644.7 1251.1h27.2m-13.6-14.8v29.6M1646.4 1251.1h27.2m-13.6-14.8v29.6M1648 1251.2h27.2m-13.6-14.8v29.6M1649.6 1251.2h27.2m-13.6-14.8v29.6M1651.2 1251.2h27.2m-13.6-14.8v29.6M1652.8 1251.3h27.2m-13.6-14.8v29.6M1654.4 1251.3h27.2m-13.6-14.8v29.6M1656.1 1251.4h27.2m-13.6-14.8v29.6M1657.7 1251.4h27.2m-13.6-14.8v29.6M1659.3 1251.4h27.2m-13.6-14.8v29.6M1660.9 1251.5h27.2m-13.6-14.8v29.6M1662.5 1251.5h27.2m-13.6-14.8v29.6M1664.1 1251.5h27.2m-13.6-14.8v29.6M1665.8 1251.6h27.2m-13.6-14.8v29.6M1667.4 1251.6h27.2m-13.6-14.8v29.6M1669 1251.7h27.2m-13.6-14.8v29.6M1670.6 1251.7h27.2m-13.6-14.8v29.6M1672.2 1251.7h27.2m-13.6-14.8v29.6M1673.8 1251.8h27.2m-13.6-14.8v29.6M1675.5 1251.8h27.2m-13.6-14.8v29.6M1677.1 1251.8h27.2m-13.6-14.8v29.6M1678.7 1251.9h27.2m-13.6-14.8v29.6M1680.3 1251.9h27.2m-13.6-14.8v29.6M1681.9 1251.9h27.2m-13.6-14.8v29.6M1683.5 1252h27.2m-13.6-14.8v29.6M1685.2 1252h27.2m-13.6-14.8v29.6M1686.8 1252h27.2m-13.6-14.8v29.6M1688.4 1252.1h27.2m-13.6-14.8v29.6M1690 1252.1h27.2m-13.6-14.8v29.6M1691.6 1252.1h27.2m-13.6-14.8v29.6M1693.2 1252.2h27.2m-13.6-14.8v29.6M1694.9 1252.2h27.2m-13.6-14.8v29.6M1696.5 1252.2h27.2m-13.6-14.8v29.6M1698.1 1252.3h27.2m-13.6-14.8v29.6M1699.7 1252.3h27.2m-13.6-14.8v29.6M1701.3 1252.3h27.2m-13.6-14.8v29.6M1702.9 1252.4h27.2m-13.6-14.8v29.6M1704.6 1252.4h27.2m-13.6-14.8v29.6M1706.2 1252.4h27.2m-13.6-14.8v29.6M1707.8 1252.5h27.2m-13.6-14.8v29.6M1709.4 1252.5h27.2m-13.6-14.8v29.6M1711 1252.5h27.2m-13.6-14.8v29.6M1712.6 1252.6h27.2m-13.6-14.8v29.6M1714.3 1252.6h27.2m-13.6-14.8v29.6M1715.9 1252.6h27.2m-13.6-14.8v29.6M1717.5 1252.7h27.2m-13.6-14.8v29.6M1719.1 1252.7h27.2m-13.6-14.8v29.6M1720.7 1252.7h27.2m-13.6-14.8v29.6M1722.3 1252.8h27.2m-13.6-14.8v29.6M1724 1252.8h27.2m-13.6-14.8v29.6M1725.6 1252.8h27.2m-13.6-14.8v29.6M1727.2 1252.9h27.2m-13.6-14.8v29.6M1728.8 1252.9h27.2m-13.6-14.8v29.6M1730.4 1252.9h27.2m-13.6-14.8v29.6M1732 1253h27.2m-13.6-14.8v29.6M1733.7 1253h27.2m-13.6-14.8v29.6M1735.3 1253h27.2m-13.6-14.8v29.6M1736.9 1253.1h27.2m-13.6-14.8v29.6M1738.5 1253.1h27.2m-13.6-14.8v29.6M1740.1 1253.1h27.2m-13.6-14.8v29.6M1741.8 1253.1h27.2m-13.6-14.8v29.6M1743.4 1253.2h27.2m-13.6-14.8v29.6M1745 1253.2h27.2m-13.6-14.8v29.6M1746.6 1253.2h27.2m-13.6-14.8v29.6M1748.2 1253.3h27.2m-13.6-14.8v29.6M1749.8 1253.3h27.2m-13.6-14.8v29.6M1751.5 1253.3h27.2m-13.6-14.8v29.6M1753.1 1253.4h27.2m-13.6-14.8v29.6M1754.7 1253.4h27.2m-13.6-14.8v29.6M1756.3 1253.4h27.2m-13.6-14.8v29.6M1757.9 1253.4h27.2m-13.6-14.8v29.6M1759.5 1253.5h27.2m-13.6-14.8v29.6M1761.2 1253.5h27.2m-13.6-14.8v29.6M1762.8 1253.5h27.2m-13.6-14.8v29.6M1764.4 1253.6h27.2m-13.6-14.8v29.6M1766 1253.6h27.2m-13.6-14.8v29.6M1767.6 1253.6h27.2m-13.6-14.8v29.6M1769.2 1253.7h27.2m-13.6-14.8v29.6M1770.9 1253.7h27.2m-13.6-14.8v29.6M1772.5 1253.7h27.2m-13.6-14.8v29.6M1774.1 1253.7h27.2m-13.6-14.8v29.6M1775.7 1253.8h27.2m-13.6-14.8v29.6M1777.3 1253.8h27.2m-13.6-14.8v29.6M1778.9 1253.8h27.2m-13.6-14.8v29.6M1780.6 1253.9h27.2m-13.6-14.8v29.6M1782.2 1253.9h27.2m-13.6-14.8v29.6M1783.8 1253.9h27.2m-13.6-14.8v29.6M1785.4 1253.9h27.2m-13.6-14.8v29.6M1787 1254h27.2m-13.6-14.8v29.6M1788.6 1254h27.2m-13.6-14.8v29.6M1790.3 1254h27.2m-13.6-14.8v29.6M1791.9 1254.1h27.2m-13.6-14.8v29.6M1793.5 1254.1h27.2m-13.6-14.8v29.6M1795.1 1254.1h27.2m-13.6-14.8v29.6M1796.7 1254.1h27.2m-13.6-14.8v29.6M1798.3 1254.2h27.2m-13.6-14.8v29.6M1800 1254.2h27.2m-13.6-14.8v29.6M1801.6 1254.2h27.2m-13.6-14.8v29.6M1803.2 1254.3h27.2m-13.6-14.8v29.6M1804.8 1254.3h27.2m-13.6-14.8v29.6M1806.4 1254.3h27.2m-13.6-14.8v29.6M1808 1254.3h27.2m-13.6-14.8v29.6M1809.7 1254.4h27.2m-13.6-14.8v29.6M1811.3 1254.4h27.2m-13.6-14.8v29.6M1812.9 1254.4h27.2m-13.6-14.8v29.6M1814.5 1254.4h27.2m-13.6-14.8v29.6M1816.1 1254.5h27.2m-13.6-14.8v29.6M1817.7 1254.5h27.2m-13.6-14.8v29.6M1819.4 1254.5h27.2m-13.6-14.8v29.6M1821 1254.5h27.2m-13.6-14.8v29.6M1822.6 1254.6h27.2m-13.6-14.8v29.6M1824.2 1254.6h27.2m-13.6-14.8v29.6M1825.8 1254.6h27.2m-13.6-14.8v29.6M1827.4 1254.6h27.2m-13.6-14.8v29.6M1829.1 1254.7h27.2m-13.6-14.8v29.6M1830.7 1254.7h27.2m-13.6-14.8v29.6M1832.3 1254.7h27.2m-13.6-14.8v29.6M1833.9 1254.7h27.2m-13.6-14.8v29.6M1835.5 1254.8h27.2m-13.6-14.8v29.6M1837.1 1254.8h27.2m-13.6-14.8v29.6M1838.8 1254.8h27.2m-13.6-14.8v29.6M1840.4 1254.8h27.2m-13.6-14.8v29.6M1842 1254.9h27.2m-13.6-14.8v29.6M1843.6 1254.9h27.2m-13.6-14.8v29.6M1845.2 1254.9h27.2m-13.6-14.8v29.6M1846.8 1254.9h27.2m-13.6-14.8v29.6M1848.5 1255h27.2m-13.6-14.8v29.6M1850.1 1255h27.2m-13.6-14.8v29.6M1851.7 1255h27.2m-13.6-14.8v29.6M1853.3 1255h27.2m-13.6-14.8v29.6M1854.9 1255h27.2m-13.6-14.8v29.6M1856.5 1255.1h27.2m-13.6-14.8v29.6M1858.2 1255.1h27.2m-13.6-14.8v29.6M1859.8 1255.1h27.2m-13.6-14.8v29.6M1861.4 1255.1h27.2m-13.6-14.8v29.6M1863 1255.1h27.2m-13.6-14.8v29.6M1864.6 1255.2h27.2m-13.6-14.8v29.6M1866.2 1255.2h27.2m-13.6-14.8v29.6M1867.9 1255.2h27.2m-13.6-14.8v29.6M1869.5 1255.2h27.2m-13.6-14.8v29.6M1871.1 1255.2h27.2m-13.6-14.8v29.6M1872.7 1255.2h27.2m-13.6-14.8v29.6M1874.3 1255.3h27.2m-13.6-14.8v29.6M1875.9 1255.3h27.2m-13.6-14.8v29.6M1877.6 1255.3h27.2m-13.6-14.8v29.6M1879.2 1255.3h27.2m-13.6-14.8v29.6M1880.8 1255.3h27.2m-13.6-14.8v29.6M1882.4 1255.3h27.2m-13.6-14.8v29.6M1884 1255.3h27.2m-13.6-14.8v29.6M1885.6 1255.3h27.2m-13.6-14.8v29.6M1887.3 1255.3h27.2m-13.6-14.8v29.6M1888.9 1255.3h27.2m-13.6-14.8v29.6M1890.5 1255.3h27.2m-13.6-14.8v29.6M1892.1 1255.3h27.2m-13.6-14.8v29.6M1893.7 1255.3h27.2m-13.6-14.8v29.6M1895.3 1255.3h27.2m-13.6-14.8v29.6M1897 1255.3h27.2m-13.6-14.8v29.6M1898.6 1255.3h27.2m-13.6-14.8v29.6M1900.2 1255.3h27.2m-13.6-14.8v29.6M1901.8 1255.3h27.2m-13.6-14.8v29.6M1903.4 1255.3h27.2m-13.6-14.8v29.6M1905 1255.3h27.2m-13.6-14.8v29.6M1906.7 1255.3h27.2m-13.6-14.8v29.6M1908.3 1255.2h27.2m-13.6-14.8v29.6M1909.9 1255.2h27.2m-13.6-14.8v29.6M1911.5 1255.2h27.2m-13.6-14.8v29.6M1913.1 1255.1h27.2m-13.6-14.8v29.6M1914.7 1255.1h27.2m-13.6-14.8v29.6M1916.4 1255.1h27.2m-13.6-14.8v29.6M1918 1255h27.2m-13.6-14.8v29.6M1919.6 1255h27.2m-13.6-14.8v29.6M1921.2 1254.9h27.2m-13.6-14.8v29.6M1922.8 1254.9h27.2m-13.6-14.8v29.6M1924.4 1254.8h27.2m-13.6-14.8v29.6M1926.1 1254.7h27.2m-13.6-14.8v29.6M1927.7 1254.6h27.2m-13.6-14.8v29.6M1929.3 1254.5h27.2m-13.6-14.8v29.6M1930.9 1254.4h27.2m-13.6-14.8v29.6M1932.5 1254.3h27.2m-13.6-14.8v29.6M1934.2 1254.2h27.2m-13.6-14.8v29.6M1935.8 1254h27.2m-13.6-14.8v29.6M1937.4 1253.9h27.2m-13.6-14.8v29.6M1939 1253.7h27.2m-13.6-14.8v29.6M1940.6 1253.5h27.2m-13.6-14.8v29.6M1942.2 1253.3h27.2m-13.6-14.8v29.6M1943.9 1253h27.2m-13.6-14.8v29.6M1945.5 1252.7h27.2m-13.6-14.8v29.6M1947.1 1252.4h27.2m-13.6-14.8v29.6M1948.7 1252.1h27.2m-13.6-14.8v29.6M1950.3 1251.7h27.2m-13.6-14.8v29.6M1951.9 1251.2h27.2m-13.6-14.8v29.6M1953.6 1250.7h27.2m-13.6-14.8v29.6M1955.2 1250.1h27.2m-13.6-14.8v29.6M1956.8 1249.5h27.2m-13.6-14.8v29.6M1958.4 1248.7h27.2m-13.6-14.8v29.6M1960 1247.9h27.2m-13.6-14.8v29.6M1961.6 1246.8h27.2m-13.6-14.8v29.6M1963.3 1245.7h27.2m-13.6-14.8v29.6M1964.6 1244.5h27.2m-13.6-14.8v29.6M1965.7 1243.5h27.2m-13.6-14.8v29.6M1966.8 1242.4h27.2m-13.6-14.8v29.6M1967.8 1241.1h27.2m-13.6-14.8v29.6M1968.6 1240h27.2m-13.6-14.8v29.6M1969.5 1238.8h27.2m-13.6-14.8v29.6M1970.3 1237.5h27.2m-13.6-14.8v29.6M1971.1 1236.1h27.2m-13.6-14.8v29.6M1971.6 1235.1h27.2m-13.6-14.8v29.6M1972.1 1234h27.2m-13.6-14.8v29.6M1972.7 1232.8h27.2m-13.6-14.8v29.6M1973.2 1231.5h27.2m-13.6-14.8v29.6M1973.8 1230.2h27.2m-13.6-14.8v29.6M1974.3 1228.7h27.2m-13.6-14.8v29.6M1974.8 1227.2h27.2m-13.6-14.8v29.6M1975.4 1225.5h27.2m-13.6-14.8v29.6M1975.9 1223.8h27.2m-13.6-14.8v29.6M1976.5 1221.9h27.2m-13.6-14.8v29.6M1976.7 1220.9h27.2m-13.6-14.8v29.6M1977 1219.8h27.2m-13.6-14.8v29.6M1977.3 1218.7h27.2m-13.6-14.8v29.6M1977.5 1217.6h27.2m-13.6-14.8v29.6M1977.8 1216.4h27.2m-13.6-14.8v29.6M1978.1 1215.2h27.2m-13.6-14.8v29.6M1978.3 1214h27.2m-13.6-14.8v29.6M1978.6 1212.7h27.2m-13.6-14.8v29.6M1978.9 1211.4h27.2m-13.6-14.8v29.6M1979.2 1210h27.2m-13.6-14.8v29.6M1979.4 1208.5h27.2m-13.6-14.8v29.6M1979.7 1207h27.2m-13.6-14.8v29.6M1980 1205.5h27.2m-13.6-14.8v29.6M1980.2 1203.9h27.2m-13.6-14.8v29.6M1980.5 1202.3h27.2m-13.6-14.8v29.6M1980.8 1200.5h27.2m-13.6-14.8v29.6M1981 1198.8h27.2m-13.6-14.8v29.6M1981.3 1197h27.2m-13.6-14.8v29.6M1981.6 1195.1h27.2m-13.6-14.8v29.6M1981.8 1193.2h27.2m-13.6-14.8v29.6M1982.1 1191.2h27.2m-13.6-14.8v29.6M1982.4 1189.1h27.2m-13.6-14.8v29.6M1982.7 1187h27.2m-13.6-14.8v29.6M1982.9 1184.9h27.2m-13.6-14.8v29.6M1983.2 1182.7h27.2m-13.6-14.8v29.6M1983.5 1180.4h27.2m-13.6-14.8v29.6M1983.7 1178.1h27.2m-13.6-14.8v29.6M1984 1175.8h27.2m-13.6-14.8v29.6M1984.3 1173.4h27.2m-13.6-14.8v29.6M1984.5 1171h27.2m-13.6-14.8v29.6M1984.8 1168.6h27.2m-13.6-14.8v29.6M1985.1 1166.1h27.2m-13.6-14.8v29.6M1985.3 1163.7h27.2m-13.6-14.8v29.6M1985.6 1161.2h27.2m-13.6-14.8v29.6M1985.9 1158.8h27.2m-13.6-14.8v29.6M1986.2 1156.4h27.2m-13.6-14.8v29.6M1986.4 1154h27.2m-13.6-14.8v29.6M1986.7 1151.7h27.2m-13.6-14.8v29.6M1987 1149.4h27.2m-13.6-14.8v29.6M1987.2 1147.3h27.2m-13.6-14.8v29.6M1987.5 1145.2h27.2m-13.6-14.8v29.6M1987.8 1143.3h27.2m-13.6-14.8v29.6M1988 1141.5h27.2m-13.6-14.8v29.6M1988.3 1139.8h27.2m-13.6-14.8v29.6M1988.6 1138.3h27.2m-13.6-14.8v29.6M1988.9 1137h27.2m-13.6-14.8v29.6M1989.1 1135.8h27.2m-13.6-14.8v29.6M1989.7 1134.2h27.2m-13.6-14.8v29.6M1991.3 1134.3h27.2m-13.6-14.8v29.6M1991.8 1135.9h27.2m-13.6-14.8v29.6M1992.1 1136.9h27.2m-13.6-14.8v29.6M1992.4 1138.1h27.2m-13.6-14.8v29.6M1992.6 1139.4h27.2m-13.6-14.8v29.6M1992.9 1140.9h27.2m-13.6-14.8v29.6M1993.2 1142.5h27.2m-13.6-14.8v29.6M1993.4 1144.2h27.2m-13.6-14.8v29.6M1993.7 1146h27.2m-13.6-14.8v29.6M1994 1148h27.2m-13.6-14.8v29.6M1994.2 1149.9h27.2m-13.6-14.8v29.6M1994.5 1152h27.2m-13.6-14.8v29.6M1994.8 1154.1h27.2m-13.6-14.8v29.6M1995.1 1156.2h27.2m-13.6-14.8v29.6M1995.3 1158.4h27.2m-13.6-14.8v29.6M1995.6 1160.6h27.2m-13.6-14.8v29.6M1995.9 1162.8h27.2m-13.6-14.8v29.6M1996.1 1165.1h27.2m-13.6-14.8v29.6M1996.4 1167.3h27.2m-13.6-14.8v29.6M1996.7 1169.5h27.2m-13.6-14.8v29.6M1996.9 1171.7h27.2m-13.6-14.8v29.6M1997.2 1173.9h27.2m-13.6-14.8v29.6M1997.5 1176.1h27.2m-13.6-14.8v29.6M1997.7 1178.2h27.2m-13.6-14.8v29.6M1998 1180.3h27.2m-13.6-14.8v29.6M1998.3 1182.4h27.2m-13.6-14.8v29.6M1998.6 1184.4h27.2m-13.6-14.8v29.6M1998.8 1186.3h27.2m-13.6-14.8v29.6M1999.1 1188.3h27.2m-13.6-14.8v29.6M1999.4 1190.2h27.2m-13.6-14.8v29.6M1999.6 1192h27.2m-13.6-14.8v29.6M1999.9 1193.8h27.2m-13.6-14.8v29.6M2000.2 1195.6h27.2m-13.6-14.8v29.6M2000.4 1197.3h27.2m-13.6-14.8v29.6M2000.7 1198.9h27.2m-13.6-14.8v29.6M2001 1200.5h27.2m-13.6-14.8v29.6M2001.2 1202.1h27.2m-13.6-14.8v29.6M2001.5 1203.6h27.2m-13.6-14.8v29.6M2001.8 1205.1h27.2m-13.6-14.8v29.6M2002.1 1206.5h27.2m-13.6-14.8v29.6M2002.3 1207.9h27.2m-13.6-14.8v29.6M2002.6 1209.3h27.2m-13.6-14.8v29.6M2002.9 1210.6h27.2m-13.6-14.8v29.6M2003.1 1211.8h27.2m-13.6-14.8v29.6M2003.4 1213.1h27.2m-13.6-14.8v29.6M2003.7 1214.3h27.2m-13.6-14.8v29.6M2003.9 1215.4h27.2m-13.6-14.8v29.6M2004.2 1216.5h27.2m-13.6-14.8v29.6M2004.5 1217.6h27.2m-13.6-14.8v29.6M2004.8 1218.6h27.2m-13.6-14.8v29.6M2005 1219.6h27.2m-13.6-14.8v29.6M2005.6 1221.6h27.2m-13.6-14.8v29.6M2006.1 1223.4h27.2m-13.6-14.8v29.6M2006.6 1225.1h27.2m-13.6-14.8v29.6M2007.2 1226.7h27.2m-13.6-14.8v29.6M2007.7 1228.2h27.2m-13.6-14.8v29.6M2008.3 1229.6h27.2m-13.6-14.8v29.6M2008.8 1230.9h27.2m-13.6-14.8v29.6M2009.3 1232.1h27.2m-13.6-14.8v29.6M2009.9 1233.3h27.2m-13.6-14.8v29.6M2010.4 1234.4h27.2m-13.6-14.8v29.6M2010.9 1235.4h27.2m-13.6-14.8v29.6M2011.8 1236.9h27.2m-13.6-14.8v29.6M2012.6 1238.2h27.2m-13.6-14.8v29.6M2013.4 1239.4h27.2m-13.6-14.8v29.6M2014.2 1240.5h27.2m-13.6-14.8v29.6M2015 1241.6h27.2m-13.6-14.8v29.6M2016.1 1242.8h27.2m-13.6-14.8v29.6M2017.1 1243.9h27.2m-13.6-14.8v29.6M2018.2 1245h27.2m-13.6-14.8v29.6M2019.6 1246.1h27.2m-13.6-14.8v29.6M2020.9 1247.1h27.2m-13.6-14.8v29.6M2022.5 1248.2h27.2m-13.6-14.8v29.6M2024.2 1249.2h27.2m-13.6-14.8v29.6M2025.8 1250h27.2m-13.6-14.8v29.6M2027.4 1250.8h27.2m-13.6-14.8v29.6M2029 1251.4h27.2m-13.6-14.8v29.6M2030.6 1252h27.2m-13.6-14.8v29.6M2032.2 1252.6h27.2m-13.6-14.8v29.6M2033.9 1253h27.2m-13.6-14.8v29.6M2035.5 1253.5h27.2m-13.6-14.8v29.6M2037.1 1253.9h27.2m-13.6-14.8v29.6M2038.7 1254.2h27.2m-13.6-14.8v29.6M2040.3 1254.6h27.2m-13.6-14.8v29.6M2041.9 1254.9h27.2m-13.6-14.8v29.6M2043.6 1255.2h27.2m-13.6-14.8v29.6M2045.2 1255.4h27.2m-13.6-14.8v29.6M2046.8 1255.6h27.2m-13.6-14.8v29.6M2048.4 1255.9h27.2m-13.6-14.8v29.6M2050 1256.1h27.2m-13.6-14.8v29.6M2051.6 1256.3h27.2m-13.6-14.8v29.6M2053.3 1256.4h27.2m-13.6-14.8v29.6M2054.9 1256.6h27.2m-13.6-14.8v29.6M2056.5 1256.8h27.2m-13.6-14.8v29.6M2058.1 1256.9h27.2m-13.6-14.8v29.6M2059.7 1257.1h27.2m-13.6-14.8v29.6M2061.3 1257.2h27.2m-13.6-14.8v29.6M2063 1257.3h27.2m-13.6-14.8v29.6M2064.6 1257.4h27.2m-13.6-14.8v29.6M2066.2 1257.5h27.2m-13.6-14.8v29.6M2067.8 1257.6h27.2m-13.6-14.8v29.6M2069.4 1257.7h27.2m-13.6-14.8v29.6M2071 1257.8h27.2m-13.6-14.8v29.6M2072.7 1257.9h27.2m-13.6-14.8v29.6M2074.3 1258h27.2m-13.6-14.8v29.6M2075.9 1258h27.2m-13.6-14.8v29.6M2077.5 1258.1h27.2m-13.6-14.8v29.6M2079.1 1258.2h27.2m-13.6-14.8v29.6M2080.7 1258.2h27.2m-13.6-14.8v29.6M2082.4 1258.3h27.2m-13.6-14.8v29.6M2084 1258.3h27.2m-13.6-14.8v29.6M2085.6 1258.4h27.2m-13.6-14.8v29.6M2087.2 1258.4h27.2m-13.6-14.8v29.6M2088.8 1258.5h27.2m-13.6-14.8v29.6M2090.4 1258.5h27.2m-13.6-14.8v29.6M2092.1 1258.5h27.2m-13.6-14.8v29.6M2093.7 1258.5h27.2m-13.6-14.8v29.6M2095.3 1258.5h27.2m-13.6-14.8v29.6M2096.9 1258.5h27.2m-13.6-14.8v29.6M2098.5 1258.6h27.2m-13.6-14.8v29.6M2100.1 1258.5h27.2m-13.6-14.8v29.6M2101.8 1258.5h27.2m-13.6-14.8v29.6M2103.4 1258.5h27.2m-13.6-14.8v29.6M2105 1258.5h27.2m-13.6-14.8v29.6M2106.6 1258.4h27.2m-13.6-14.8v29.6M2108.2 1258.4h27.2m-13.6-14.8v29.6M2109.8 1258.3h27.2m-13.6-14.8v29.6M2111.5 1258.2h27.2m-13.6-14.8v29.6M2113.1 1258.1h27.2m-13.6-14.8v29.6M2114.7 1258h27.2m-13.6-14.8v29.6M2116.3 1257.9h27.2m-13.6-14.8v29.6M2117.9 1257.7h27.2m-13.6-14.8v29.6M2119.5 1257.5h27.2m-13.6-14.8v29.6M2121.2 1257.3h27.2m-13.6-14.8v29.6M2122.8 1257h27.2m-13.6-14.8v29.6M2124.4 1256.6h27.2m-13.6-14.8v29.6M2126 1256.2h27.2m-13.6-14.8v29.6M2127.6 1255.7h27.2m-13.6-14.8v29.6M2129.2 1255.1h27.2m-13.6-14.8v29.6M2130.9 1254.4h27.2m-13.6-14.8v29.6M2132.5 1253.5h27.2m-13.6-14.8v29.6M2134.1 1252.4h27.2m-13.6-14.8v29.6M2135.4 1251.2h27.2m-13.6-14.8v29.6M2136.5 1250.2h27.2m-13.6-14.8v29.6M2137.6 1248.9h27.2m-13.6-14.8v29.6M2138.4 1247.8h27.2m-13.6-14.8v29.6M2139.2 1246.6h27.2m-13.6-14.8v29.6M2140 1245.3h27.2m-13.6-14.8v29.6M2140.8 1243.8h27.2m-13.6-14.8v29.6M2141.4 1242.7h27.2m-13.6-14.8v29.6M2141.9 1241.5h27.2m-13.6-14.8v29.6M2142.4 1240.2h27.2m-13.6-14.8v29.6M2143 1238.9h27.2m-13.6-14.8v29.6M2143.5 1237.5h27.2m-13.6-14.8v29.6M2144.1 1236h27.2m-13.6-14.8v29.6M2144.6 1234.4h27.2m-13.6-14.8v29.6M2145.1 1232.8h27.2m-13.6-14.8v29.6M2145.7 1231.1h27.2m-13.6-14.8v29.6M2146.2 1229.5h27.2m-13.6-14.8v29.6M2146.8 1227.8h27.2m-13.6-14.8v29.6M2147.3 1226.3h27.2m-13.6-14.8v29.6M2147.8 1224.8h27.2m-13.6-14.8v29.6M2148.4 1223.5h27.2m-13.6-14.8v29.6M2148.9 1222.4h27.2m-13.6-14.8v29.6M2149.7 1221.2h27.2m-13.6-14.8v29.6M2151.3 1220.8h27.2m-13.6-14.8v29.6M2153 1221.9h27.2m-13.6-14.8v29.6M2154 1223.3h27.2m-13.6-14.8v29.6M2154.8 1224.6h27.2m-13.6-14.8v29.6M2155.7 1226h27.2m-13.6-14.8v29.6M2156.2 1227h27.2m-13.6-14.8v29.6M2156.7 1228.1h27.2m-13.6-14.8v29.6M2157.3 1229.2h27.2m-13.6-14.8v29.6M2157.8 1230.3h27.2m-13.6-14.8v29.6M2158.3 1231.4h27.2m-13.6-14.8v29.6M2158.9 1232.5h27.2m-13.6-14.8v29.6M2159.4 1233.6h27.2m-13.6-14.8v29.6M2160 1234.7h27.2m-13.6-14.8v29.6M2160.5 1235.7h27.2m-13.6-14.8v29.6M2161 1236.8h27.2m-13.6-14.8v29.6M2161.6 1237.8h27.2m-13.6-14.8v29.6M2162.4 1239.2h27.2m-13.6-14.8v29.6M2163.2 1240.6h27.2m-13.6-14.8v29.6M2164 1241.9h27.2m-13.6-14.8v29.6M2164.8 1243.1h27.2m-13.6-14.8v29.6M2165.6 1244.2h27.2m-13.6-14.8v29.6M2166.4 1245.2h27.2m-13.6-14.8v29.6M2167.5 1246.5h27.2m-13.6-14.8v29.6M2168.6 1247.7h27.2m-13.6-14.8v29.6M2169.7 1248.8h27.2m-13.6-14.8v29.6M2171 1250h27.2m-13.6-14.8v29.6M2172.4 1251h27.2m-13.6-14.8v29.6M2174 1252.1h27.2m-13.6-14.8v29.6M2175.6 1253.1h27.2m-13.6-14.8v29.6M2177.2 1254h27.2m-13.6-14.8v29.6M2178.8 1254.7h27.2m-13.6-14.8v29.6M2180.4 1255.4h27.2m-13.6-14.8v29.6M2182.1 1255.9h27.2m-13.6-14.8v29.6M2183.7 1256.5h27.2m-13.6-14.8v29.6M2185.3 1256.9h27.2m-13.6-14.8v29.6M2186.9 1257.3h27.2m-13.6-14.8v29.6M2188.5 1257.7h27.2m-13.6-14.8v29.6M2190.1 1258h27.2m-13.6-14.8v29.6M2191.8 1258.3h27.2m-13.6-14.8v29.6M2193.4 1258.6h27.2m-13.6-14.8v29.6M2195 1258.9h27.2m-13.6-14.8v29.6M2196.6 1259.1h27.2m-13.6-14.8v29.6M2198 1259.3h27.2m-13.6-14.8v29.6"/>
</g>

<!-- separators and x axis -->
<g shape-rendering="crispEdges" fill="none" stroke="#000" stroke-linecap="round">
<line x1="309" y1="1297" x2="2217" y2="1297" stroke-width="6"/>
<line x1="309" y1="1419.5" x2="2216.5" y2="1419.5" stroke-width="5"/>
<line x1="304.8" y1="1558.5" x2="2214.7" y2="1558.5" stroke-width="7" stroke-linecap="butt"/>
<line x1="306" y1="1416.5" x2="653" y2="1416.5" stroke-width="1" stroke-linecap="butt"/>
<g stroke-width="6.4">
<path d="M307.8 1558.5V1573.5M600.8 1558.5V1573.5M893.7 1558.5V1573.5M1186.6 1558.5V1573.5M1479.5 1558.5V1573.5M1772.4 1558.5V1573.5M2065.3 1558.5V1573.5"/>
<path d="M454.3 1558.5V1587.5M747.2 1558.5V1587.5M1040.1 1558.5V1587.5M1333 1558.5V1587.5M1625.9 1558.5V1587.5M1918.8 1558.5V1587.5M2211.7 1558.5V1587.5"/>
</g>
</g>

<!-- reflections (teal) -->
<g shape-rendering="crispEdges" fill="none" stroke="#008080" stroke-width="7" stroke-linecap="round">
<path d="M586.5 1310.5V1377.5M801.6 1310.5V1377.5M1519.9 1310.5V1377.5M2004.6 1310.5V1377.5M2166.6 1310.5V1377.5"/>
</g>

<!-- residual (blue) -->
<g clip-path="url(#plot)" shape-rendering="crispEdges" fill="none">
<path id="res" stroke="#00f" stroke-width="3" stroke-linejoin="miter" d="M308 1504.3l.3-5.5 .3-5.6 .2 .3 .3 6.2 .3 1.4 .3-22.2 .2 7.5 .3 10.4 .3-2.1 .2 5.6 .3 3.3 .3-18.5 .2 7.2 .3 8.6 .3-2 .2-7.5 .3 .9 .3 7 .3-10.1 .2 5.7 .3 7 .3-17.1 .2 0 .3 14.5 .3-11.1 .2 3 .3-6.9 .3 6.9 .3 5.8 .2 .3 .3 .3 .3-12.8 .2 5.8 .3-1.6 .3 3.3 .2 7.4 .3-4.8 .3-2.8 .2 1.8 .3 4.6 .3-5.7 .3 3.4 .2-5.8 .3 2.5 .3-2.2 .2 6.6 .3-4.5 .3-8 .2 1.3 .3 4.1 .3 3 .3 9.7 .2-7.4 .3-6.4 .3 8.5 .2 1.6 .3-7 .3 5.8 .2-12.9 .3 17.2 .3-14.8 .2 5.9 .3-10.2 .3 11.3 .3 1.3 .2-18 .3 13.9 .3-3.2 .2 5.9 .3-11.8 .3 20.1 .2-12.1 .3-.9 .3-3.6 .2 11.1 .3 3.4 .3-16.8 .3 4.5 .2 8.3 .3-2.6 .3-7.5 .2 6 .3 4.3 .3-11 .2 8.3 .3 3.1 .3-5.8 .3-4.3 .2 7.1 .3-6.1 .3 16.6 .2-19.9 .3 7.7 .3 6.2 .2-10.8 .3-4.5 .3 .6 .2 1.5 .3 1.7 .3 3.6 .3 .1 .2 3.4 .3-1.4 .3-12.1 .2 15.9 .3-10.7 .3-5.4 .2 11.7 .3-3.2 .3-2.7 .2 .6 .3 8.2 .3-5.4 .3-.9 .2 2.2 .3-8.9 .3 8.1 .2-2 .3 6.1 .3-4 .2 10.3 .3-7.6 .3-2.4 .3-4.7 .2-2.8 .3 .9 .3 15.8 .2-7.2 .3-5.3 .3 9.5 .2-19.3 .3 6.7 .3 3.9 .2-13.8 .3 24.4 .3-.9 .3-11.5 .2 3.2 .3-1.4 .3 8.6 .2-2.4 .3-4.9 .3 13.9 .2-19.7 .3 3.2 .3 5.2 .2-.8 .3 1.8 .3-4.3 .3 6.5 .2-.7 .3-.1 .3-4 .2 4.8 .3-9.8 .3 12.6 .2-6.7 .3 1.2 .3-12.1 .3 .2 .2 .8 .3 15.5 .3-10.4 .2-3 .3 6.1 .3-15.5 .2 29.4 .3-5.5 .3-9.9 .2-.9 .3 4.5 .3-.8 .3-.6 .2-2.4 .3 4.1 .3-2.3 .2-3.6 .3-1.1 .3 9.5 .2-5.8 .3-.9 .3-4.1 .3 1.8 .2 1.6 .3-.4 .3 3.3 .2-1 .3-1.5 .3-.9 .2 .4 .3 7 .3-6.5 .2 11 .3-4.2 .3-12.2 .3-.2 .2 18.6 .3-18.5 .3-7.2 .2 19.1 .3 5.9 .3-13.6 .2 3.3 .3-4.2 .3 8.1 .2 .5 .3-21.2 .3 17.8 .3-8.6 .2 12.1 .3-13.6 .3 8.8 .2-2.8 .3-3 .3-3.9 .2 .1 .3 5.1 .3-1 .3 14.3 .2-11.6 .3 4.6 .3-9.5 .2 .2 .3 1.2 .3 6.2 .2-4.7 .3-2.1 .3 7 .2-5.9 .3 .2 .3-4.1 .3 4.4 .2-1.2 .3-1.2 .3 7.4 .2-3.9 .3 3.5 .3 5.7 .2-1.3 .3-16.2 .3 10.9 .2-5.1 .3 3.6 .3 6.4 .3-3.8 .2-2.7 .3-.2 .3 1.1 .2-8.4 .3 7.5 .3 7.3 .2-10.9 .3 4.4 .3 6.6 .3 4.5 .2-23.2 .3 9.9 .3-3.4 .2 1.5 .3 11.3 .3-7.2 .2-.6 .3-4.9 .3 12.4 .2-10.8 .3 2.2 .3 3.7 .3-4.4 .2 3.1 .3-2.1 .3-.2 .2-6 .3 5.8 .3 15.2 .2-16.2 .3-.5 .3 3.8 .3-.6 .2-5.9 .3 1.8 .3-.8 .2 4.1 .3-8.3 .3 10.6 .2-4.3 .3 2.8 .3-1.4 .2 1.1 .3-7.8 .3 12.2 .3-3.2 .2-7.5 .3 1.1 .3-8.4 .2 11.6 .3 .1 .3 3.8 .2-17 .3 0 .3 20 .2-.4 .3-4.1 .3-9.6 .3 7.7 .2 11.4 .3-9.5 .3-3 .2-1.3 .3-6 .3 10.6 .2 12.4 .3-17.8 .3 2.2 .3 5 .2-11.7 .3 12.1 .3-3.6 .2-7.2 .3 7.4 .3 9.8 .2-12.9 .3-5.7 .3 12.8 .2-9.6 .3 11.3 .3-7.9 .3 9.1 .2-8.2 .3-3.4 .3 5.8 .2-2.8 .3-5.3 .3 5.7 .2-6.2 .3-2.1 .3 9.9 .2-.6 .3 8.4 .3-14.7 .3 6 .2-5.7 .3 10.5 .3-.4 .2-2.6 .3 9.1 .3-3.2 .2-10.7 .3 6.5 .3-5.5 .3 2.3 .2-6.4 .3 5.7 .3 9.6 .2-13.6 .3-5 .3 6.9 .2 1.8 .3 .9 .3-4.3 .2 .9 .3 12.7 .3-6.5 .3-3.2 .2-2.4 .3-8.2 .3 21.5 .2-14.8 .3 1.1 .3 12.3 .2-5.4 .3-1.6 .3-11.5 .2 10.6 .3-5.9 .3 16.1 .3-11.5 .2 4 .3-4.4 .3 7.3 .2-6.2 .3-8.6 .3-5.6 .2 13.5 .3-5.6 .3 16.2 .3-5.4 .2-5.1 .3 5.3 .3-10 .2-10.8 .3 10.8 .3 5.5 .2-12.4 .3 9.9 .3 4.5 .2-10.6 .3 7.5 .3 3 .3-5 .2 13.1 .3-17.3 .3 6.9 .2-2.5 .3 2.8 .3-4.1 .2 6.8 .3-.5 .3-12.2 .3 3.1 .2-1.1 .3 7.1 .3 .7 .2 4.1 .3-.3 .3-2.5 .2-1.6 .3 .7 .3 4.8 .2-14.5 .3 4.1 .3-4.7 .3 22.3 .2-12.1 .3-5.5 .3-7.1 .2 3.5 .3 4.1 .3 10.4 .2 .5 .3-1.3 .3-7.9 .2-4.8 .3 15.5 .3-6.3 .3-3.7 .2-1.8 .3 6.8 .3-9.5 .2 .5 .3 1.8 .3 10.5 .2-8.2 .3 4 .3 5 .3-12.3 .2-2 .3-3.8 .3 .5 .2 14 .3-3.1 .3 6.3 .2-12.3 .3-5.2 .3 2.9 .2 10.3 .3-8.5 .3-.6 .3-1.7 .2 8 .3 2.4 .3-4.5 .2-7.3 .3 1.1 .3 13.1 .2-5.2 .3-4.1 .3-4.8 .2 8.1 .3 8.1 .3-13.3 .3 2.3 .2 1.9 .3-7.1 .3 13.8 .2-.5 .3-19.1 .3 15.5 .2-15.5 .3 14.2 .3 5.1 .3-4.1 .2-4.1 .3 9.1 .3-8.7 .2-6.1 .3 7.3 .3-4 .2 1.5 .3 16.8 .3-14.9 .2-9.2 .3 10.8 .3-7.6 .3 17.9 .2-21.1 .3 11.9 .3 1.3 .2-.7 .3-2.6 .3-9.5 .2 10.1 .3-.3 .3 8.8 .2-2.2 .3-4.9 .3 3.8 .3-15.2 .2 6.2 .3 10.6 .3 .2 .2-2.9 .3-8.1 .3 2.4 .2-2.5 .3-8.9 .3 12.8 .3 .1 .2 .2 .3-3.2 .3-.7 .2-2.2 .3 .8 .3 .2 .2-3.2 .3 11.6 .3 3.1 .2-2.6 .3-5.2 .3-7.8 .3 4.8 .2 2.4 .3-1.7 .3 .8 .2-1.6 .3 4.8 .3 1.8 .2-7.2 .3 14.3 .3-5.6 .3-1.8 .2 .4 .3-9.5 .3 8.3 .2-3.7 .3-.6 .3 4.1 .2-2.8 .3 8.7 .3 .5 .2-.8 .3-10.4 .3 9.4 .3-6.8 .2 4 .3-6.4 .3 11.8 .2-4.3 .3-8.3 .3 9.6 .2-9.4 .3 0 .3 6.9 .2-10.1 .3 2.2 .3 3.7 .3-.3 .2 10 .3-10 .3 6.5 .2-11.8 .3 3.9 .3 8.2 .2-14.7 .3 10.8 .3-6.9 .3-3.3 .2-.7 .3 9.1 .3-10.3 .2 6.9 .3 10.2 .3-2.5 .2-3.9 .3-2.6 .3 .8 .2 5.6 .3-10.1 .3 16.4 .3-9.3 .2-4.9 .3-2.6 .3 10.3 .2-4.4 .3-3.3 .3-6.5 .2 18.2 .3-2.1 .3-4.9 .2-8.9 .3 9.8 .3 .8 .3-6.1 .2 5.4 .3-.9 .3 2.3 .2-.4 .3-12.8 .3 4.9 .2-2.9 .3 11.1 .3-10.6 .3 1.5 .2 3.3 .3-3.8 .3 1.7 .2 12.5 .3-14 .3 6.6 .2-3.5 .3 11.3 .3-1.2 .2-2.3 .3-11.4 .3 3 .3-.3 .2-6.8 .3 13.8 .3-3.5 .2 3.3 .3-1.4 .3-5.4 .2-5 .3 5 .3 2.2 .3-5.8 .2 .1 .3 16.8 .3-2.6 .2-7.8 .3 12.8 .3-7.6 .2-7.5 .3 .6 .3 1.7 .2-.7 .3 10.8 .3-11.9 .3 1.8 .2-6 .3 9.1 .3-2.4 .2 4.4 .3-14.9 .3 3.2 .2 4 .3-5.4 .3-4.5 .2 5.2 .3 12.8 .3-5.7 .3 9 .2-16.4 .3 11.6 .3-3.8 .2-2.8 .3-6.1 .3 5.4 .2 4.5 .3 1.3 .3 4.6 .3-12.4 .2 8.3 .3 .3 .3-2.5 .2-5.9 .3 7 .3-1.1 .2-5.5 .3-2.7 .3 9.1 .2-4.1 .3 7.2 .3-6.7 .3-3.8 .2 1.3 .3 10.8 .3-11.6 .2-5.8 .3 7.1 .3 3.1 .2 2.4 .3 1 .3-7.7 .2 5.1 .3 6.2 .3-3.9 .3-10 .2-4.8 .3 7.9 .3-1.7 .2 12.3 .3-2.1 .3-5.7 .2-9.5 .3 6.7 .3 2.6 .3 2.6 .2 6 .3-10.5 .3 1.3 .2-.7 .3 9.9 .3-6 .2-2.3 .3-3.7 .3 2 .2 8.3 .3 .3 .3-3.9 .3 2.5 .2-16.5 .3 15.8 .3-4.1 .2-4.9 .3 2.9 .3 7.9 .2-4.6 .3 .6 .3 5.3 .2-9.6 .3 0 .3-4.3 .3-7.6 .2 23.4 .3-8.1 .3 .3 .2 .6 .3-1.4 .3 3.9 .2-.7 .3-3.3 .3 .1 .3-1.1 .2-1.6 .3 0 .3-1.8 .2 2.6 .3 11.1 .3-7.7 .2-3.8 .3 6.8 .3-1.5 .2-2.8 .3 .8 .3 10.4 .3 2.8 .2-13.4 .3-1.8 .3 4.5 .2-8.9 .3 7.1 .3 6.8 .2 1.2 .3-11.7 .3 8.9 .3-6.1 .2-1.3 .3-10.2 .3 9.6 .2 3.1 .3-4 .3 2.6 .2 9.2 .3 1.4 .3-15.3 .2 .6 .3-.5 .3 3.6 .3-3.6 .2-4.2 .3-5.1 .3 8.9 .2 10.1 .3 2.7 .3 7.4 .2-12.9 .3-1.4 .3 3.7 .2-10.6 .3 11 .3 2.8 .3-5.5 .2-.5 .3 5.1 .3-3.6 .2-3.1 .3 6.3 .3 2.5 .2-6.6 .3-.6 .3-2.7 .3 1.7 .2 5.1 .3-11.1 .3 7.8 .2-3.9 .3 5.7 .3 9.7 .2-8.4 .3 3.7 .3-6.6 .2-8.3 .3 12.8 .3-10.8 .3 13.7 .2-11.4 .3-1.3 .3 6.8 .2-4.3 .3 5.5 .3 3.6 .2 3.9 .3-9.8 .3-1.3 .2 5.8 .3-7.7 .3 6.2 .3-1.2 .2 5 .3 1.8 .3-10.4 .2 1.4 .3 1.8 .3 14.3 .2-16.9 .3 10 .3-2.2 .3 6.2 .2 1 .3-8.4 .3-2.3 .2 12.1 .3-18.3 .3 14 .2-7.8 .3 7.1 .3-7.4 .2-3.5 .3 19.1 .3-18.8 .3 17.2 .2-13.4 .3 6.5 .3 1.4 .2-7.9 .3 3.9 .3-8 .2 11.3 .3-4.7 .3-7.4 .2 4.5 .3 9.1 .3-24.6 .3 23.2 .2-15.2 .3 11.6 .3-5 .2 7.2 .3-6 .3 4.1 .2-2.2 .3-10.5 .3 5.1 .3 8.1 .2-11.3 .3-3.5 .3 21.1 .2-4.8 .3-3.6 .3 5.2 .2-5.5 .3-4.9 .3-5.6 .2 6 .3 .6 .3 .2 .3 9.5 .2-5.9 .3-.1 .3 2.6 .2 1.1 .3 1.6 .3-5.1 .2 1.1 .3 7.2 .3-10.1 .3 5.4 .2-8.6 .3 13.1 .3-13.9 .2 18.1 .3-18.2 .3-3 .2 18.1 .3-7.9 .3 7.2 .2-8.9 .3-12.4 .3 20.9 .3 1.8 .2-6.7 .3-1.4 .3-8.7 .2-2.9 .3 1.5 .3-3.2 .2 17 .3-4.8 .3 2.1 .2-6.7 .3 3 .3-4.4 .3 19.5 .2-17.7 .3-4.3 .3 14.2 .2-11.6 .3-4.4 .3 14.6 .2-13.1 .3 12.7 .3-2 .3 .3 .2 10.9 .3-12.1 .3 5.5 .2-8 .3 11.2 .3-9.7 .2-11 .3-4.2 .3 12.9 .2 1.5 .3 12 .3-17 .3 6.3 .2-8.2 .3 25.9 .3-22.8 .2 2.1 .3-10 .3 24 .2-23.9 .3 11.2 .3 1.6 .2-3.6 .3 2.8 .3 9.6 .3 3.5 .2-3.2 .3-3.5 .3 7.4 .2-13.7 .3-5.3 .3 17 .2-25 .3-4.4 .3 23 .3 13.4 .2-27.6 .3 7.9 .3-15 .2 14.3 .3-10.8 .3 18.4 .2-13.7 .3-3.2 .3 30.1 .2-31.3 .3-8.2 .3 9.5 .3 12.6 .2 16.9 .3-26.8 .3-23.2 .2 9.1 .3 0 .3 29 .2-20.7 .3-2.3 .3-27.4 .3 38.8 .2-27 .3 15.6 .3-8.6 .2-18.4 .3-1 .3 14.8 .2 11.2 .3 14.4 .3-18.4 .2-7.9 .3-2.1 .3 16.8 .3-2.2 .2 3.8 .3 9.8 .3 6.3 .2-4 .3 11.8 .3 3.7 .2-32.2 .3 5.6 .3 4 .2-4.7 .3 23.3 .3 4.8 .3-17.8 .2 17.7 .3 14.1 .3-33.9 .2 1.5 .3 7.2 .3-3.8 .2-.4 .3 1.5 .3 35.4 .3-16.2 .2 8.5 .3-7.6 .3-23.4 .2-6.8 .3-7.5 .3-8.7 .2 6.4 .3 30.5 .3-2.5 .2-6.1 .3 .8 .3-4.7 .3-14.4 .2 32 .3-16.2 .3 2.6 .2-27.3 .3-.3 .3 33.1 .2-5.4 .3 5 .3-19.9 .2-22.5 .3 21.4 .3 17.3 .3-12.1 .2-9.5 .3-31 .3 32.1 .2 3.3 .3-16.9 .3 2.7 .2-11.5 .3 9.4 .3 .6 .3-2.6 .2-1.2 .3-7.3 .3 21.2 .2-13.2 .3 37.7 .3-39.8 .2 7.6 .3 13.9 .3-1 .2 7.2 .3-25.4 .3 12.8 .3 32.9 .2-5.8 .3-4.9 .3 4.5 .2 5.5 .3-3.1 .3-5.5 .2-11.6 .3 33.7 .3-38 .2 4.5 .3-8.8 .3 11.9 .3-12.8 .2 9.5 .3 13.3 .3-6.5 .2-1.5 .3-4 .3 12 .2-4.1 .3-1.8 .3-2.6 .3 10.5 .2-19.6 .3 23.7 .3-12.7 .2-8 .3 21.1 .3-8.6 .2-.6 .3-1.4 .3-9.9 .2 17 .3-12.8 .3-13.9 .3 12.7 .2 1.8 .3 12.5 .3-14.5 .2-1 .3 12.3 .3 8.8 .2-8.4 .3-1.6 .3-1.9 .3-5.3 .2 3.1 .3 14.4 .3-8.2 .2-4.6 .3-8.8 .3 6.5 .2 2.4 .3 6.4 .3-3.5 .2-4.1 .3 1.4 .3 6 .3-7.3 .2-5.7 .3-9.4 .3 20.1 .2-2 .3-.8 .3-7.7 .2 12.6 .3-18.9 .3 12.9 .2-2.4 .3 3.7 .3-4.2 .3 2.6 .2-6 .3 4.7 .3-6.9 .2 5.7 .3-2.3 .3 7.2 .2 3 .3-18.7 .3 6.6 .3-6.1 .2 4.7 .3 .8 .3 15.8 .2-10.6 .3-5.2 .3-4.7 .2 21 .3-8.4 .3-4.2 .2 1.1 .3 3.1 .3 1.5 .3 8 .2-19.8 .3 13.6 .3-.8 .2-19.1 .3 9.6 .3 9.8 .2-3.4 .3-6.7 .3 13.7 .2-4.5 .3-10.9 .3-2.1 .3 12.9 .2-5.9 .3 1.8 .3 1.8 .2 2.7 .3-.9 .3 5.4 .2-17.5 .3 9.5 .3-2.4 .3 1 .2 0 .3 .7 .3 3.5 .2-5.1 .3-11.7 .3 4.2 .2 5.6 .3 9.9 .3-18.5 .2 17.3 .3-8.3 .3 1.4 .3-6.2 .2 15.5 .3-1.6 .3-1.5 .2-6.2 .3-13.7 .3 13.6 .2 5.3 .3-3.6 .3 2.1 .3-1.9 .2-8 .3 5.5 .3 .7 .2-6.8 .3 3.5 .3 4.4 .2-1.9 .3-7.3 .3 6.7 .2 7.3 .3-14.4 .3 4.8 .3 8.7 .2-7.4 .3 1.6 .3 3.3 .2 1.2 .3-4.1 .3-1.1 .2 3.8 .3 3.6 .3-8.5 .2-6.8 .3 7.2 .3 .6 .3 2.5 .2-13.9 .3 6.5 .3-2.2 .2-5.7 .3 8.5 .3 5 .2-5.1 .3 8.5 .3-12 .3 17.1 .2-8.4 .3-2.7 .3-4.6 .2 3.5 .3 4.8 .3-5.7 .2 11.1 .3-9.2 .3-.2 .2 10.4 .3-20 .3 9.1 .3-.5 .2 .4 .3 9.9 .3-6 .2-5.6 .3 1.7 .3 4.4 .2 2.6 .3-13.2 .3 9.9 .2-8.8 .3-.6 .3 4 .3 3.8 .2 4.1 .3 1 .3-5.3 .2-.3 .3 12.4 .3-15.2 .2 3.1 .3-2.1 .3 .3 .3-8.8 .2 8.2 .3-.8 .3-10.6 .2 3.9 .3 4.4 .3 1.9 .2 2.4 .3 .3 .3-5.2 .2 8 .3 4.5 .3-3.3 .3 1.9 .2 5.7 .3-9.6 .3-1.7 .2 1.4 .3-10.1 .3 7.1 .2-7.1 .3 10.5 .3-.7 .2 10.9 .3-5.9 .3-9.5 .3 4.4 .2 3 .3-4.9 .3 3.8 .2-.1 .3-3.9 .3-5.3 .2 7.2 .3 2.5 .3 3.2 .3-9.3 .2-3.4 .3 .5 .3 6 .2 4.9 .3-.1 .3-4 .2-5.7 .3 3.8 .3-8.5 .2 6.4 .3 14.1 .3-19.8 .3 5.6 .2-1.3 .3-2.8 .3 .1 .2-.4 .3 3.6 .3 3.8 .2-1.6 .3 .5 .3-5 .3 5.4 .2-8.5 .3 6.6 .3-2.8 .2 .1 .3-1.4 .3-2 .2 2.4 .3-1.7 .3 9.5 .2-4.7 .3 .7 .3-8.5 .3 13.3 .2-6.6 .3 8.6 .3-5.4 .2 2.5 .3 .4 .3-5.3 .2 .2 .3 9.2 .3-7.5 .2 7 .3-7.6 .3 .8 .3-2.4 .2-2.7 .3-4 .3 8.7 .2 3 .3-13.4 .3 12.3 .2-.7 .3 .5 .3 2.3 .3 4.9 .2-8.3 .3-4.9 .3 13.4 .2-3 .3-3.2 .3-5.7 .2-1.3 .3-1.1 .3 11.4 .2-5.2 .3-7.4 .3 12.6 .3-12.6 .2 1.4 .3 8.7 .3-1 .2-.1 .3-1.6 .3-2.7 .2-.5 .3-3.1 .3-1.1 .2 7.5 .3-3 .3-11 .3 11.9 .2 2.1 .3-8.7 .3 1.8 .2 3 .3 7.2 .3-8.2 .2 2.3 .3 .5 .3-2.1 .3 12.8 .2-9.1 .3-8.5 .3 13.9 .2-10.6 .3 2.3 .3 3.8 .2-2.4 .3 5.6 .3-8.7 .2-3.2 .3 1.7 .3-3.8 .3 4.6 .2 .9 .3 7.4 .3 .4 .2-5.7 .3 1.2 .3-.6 .2 4.4 .3-10.5 .3-.1 .2 7.5 .3-8.1 .3 .2 .3 1.1 .2-2.8 .3 3.8 .3-3.3 .2 3.6 .3 13.1 .3-10 .2 1.7 .3 2.5 .3-6.7 .3 4.1 .2 5.2 .3 1.1 .3-10.4 .2 4.5 .3-2.4 .3-3.2 .2 4.9 .3 1 .3 7.9 .2-12.4 .3 .8 .3 1.5 .3 3.7 .2-7.6 .3 4.1 .3-2.1 .2-1.8 .3 12.9 .3-8.5 .2 1 .3-1 .3 10 .3-9.4 .2-7.3 .3 9.1 .3 5.3 .2-7.5 .3 3.6 .3 1.1 .2-12.3 .3 9 .3-1.4 .2 9.2 .3-20.7 .3 22.9 .3-10.2 .2-.6 .3-12.9 .3 2.4 .2 4.3 .3 1.1 .3 12 .2-11.5 .3 5.5 .3-1.5 .2-6.4 .3-1.7 .3 10.5 .3-1.5 .2-5.7 .3 8.6 .3-5.9 .2 5.7 .3-4.7 .3 3.6 .2-5.9 .3 8.8 .3-6.9 .3 3.7 .2-2.9 .3-.3 .3 7.1 .2-9.2 .3 4.9 .3-3.8 .2 6.6 .3 3.4 .3-9.4 .2 8.6 .3-11.8 .3 .4 .3 5.2 .2 1.4 .3 .9 .3-5.3 .2 .2 .3 10.7 .3-6.5 .2-.3 .3-7.1 .3-2.8 .2 .1 .3 3.9 .3 2.2 .3 1.3 .2-.1 .3 2.8 .3 7.3 .2-7.8 .3-8.6 .3 16.7 .2-9.6 .3 13.4 .3-9.7 .3-4.2 .2-2.3 .3 3.3 .3 10.7 .2-13.7 .3 4.5 .3-.3 .2 3.8 .3 6.5 .3-10.1 .2-6.3 .3 .2 .3 2.4 .3 8.9 .2-15.3 .3 10.1 .3-7.5 .2 3.2 .3 6.8 .3 4.2 .2-8.4 .3-1.6 .3 .4 .3 2.2 .2 2.1 .3-8.4 .3 9 .2 6.9 .3-13.4 .3-1.3 .2 8 .3-1.9 .3-6.6 .2 7.8 .3-4.1 .3 6.6 .3-5.1 .2 3.6 .3-1 .3 3.4 .2-.1 .3-14.2 .3 11.3 .2 3.6 .3 7.2 .3-12.4 .2 7.9 .3-20.1 .3 17.6 .3-11.4 .2 11 .3-5.7 .3 5.7 .2-4.8 .3-2.4 .3 15.5 .2-15 .3-8.4 .3 9.1 .3 .1 .2-3.4 .3-1.7 .3 7.6 .2-4.2 .3 7.2 .3-8.8 .2 11.5 .3-8.8 .3 7.7 .2-1.1 .3-2.7 .3-3.3 .3-5.6 .2 5.1 .3 2.5 .3 .6 .2 .4 .3-4.3 .3-4.1 .2 2.8 .3 7.1 .3 .9 .2-4.1 .3 8.7 .3-8 .3 9 .2-3.9 .3-1.3 .3-5.2 .2-1.8 .3 3.6 .3 .2 .2-9.3 .3 6.9 .3-4.8 .3 3.1 .2 .8 .3 5 .3-4.1 .2 7 .3-3.1 .3 6.6 .2-15.1 .3 11.2 .3-12.8 .2 6.9 .3-2.2 .3 8.4 .3-1.1 .2-11.2 .3-2.5 .3 7.9 .2 .9 .3-.6 .3-1.7 .2 17.3 .3-12.1 .3-1.1 .2 9.1 .3-6.2 .3 1.7 .3-2.7 .2-4.8 .3-10.3 .3 22 .2-3.8 .3-4.7 .3 9.5 .2-6.7 .3 .8 .3 .2 .3 8.6 .2-14.8 .3 5.4 .3 2.3 .2-6.8 .3 7.5 .3 4.4 .2-16 .3 3.9 .3 10.7 .2-14.3 .3-.9 .3 7.6 .3 .5 .2 4.6 .3 .1 .3-3.2 .2-11.1 .3 4.6 .3 .1 .2 11.1 .3-11.8 .3 11.2 .3-4.7 .2-1 .3-6.6 .3 11.2 .2 3.8 .3-19.7 .3 7.7 .2 8.1 .3 5.2 .3-3.1 .2-12 .3 8.5 .3 0 .3-3.9 .2 7.2 .3 2.5 .3-5.3 .2-.1 .3 5.3 .3 1 .2-18.7 .3 15.7 .3-3.1 .2-9.8 .3 10.9 .3 .6 .3-14.3 .2 15.2 .3-2.5 .3-1.3 .2-2.7 .3 9.6 .3-9.1 .2 4.7 .3-3 .3 5 .3-8.7 .2 9 .3 2.9 .3-7.4 .2-7.1 .3 9.3 .3 4.9 .2-6.8 .3-9.2 .3 20.5 .2-12.4 .3 4 .3-.5 .3-5.4 .2 13.1 .3-3.8 .3-6.6 .2 8.5 .3-12.3 .3 16.9 .2-13.5 .3 9 .3-16.4 .2 7.9 .3 10.2 .3-1.5 .3 7.9 .2-4.1 .3-17.5 .3 9.2 .2-4.6 .3 6.4 .3 1.8 .2-10.9 .3 9.2 .3 3 .3-2.7 .2 1.5 .3-10.6 .3 8.2 .2 5.4 .3-4.8 .3 3.4 .2 15.5 .3-7.9 .3-8.7 .2-15.8 .3 7.5 .3-4.9 .3 6.3 .2 5.1 .3-7.5 .3 10 .2 5.3 .3-4.9 .3-9.6 .2 13.3 .3-15.7 .3 10.3 .2-16.6 .3 16.1 .3-6.2 .3 9.8 .2-10.4 .3 5.5 .3-24.3 .2 21.2 .3 3.5 .3-20.1 .2 18.2 .3 4.4 .3 4.7 .3-10.3 .2-29 .3-6.8 .3-3.8 .2 29.2 .3-30.5 .3-11 .2 11.7 .3 13.8 .3-25.6 .2 45.6 .3-16.6 .3 14 .3 2.8 .2-24.2 .3 11.1 .3-.1 .2-12.4 .3 32.8 .3-.8 .2-23.6 .3-6.2 .3-8.7 .3 26.3 .2-10.6 .3-18.2 .3 40.7 .2-.1 .3-8.1 .3 9.4 .2-20.9 .3-19 .3 24.6 .2-15.4 .3 4.5 .3-12.1 .3 10.4 .2 11.6 .3-5.4 .3 3.2 .2 1.8 .3 12.3 .3-5 .2 7 .3-38.2 .3 12 .2 29.2 .3-24.5 .3-1.3 .3 .4 .2 8.9 .3 12.3 .3-27.4 .2 29.2 .3-19.1 .3 21.8 .2-27.1 .3 21.9 .3 4.9 .3-8.9 .2 9.2 .3 5.5 .3-16.4 .2-2.5 .3-1.2 .3 11 .2-8.3 .3-6.4 .3 17.1 .2-17.8 .3 6.1 .3 8.4 .3 10.4 .2-15.2 .3-9.3 .3 14.3 .2-4.3 .3-3.2 .3 1.4 .2-2.1 .3 11.7 .3-9.8 .2 7.1 .3-12 .3 10.8 .3 1.4 .2-.4 .3-7.6 .3 6.5 .2-.8 .3-11.2 .3 12.8 .2-7.6 .3-7.6 .3-4.9 .3 7.5 .2 11 .3-7.6 .3 2.6 .2-.7 .3 7.2 .3-15.2 .2 6.6 .3 9.6 .3-9.5 .2-4.7 .3-.7 .3 2 .3 2.3 .2 .2 .3-.7 .3-3.6 .2 7.9 .3 3.9 .3-8.4 .2 3.8 .3-9.9 .3 17.5 .3-21.2 .2 9.6 .3 2.7 .3 7.2 .2-9.8 .3 14 .3-8.4 .2-4 .3 4.1 .3-2.3 .2-.2 .3 2.8 .3-5 .3-.6 .2 3.8 .3 13.2 .3-11.1 .2-.4 .3 0 .3 9.2 .2-7.8 .3-3.8 .3-3.2 .2 12.4 .3-8.6 .3 3.7 .3-8 .2 2.4 .3 9.8 .3-6.1 .2 2.8 .3-12.4 .3 12.9 .2-8.5 .3 1.5 .3 0 .3 3.8 .2-4.6 .3-4 .3 11.8 .2-7.6 .3-5.4 .3 20.9 .2-15.2 .3-8.2 .3 7.4 .2 3.6 .3 0 .3-3.2 .3 8.1 .2 .8 .3-14.5 .3 9.7 .2-2.3 .3 1.8 .3 1.5 .2-7.9 .3 1.7 .3 7.8 .2-4.3 .3-4.3 .3 15.7 .3-14.9 .2-2.9 .3 7.3 .3-10.1 .2 1.5 .3 13.6 .3-5.9 .2-3.3 .3 10.8 .3-5.3 .3 4.2 .2-9 .3-1.4 .3 2.1 .2-3.2 .3-1 .3 5.3 .2-.5 .3-4.5 .3 2.3 .2 6.2 .3-3.1 .3 3.5 .3-7.9 .2-1.5 .3 8.7 .3-5.6 .2-1 .3 4.1 .3 3.2 .2-8 .3 8.9 .3 3.6 .2-7.8 .3 7.1 .3-15.6 .3 4.1 .2 3.7 .3 .9 .3-2.8 .2 12.8 .3-6.2 .3-11.7 .2 13.3 .3-2.8 .3-.8 .3-4.9 .2-5.2 .3 14.8 .3-9 .2 11.1 .3-.5 .3-3.7 .2-6.9 .3 12 .3-7 .2-10.4 .3 9.3 .3 3.5 .3-10 .2 5.8 .3-6.7 .3 9.4 .2-8.5 .3 1.3 .3 5.3 .2-5 .3 3.5 .3-2.6 .3 6.8 .2-1.2 .3-11 .3 4 .2-3.4 .3 .6 .3 3.8 .2 1.6 .3 5 .3-9.4 .2 6.6 .3-1 .3-4.6 .3 3.8 .2 .3 .3-2.9 .3 .5 .2 1.3 .3 2.7 .3 2.1 .2 1.7 .3-12.8 .3 4.8 .2 5.9 .3-1.9 .3-2.5 .3 9.1 .2-11.3 .3 13.4 .3-1.7 .2-7.4 .3 .1 .3-.7 .2-4.9 .3 5.9 .3-9.1 .3-1.3 .2 3.1 .3 14.5 .3-1.6 .2-6.6 .3-2.6 .3 7.8 .2 .4 .3-10 .3 2.4 .2-4.7 .3 11.3 .3-.7 .3-9.5 .2-1.4 .3 17.2 .3-10 .2-8.7 .3 3.4 .3-2.9 .2 10.2 .3-14.2 .3 4.5 .2 12 .3-7.7 .3-4 .3-5 .2 7.3 .3 3.7 .3 6 .2-7.5 .3-5 .3 7.2 .2-2 .3-6.1 .3 8.5 .3 4.7 .2-6.4 .3-2.8 .3-6.6 .2 5.3 .3 7.9 .3-11.4 .2 8.7 .3-6.9 .3-.9 .2-3.2 .3 10.9 .3 3.1 .3-7.6 .2-1.2 .3-.4 .3 3.7 .2 4.2 .3-1.9 .3 2.3 .2-4.1 .3 .2 .3-6.3 .2 3 .3 7 .3-9.2 .3 4.9 .2-1.8 .3 13.4 .3-14.4 .2 3.7 .3-.7 .3 .8 .2-1.2 .3 .4 .3 3.6 .3-2.7 .2 4.4 .3-3.8 .3-10.3 .2 13 .3-3.8 .3-.6 .2-2.3 .3 3.8 .3-6.7 .2 11.1 .3-12.3 .3 12.4 .3-4.2 .2 1.1 .3-4.3 .3-1.9 .2 4.4 .3 2.9 .3-8.4 .2 8.2 .3-6.1 .3-1.1 .3 2 .2 6.8 .3-7.7 .3 2 .2 .4 .3 1.1 .3 1.8 .2-.5 .3 3.8 .3-5.6 .2 2 .3-3.8 .3-4.6 .3 7.2 .2-.1 .3-.4 .3-4.7 .2 .2 .3 3.3 .3-3.1 .2 10.4 .3-5.1 .3-7 .2 1.4 .3-2.7 .3 4.7 .3 8.6 .2-2.6 .3-7.9 .3 1.7 .2 2.2 .3-2.2 .3-6.7 .2 4.5 .3 9.3 .3-12.4 .3 7.2 .2-7.7 .3 8.2 .3-2.1 .2 5.1 .3-7.3 .3 10.8 .2-4.7 .3 4.4 .3-7.4 .2 .1 .3-2.3 .3-7.3 .3 9.7 .2-5.3 .3 3.9 .3-8.9 .2 2.5 .3 10.5 .3-5.1 .2-3 .3 5.9 .3-2.5 .2 4.4 .3-.3 .3 2.9 .3-5.5 .2 4.7 .3-2.3 .3 2.8 .2-5.7 .3 2.3 .3-11.7 .2 10.6 .3-6.1 .3 4.2 .3 9.1 .2-20.5 .3 11.8 .3 1.2 .2-7.4 .3 9.1 .3 4.8 .2-14.7 .3 8.3 .3-.7 .2 4.6 .3-3.1 .3-6.7 .3 1.6 .2 7.1 .3-2 .3-12.5 .2 4.5 .3 10.4 .3-7.3 .2-1 .3 .3 .3 .5 .3 2.3 .2 4.5 .3-8.7 .3 8.7 .2-3.1 .3 1.1 .3-9.9 .2 7.5 .3-3.1 .3-1.1 .2 4.5 .3-.3 .3-2.9 .3 .2 .2 .1 .3 7.8 .3-2.3 .2-5.2 .3 12.1 .3-8 .2 1.6 .3-3.6 .3-2 .2-7.7 .3 11.8 .3 1.6 .3-5.2 .2 5.3 .3-10 .3 10.4 .2-9.6 .3 2.3 .3 12.5 .2-8.7 .3-4.1 .3 7 .3-2 .2 .5 .3 1.5 .3-4 .2-2.8 .3 .7 .3-4 .2 7 .3-10.7 .3 12.3 .2-3.2 .3 4.7 .3 4 .3-7.7 .2 .2 .3-7.8 .3 1.4 .2 6.2 .3 9 .3-9.2 .2 2.9 .3-5.7 .3 10.5 .2-7.8 .3 0 .3 1.3 .3 4.6 .2-6.4 .3-.3 .3-4.2 .2-.5 .3 4.6 .3 6.5 .2-4.8 .3-.7 .3 2.6 .3-1.9 .2 1.6 .3-1 .3 3 .2-5.5 .3-3.3 .3 3.8 .2 1.9 .3-1.7 .3-6.8 .2 10 .3-6.8 .3 9.3 .3-8.9 .2 5.6 .3 9.1 .3-17.7 .2 6.3 .3-1.5 .3 5.5 .2-1 .3 2.7 .3 0 .2 1.6 .3-5.5 .3-1.2 .3 1.4 .2-4.5 .3 4.7 .3 3.6 .2-1.1 .3-12.5 .3 10 .2-7.6 .3-.9 .3 5 .3 4.2 .2-4.7 .3-8.4 .3 4.3 .2 4.8 .3 4.6 .3 0 .2-1.7 .3 3.6 .3 4 .2-4.8 .3-4.1 .3 7.5 .3-12.4 .2-4.1 .3 12.7 .3-1 .2-4.1 .3-10.8 .3 13 .2-8.9 .3 1.1 .3 4.6 .3 8.5 .2-6.2 .3 6.4 .3-6.2 .2-5.8 .3 0 .3 9.8 .2-2.4 .3-.6 .3-3.9 .2-2.3 .3 2.7 .3 .2 .3 10.6 .2-2.8 .3-17.5 .3 10.8 .2 6.8 .3-3.5 .3 3.1 .2-17.8 .3 9.4 .3 6.8 .2-1.6 .3 2.7 .3-1 .3 .1 .2-6.6 .3-5.3 .3 7.3 .2-.9 .3-2 .3 3.4 .2-4.2 .3 8 .3-6.8 .3 7 .2-8.3 .3 4.1 .3 1.6 .2-5.7 .3-.1 .3 2.1 .2 8.5 .3-5 .3-7.7 .2 9.7 .3-1.7 .3-2.8 .3 6 .2-7.5 .3 1.5 .3 4 .2 3.6 .3-6.5 .3 2.9 .2-5.6 .3 9 .3-3.3 .2-.5 .3-8.1 .3-.5 .3 1.3 .2-3.2 .3-.4 .3 3.6 .2-2.5 .3 7.3 .3 5.8 .2-5.4 .3-.4 .3-2 .3 9.8 .2-6.9 .3-1.1 .3 2.9 .2 4.5 .3-4.9 .3 3.9 .2-7 .3-2.1 .3-8.6 .2 20.1 .3-11.5 .3 3.2 .3-.6 .2 .3 .3-1.3 .3 4 .2 4.8 .3-2.8 .3-5.6 .2-2.8 .3-1.7 .3 2.5 .3 3.9 .2 .9 .3-7.4 .3 3.7 .2 4.9 .3 1.6 .3-1.5 .2-12.1 .3 4.7 .3 1.1 .2 4.4 .3 7.3 .3-5.4 .3-1.2 .2-6.3 .3 13.7 .3-7.6 .2 6.1 .3-6.1 .3-1.6 .2 0 .3-2.3 .3 6.8 .2 .3 .3-.8 .3-6.7 .3 7.7 .2-5.2 .3 3.2 .3-9.2 .2 .5 .3 13.3 .3-8.3 .2 3.2 .3-3.3 .3 6.1 .3-1.7 .2 .6 .3-7.9 .3 .8 .2-2 .3 5.2 .3-7.3 .2 5.1 .3 3.7 .3 3.1 .2-8.5 .3 12.8 .3-6.2 .3 2.7 .2-10.3 .3 5.4 .3 3.6 .2-4.7 .3-4.4 .3 4 .2 13 .3-11.5 .3 .7 .2-5.4 .3-.5 .3 5 .3-4.5 .2 2.8 .3 7.4 .3-9.1 .2 4.1 .3 10.6 .3-4.7 .2-17.4 .3 16.8 .3-7.7 .3-2.3 .2 4.9 .3-8 .3 9.6 .2 .5 .3-2.5 .3 6.4 .2-4.9 .3-9.4 .3 1.5 .2 6.3 .3 2.3 .3 2.8 .3-.1 .2 4.4 .3-19.9 .3 6.3 .2 7 .3-7.6 .3 5.7 .2-3.9 .3 11.8 .3-7.4 .2-1.5 .3 3.9 .3-.7 .3 .1 .2-7.8 .3 1.1 .3 1.7 .2 8.1 .3-1.5 .3-7.1 .2 1.3 .3-1.1 .3 7.8 .3-4.1 .2 .6 .3 1.2 .3-5.5 .2 4 .3-2.7 .3-8.4 .2 7 .3-.7 .3 2.1 .2 2.6 .3 7.6 .3-9.8 .3 9.1 .2-12.3 .3 5.7 .3 2.4 .2-8.4 .3-1.3 .3 13.6 .2-19.7 .3 5.6 .3 1 .3-1.1 .2 8.5 .3 .2 .3-2.8 .2 3.2 .3-8.8 .3 1.1 .2-2.2 .3 6.3 .3-.3 .2 .7 .3-1.1 .3-1.5 .3 8.3 .2 .7 .3-7.5 .3 7.3 .2-6.5 .3 5 .3-7.6 .2 9.3 .3-1.6 .3 4.2 .2-14 .3 4.1 .3 3.4 .3-.6 .2 .6 .3-.1 .3-1.8 .2-5.1 .3 7.2 .3-3.1 .2 3.3 .3-3 .3 3.8 .3-3.5 .2 7.3 .3-10.1 .3 3 .2 2.6 .3 3.8 .3-7.1 .2 4.8 .3-4.7 .3 .6 .2 9.6 .3-11.9 .3 1.6 .3 5 .2-2.1 .3-4.5 .3 3.5 .2-.7 .3-5.6 .3 12.8 .2-8 .3-2.5 .3-3.2 .2 9 .3-4.6 .3 2.2 .3-2.5 .2 6.1 .3-.8 .3 4.9 .2 1.9 .3-12.6 .3 3 .2 1.5 .3 2.5 .3 1.6 .3-8.1 .2-4.3 .3 6 .3-2.2 .2 4.3 .3-2.4 .3-1.4 .2-.2 .3 2.4 .3 8.8 .2-6.4 .3 1 .3 .5 .3-1.6 .2-5 .3 .9 .3-6.9 .2 11.1 .3-5.1 .3 3.2 .2-10 .3 4.7 .3 7.2 .2-4.3 .3-1.9 .3 1.3 .3 .2 .2 2.1 .3 3.1 .3-2.1 .2 2.1 .3-5.2 .3 3.7 .2-3.4 .3 1.1 .3 4.2 .3-4.9 .2 2.1 .3-7.7 .3 11.7 .2-3.8 .3 5.1 .3 .9 .2-11.7 .3 6.8 .3-2.7 .2 5.5 .3-1 .3 1.1 .3-10.2 .2 9.2 .3-8.9 .3 5.7 .2 .3 .3 6.3 .3-3.5 .2-1.8 .3-4.3 .3 .1 .3 3.9 .2-3.4 .3-6.2 .3 13.2 .2-6.3 .3-4 .3 9.4 .2-2.8 .3 3 .3-13.1 .2 6.4 .3 4.7 .3 5.6 .3-2.3 .2-8 .3-3.7 .3 13.2 .2-10.2 .3 1.3 .3 1.7 .2 1.1 .3-3.7 .3-4.2 .2 6 .3 7.7 .3-12.3 .3 11.3 .2-4.7 .3-3 .3 8 .2-1.6 .3 0 .3 7.2 .2-18.5 .3 5 .3 9.1 .3-10.9 .2 5.9 .3 3.5 .3-8.9 .2 5.3 .3 .8 .3-7.3 .2 1.4 .3-1.9 .3 8.6 .2-7.9 .3-1.4 .3 1.6 .3 2.4 .2 3.6 .3-1.6 .3 2.6 .2 1.7 .3-4.1 .3 .1 .2-2.5 .3-1.7 .3 3.8 .2 7.5 .3-6 .3-5 .3 4 .2-4.3 .3 5.4 .3-4.8 .2-4.4 .3 10.6 .3-11.2 .2 13.6 .3-2.2 .3-4.6 .3-1.6 .2 5.3 .3-3.6 .3 1.6 .2-3.2 .3 3.9 .3 2.5 .2-3.7 .3-1 .3 6.1 .2-5.3 .3-2.3 .3 7.1 .3-6.1 .2-5.8 .3 6.5 .3 .2 .2-7.9 .3 3.4 .3 4.2 .2-4.3 .3 11 .3-11.3 .3-3.3 .2 2.8 .3 .2 .3 7.3 .2-.2 .3-.8 .3 4.9 .2-6.2 .3-3 .3 9.4 .2-5.3 .3-.4 .3 3.7 .3 5.3 .2-13 .3-.6 .3 2.5 .2 4.8 .3-11.8 .3 3.8 .2 5 .3 2.6 .3-2.6 .2 2.3 .3-.9 .3-1.2 .3 7.1 .2-4.5 .3-4 .3 2.1 .2-7.4 .3 9.1 .3-3.6 .2-1.8 .3 6.3 .3-6.3 .3-.9 .2 2.7 .3 .7 .3 4 .2-1.8 .3 1.6 .3 1.4 .2-1.3 .3-3.4 .3 6.5 .2-2.4 .3 2.4 .3-2 .3-7.7 .2 4.1 .3-.5 .3 6.9 .2-4.6 .3-9.1 .3 5.4 .2-2.9 .3-.2 .3 6.7 .2-7.2 .3 3.8 .3-4.5 .3 10.3 .2-14.7 .3 10 .3 .8 .2 4.1 .3 1.9 .3-9.3 .2 13.2 .3-11.4 .3 .1 .3-.7 .2-3 .3 7.4 .3-7.1 .2 4 .3-4.4 .3 9.2 .2-9.4 .3 6.8 .3-9.1 .2 1.2 .3 9.4 .3-1.1 .3-4.2 .2-3.1 .3 11.4 .3-5.2 .2-7.1 .3 8.7 .3-4.8 .2 3.1 .3-1.7 .3-2.9 .2-1.8 .3 9.3 .3-5.9 .3 4.8 .2-1.4 .3-1.9 .3-1.4 .2 4.8 .3-6.1 .3 9.7 .2-.9 .3-3.3 .3-4.4 .3 2.4 .2-4.3 .3 4.6 .3-2 .2 4.1 .3 .1 .3-1.9 .2-3.5 .3 2.1 .3 8.9 .2-11.2 .3 1 .3 .2 .3-4.4 .2 2.9 .3 4.2 .3-2.1 .2 6.3 .3-.4 .3-6.9 .2-9.1 .3 11 .3-7.9 .3 7.9 .2 3.7 .3-5.8 .3 1.9 .2-2.8 .3 1.8 .3-5.4 .2 4.2 .3 3.9 .3-5.6 .2 5.5 .3-2.8 .3 5.9 .3-7.1 .2-1.4 .3 11.1 .3-10.5 .2-2.6 .3 1.7 .3 4.8 .2-4.8 .3-2.4 .3 11.3 .2-5.6 .3-3.1 .3 1 .3 5.6 .2 8.4 .3-14.1 .3 6.2 .2-8.1 .3 9.2 .3-2.9 .2 1.4 .3 .9 .3-3 .3-8.2 .2 10.1 .3-6.9 .3 .7 .2-1.3 .3 1.8 .3 1.1 .2 5.3 .3-2.3 .3 7.2 .2-8.9 .3 4.1 .3-2.7 .3-3.1 .2 5.6 .3-5.6 .3-9.3 .2 7 .3-1.9 .3 8.1 .2-4.6 .3-.8 .3 8.4 .2-7.7 .3 2.3 .3 .7 .3 .4 .2 1.9 .3 3.7 .3-7.3 .2 7.9 .3-5.3 .3 6.6 .2-3.8 .3-7.3 .3 8 .3-6.1 .2 3.7 .3-.7 .3 2.4 .2-2.5 .3-4.9 .3 .6 .2 2 .3 3.5 .3-3.3 .2-2.6 .3 2.3 .3 5.8 .3 6.2 .2-10.8 .3 7.1 .3-9.1 .2 8.8 .3-13.5 .3 6.5 .2 1.6 .3-7.1 .3 2 .2-2.7 .3 10.5 .3 .3 .3-9.2 .2 13 .3-10.8 .3-2.3 .2 4.4 .3-1.4 .3 2.4 .2 3.3 .3-8.7 .3 8 .3-9.8 .2 4.3 .3-.2 .3-5.7 .2 6.4 .3 2.3 .3 5.3 .2-5.2 .3 4.3 .3-11 .2 8.2 .3 .4 .3-1.1 .3-2.5 .2-2.7 .3 8.5 .3-4.9 .2 9.8 .3-7.5 .3-1.6 .2 .2 .3 .1 .3-.6 .3-5.3 .2 .4 .3 10.4 .3-4.3 .2 3.4 .3-5.2 .3-1.6 .2-3.9 .3 9.6 .3-6.6 .2 8.2 .3-6.5 .3-.8 .3 .7 .2 2.6 .3-2.7 .3 0 .2 2.8 .3-7.9 .3 1.9 .2 7.9 .3-4.4 .3-1.3 .2-3.4 .3 7 .3 .6 .3-2.2 .2-1.5 .3-.1 .3-2.3 .2 2.7 .3-4.5 .3 7.7 .2 3.2 .3-5.6 .3-4.7 .3 2.8 .2 7.3 .3 1.8 .3-9.5 .2 .2 .3 1.6 .3 1 .2-6.1 .3 1.3 .3 2.5 .2 .9 .3 3.5 .3-7 .3 5.1 .2 2 .3-3.6 .3 .3 .2 2.9 .3 9.4 .3-4.9 .2-3.3 .3 .3 .3-5.9 .2 7.3 .3-2.4 .3 1.2 .3 3 .2-6.5 .3 .7 .3-5.4 .2 4.3 .3-2.3 .3-2 .2 7.6 .3-.5 .3-6.9 .3 4.3 .2 1 .3-2.8 .3 3.3 .2-.8 .3-.7 .3 1.7 .2-7.3 .3 4.5 .3 7.8 .2-8.9 .3 13.6 .3-8.8 .3-7.4 .2-2.8 .3 7.8 .3-1.5 .2 .6 .3-3.1 .3 3.3 .2-7 .3 6.2 .3 6 .3 6.8 .2-7.1 .3-1.3 .3-4.1 .2 6.2 .3-7.3 .3 3.8 .2-2.5 .3-6 .3 7.4 .2-6.9 .3 4.4 .3 4.2 .3 2.5 .2-.8 .3-5.7 .3 .7 .2 1.5 .3 1.8 .3-3.8 .2 1.1 .3 10.2 .3-14 .2 9.4 .3-12.4 .3 4.2 .3 8 .2 .1 .3-8.9 .3-4.3 .2 14.6 .3-8.2 .3 5.1 .2 .8 .3-9.6 .3 10.3 .3-7.1 .2-3.2 .3 8.9 .3-8.9 .2-.3 .3 4.5 .3 10.8 .2-11 .3 2.2 .3-5.2 .2 15.8 .3-5.4 .3-5.1 .3 0 .2 5.9 .3-12.5 .3 .8 .2 6.3 .3-1.9 .3 2.7 .2-3.4 .3 6.2 .3-8 .2-.7 .3-.4 .3 3.7 .3 4.9 .2-8.1 .3 9.1 .3-6.8 .2 6.1 .3-6.8 .3 8.8 .2-2.7 .3-3.3 .3-3.6 .3 7.1 .2-2 .3-8 .3 3.5 .2-1.3 .3 2.8 .3-7.4 .2 5.9 .3-.5 .3 3.5 .2 5.8 .3-7.6 .3-4.4 .3 4.9 .2-2.9 .3-3.2 .3 5.8 .2-9.3 .3 5.7 .3 8.1 .2-2.4 .3-2.5 .3 0 .2 1.8 .3-1.5 .3 1.9 .3-7.8 .2 3.6 .3-1.7 .3 12.3 .2-1.7 .3-2.7 .3-5.1 .2 1.8 .3-2.2 .3 2.1 .3-4.2 .2 4.9 .3-5.3 .3 0 .2-2.8 .3 .7 .3 6.5 .2 3.5 .3-4.3 .3-1.1 .2 2.7 .3 2 .3 .4 .3 0 .2-4.6 .3 2.2 .3 3.3 .2-1.1 .3-6.8 .3 2 .2 5.8 .3-6.5 .3 1 .3 3.7 .2 1.8 .3-6.7 .3 10 .2-13.2 .3 2.8 .3 11.5 .2-8.7 .3 4.3 .3-1.7 .2-.8 .3 7.4 .3-.5 .3-9.9 .2 3.3 .3-4.8 .3 11.7 .2-9.1 .3-3.1 .3 6.1 .2 4.5 .3-7.7 .3-6.4 .2 11.7 .3-5.5 .3-3.3 .3 2.2 .2 .3 .3-5.7 .3 7.4 .2-.9 .3 .8 .3 9 .2-1.5 .3-4.5 .3 2.5 .3-9.4 .2 1.3 .3 5.1 .3 1.4 .2-3.6 .3-5.2 .3 1 .2 9.2 .3-3.2 .3-3 .2-.4 .3-.9 .3 7.6 .3-.8 .2-12.5 .3 8.4 .3 2 .2-5.2 .3-2.5 .3 6.9 .2 2.3 .3-5 .3 3.2 .2 .5 .3-4 .3 2.5 .3-5.1 .2 7.5 .3 .8 .3-7.4 .2 7.2 .3-9 .3 9.7 .2-4.8 .3 .6 .3-3.1 .3 4 .2-2.9 .3-.5 .3 6.6 .2 3.3 .3-2 .3-6.5 .2 8.2 .3-10 .3-8.4 .2 6 .3 11.4 .3-6 .3-8 .2 11.1 .3 5.8 .3-2.6 .2-12 .3 4.7 .3 5.9 .2-8.7 .3 5.7 .3 1.2 .2-9.1 .3 12.2 .3-9.5 .3 7.1 .2-5.7 .3 7.2 .3-1.7 .2 3.2 .3-6 .3 4.5 .2-12 .3 4.6 .3-6.5 .3 6.8 .2 13 .3-13.2 .3 5.2 .2-.8 .3 5 .3-10.7 .2 0 .3 5.5 .3-1.8 .2-1.9 .3-1.1 .3 2.3 .3-2.4 .2-2.9 .3 7.5 .3-1.8 .2 4.8 .3 4.3 .3-11.7 .2 10.3 .3-5.1 .3 .7 .3 1.7 .2-6.1 .3-4.5 .3-.4 .2 7.5 .3-4.5 .3-6.7 .2 10.5 .3-1.7 .3 1.2 .2 3.9 .3-4.8 .3-1.2 .3-.4 .2 3.7 .3-4.6 .3 5.3 .2 1.8 .3-4.1 .3-10.9 .2 13.6 .3-3.5 .3 2.7 .2 1 .3 7.1 .3-10.2 .3 .1 .2-6.6 .3 3.6 .3 6.8 .2 2.7 .3-6.4 .3 6.1 .2-2.4 .3-11.6 .3 10.4 .3-2.6 .2-2.2 .3 4.2 .3-3.6 .2-4 .3-1.9 .3 7.9 .2-1.6 .3 .9 .3 11.2 .2-18.8 .3 8.4 .3 3.2 .3-6.3 .2 .5 .3 3 .3-8.2 .2 10.5 .3-.1 .3-1.1 .2-2.8 .3 2.3 .3-.5 .2 2 .3-3.3 .3 1.2 .3-1 .2-1.4 .3-4.4 .3 3.1 .2 8.4 .3-7.4 .3 6.5 .2-5.3 .3 4 .3-8 .3 2.7 .2 5.6 .3-6.2 .3 1.3 .2 .6 .3 2.3 .3-6.8 .2-4 .3 11.2 .3 5.8 .2-9.2 .3 1.6 .3-.3 .3-5.8 .2-3.1 .3 5.2 .3 5.1 .2 3.7 .3-9 .3 .7 .2 5.9 .3 4.5 .3-15.5 .3 1.6 .2 9.5 .3 .7 .3-5.8 .2-3.2 .3 5.3 .3 .5 .2 6.2 .3 4.7 .3-9.5 .2-1.5 .3-7.4 .3 5.2 .3 .9 .2-.7 .3 5.1 .3-10.8 .2 11.6 .3-2.9 .3-3.2 .2 .6 .3 1.8 .3 1.8 .2-.5 .3-1 .3-5 .3 3 .2 1.1 .3-1.6 .3-1.5 .2 1.5 .3 .2 .3 6 .2-6.2 .3-4.8 .3 3.2 .3 2 .2 12.6 .3-9.5 .3-.2 .2-12.7 .3 5.6 .3 14.9 .2-6.6 .3 1.6 .3-5.3 .2-.8 .3 7.2 .3-6 .3 .2 .2-.5 .3 5.3 .3-12.8 .2 19.6 .3-13.4 .3 11.7 .2-3.9 .3-8.2 .3-.5 .2 5.1 .3-3.9 .3 8.9 .3-.1 .2-11.9 .3-2.6 .3 7.3 .2-4.4 .3 7.9 .3-9.1 .2 10.9 .3-4.1 .3-12.1 .3 6.4 .2 3.3 .3 8 .3 1.8 .2-1.9 .3-4.1 .3-2.9 .2 3.8 .3-2.8 .3 2.9 .2-8.9 .3-1.8 .3 4.9 .3 8.7 .2-2.6 .3-10.6 .3 1.8 .2-.9 .3-3.2 .3 9.9 .2 4.4 .3-2.3 .3-3.1 .2 4.4 .3-.7 .3-3.2 .3 1.3 .2 4.6 .3-8.3 .3-.2 .2 8.5 .3-4.8 .3 3.4 .2-4.6 .3-1.1 .3 5.9 .3-6.8 .2 4.5 .3 3.2 .3-1.1 .2-9.1 .3 7.3 .3-5.3 .2 4.1 .3-.2 .3-1.8 .2-.9 .3-3.1 .3 7.3 .3-.1 .2-5.6 .3-5.3 .3 5.5 .2 4.2 .3-5.4 .3 7.3 .2-11.5 .3 4.7 .3 1.1 .3 .6 .2 1.3 .3-6.6 .3 3 .2 9.5 .3-7 .3 7.8 .2-9.7 .3 2.7 .3 1.9 .2 2.5 .3-9.1 .3 8.5 .3-3.7 .2-9.1 .3 9.3 .3 3.6 .2-2.8 .3 1 .3-3.2 .2-3.6 .3 7.3 .3-.5 .2-.9 .3 .2 .3 2.8 .3-6.2 .2 1.5 .3-.1 .3 2.4 .2 3.1 .3-3.1 .3-.8 .2-.6 .3 3.7 .3-5.3 .3 1.6 .2 .4 .3-5 .3-1.9 .2 15 .3-11.3 .3-3 .2 6.4 .3-5.9 .3 6.5 .2-1.7 .3 6.2 .3 2.9 .3-11.6 .2 .5 .3-.3 .3 2.2 .2 5 .3-5.1 .3 2.7 .2-2.8 .3 1.7 .3-2.7 .2 11.8 .3-11.5 .3 6 .3-6.2 .2 6.9 .3-14.9 .3 11.4 .2 6.9 .3-11.3 .3 5.7 .2-10.7 .3 3.2 .3 7.5 .3-6 .2-.3 .3 4.7 .3 .2 .2-4.7 .3 6.6 .3-3.8 .2 2.4 .3-6 .3 6.9 .2 1.1 .3-8.6 .3 4.7 .3-3.7 .2 8.3 .3-4.8 .3-1.6 .2 9.4 .3-10.9 .3 4.5 .2 .1 .3-7.1 .3 9.2 .3-7.6 .2 0 .3 7.9 .3-2.1 .2-2.8 .3-.2 .3-2.8 .2 .3 .3 4.6 .3 2.7 .2-3 .3-.7 .3 1.5 .3 .2 .2-2.4 .3-3.5 .3 11.8 .2-14.5 .3 3.7 .3 5.8 .2-7.6 .3 9.2 .3 1.4 .2 1.2 .3-3.4 .3-7.3 .3-1.9 .2 .8 .3 6.5 .3-3.3 .2-.5 .3 11.5 .3-8.2 .2-3.7 .3-3.1 .3 6.5 .3-2.4 .2 5.2 .3-5.8 .3 11.7 .2-10.5 .3 .9 .3-3.7 .2 10.7 .3-13.1 .3 9.3 .2 8.4 .3-12.7 .3-4.8 .3 8.6 .2 1.9 .3-7.2 .3 6.1 .2-3.2 .3-3.3 .3 8 .2-8.7 .3 4.6 .3-1.2 .2 .9 .3 3.5 .3-6.3 .3 10 .2-3.1 .3-.8 .3-11.1 .2 6.2 .3-2.4 .3 11.5 .2 3.4 .3-4.1 .3-5.2 .3 2 .2 2.3 .3-3.6 .3-8.7 .2 8.4 .3 .4 .3-2.7 .2 4.2 .3-1.6 .3 2.6 .2-9.4 .3 9 .3-8.4 .3 5.2 .2-5 .3 3.1 .3-8 .2 7.8 .3-2.1 .3 4 .2-.6 .3-.9 .3-4.1 .2 6.3 .3-5.9 .3 4.5 .3-4.2 .2 7.6 .3-9.7 .3 13.2 .2-4.8 .3-3 .3 3 .2-3.4 .3 1.3 .3-3.4 .3 1.7 .2-4.8 .3 12.2 .3-5.6 .2 1.7 .3 2.4 .3-9.2 .2 5.5 .3-7.6 .3 9.1 .2-3.4 .3 6.2 .3-5.8 .3-1.2 .2 3.6 .3-3.5 .3 1.7 .2-.3 .3 .6 .3-.4 .2 6 .3-3.1 .3-.8 .3-6 .2 3.8 .3-7.1 .3 .6 .2 14.8 .3-6.4 .3 5.2 .2-.9 .3-2.6 .3 1.5 .2-2.4 .3 1.6 .3-5.1 .3-5.1 .2 4.1 .3 7.4 .3 3.4 .2-7.1 .3 4.5 .3-2 .2-8.1 .3 1 .3-3.3 .2 5.7 .3 2.2 .3 4.3 .3-3.8 .2-5.3 .3 9.8 .3-9.4 .2 10.7 .3-12.9 .3 4.4 .2 1.1 .3 .2 .3 4.6 .3-11.8 .2 3.4 .3 4.2 .3 4.1 .2-1.1 .3-6.7 .3 4.7 .2-4 .3 10.9 .3-20.3 .2 5.7 .3 8.4 .3-7.9 .3-4.1 .2 14.3 .3-3.9 .3 2.8 .2 6 .3-10.8 .3 3.6 .2-7.3 .3 5.5 .3-4.7 .2 5.8 .3-1.7 .3-7.7 .3 3.1 .2 13.7 .3-14.2 .3-2.1 .2 5 .3 1.5 .3 .3 .2 .7 .3-.4 .3-3.3 .3-.8 .2 1 .3 4.6 .3-8.7 .2 13.4 .3-5.2 .3 2.9 .2-14.6 .3 8.3 .3 5.5 .2-1.8 .3-.1 .3-4.7 .3 1 .2 3.8 .3 2 .3-1.7 .2-.5 .3-6.2 .3 9.7 .2-9.7 .3 4.7 .3-1.9 .2 0 .3 7.9 .3-3.7 .3-6.8 .2 2.9 .3-2.8 .3 4.3 .2-4.1 .3-2.4 .3 2.4 .2-7 .3 14.3 .3-1.2 .3-5 .2-.4 .3-1.4 .3 4.7 .2 2 .3-7.5 .3 .2 .2 8.4 .3-4.5 .3 7.4 .2-2.8 .3-10.6 .3 2.9 .3 7.7 .2-9.3 .3 2.2 .3 5.7 .2 3.7 .3-11 .3 7.8 .2-3.8 .3-9.5 .3 14.5 .3-4.9 .2 1 .3 4.1 .3-.5 .2-6.7 .3-.9 .3 8.1 .2 5.5 .3-10.3 .3 4 .2-3.8 .3 1.1 .3 1.4 .3-5.3 .2-3.4 .3 10.7 .3-1.9 .2 1.4 .3 3 .3-13.6 .2 8.9 .3-.2 .3 .3 .2-8.4 .3 11.9 .3-4.6 .3 2.8 .2-3.5 .3 4.5 .3-.6 .2-5.5 .3-2.9 .3 9.2 .2-11.5 .3 3.5 .3 2.9 .3 3.9 .2 .4 .3-5.3 .3-6.2 .2 3.6 .3 10.3 .3-5.2 .2-1.2 .3-1.4 .3-2 .2 1.3 .3 4.1 .3-1.4 .3-.7 .2 2.7 .3 .5 .3-7 .2 1.5 .3 7.4 .3-6 .2-.9 .3-1.2 .3-5 .2 11.3 .3-7.8 .3 5.6 .3-4.8 .2 6.9 .3-6.6 .3 2.4 .2 3.4 .3 .7 .3-1.4 .2-6.7 .3 4.1 .3-3.8 .3 2.5 .2 4.1 .3-8 .3 3.4 .2 .8 .3-1.2 .3 9.4 .2-11 .3 1.2 .3 2.2 .2-2.3 .3 6.9 .3-2 .3 1 .2 4.8 .3-6.7 .3 .4 .2-.4 .3 5.5 .3-11.9 .2 6.6 .3 5.3 .3-13.5 .3 8 .2 3.8 .3-6.4 .3-7.2 .2 14.8 .3-6.9 .3 2.4 .2-5.1 .3 14.8 .3-1.6 .2-11.6 .3 4.8 .3 .2 .3-4.2 .2 2.3 .3-2.2 .3 4.3 .2-7.1 .3 1.7 .3 5.7 .2-11.7 .3 9.7 .3-2.6 .2-2.6 .3 6.9 .3 2.1 .3-4.9 .2-2.2 .3 .2 .3 10.3 .2-11.3 .3 7.7 .3-.6 .2-4.2 .3-2.6 .3 5.9 .3-.9 .2 1 .3-4.1 .3-2.4 .2 10.8 .3-2.5 .3-7.9 .2-1.2 .3 6.7 .3-3.2 .2 3 .3-1.9 .3 3.2 .3 2.4 .2-2 .3-3.7 .3-.8 .2 2.1 .3 4.5 .3-15.5 .2 2.4 .3 6.4 .3 1.3 .2 .6 .3 2.1 .3 3 .3-7.2 .2-3.1 .3 2.3 .3 2.4 .2 .5 .3-3 .3 4.6 .2-7.2 .3-2.1 .3 15.1 .3-14.7 .2 11.9 .3-1.1 .3-9.6 .2 4.4 .3-1.4 .3 8.4 .2-3.7 .3-6.5 .3 1.8 .2 5.8 .3-8.4 .3 7.9 .3-2.3 .2-.2 .3-8.3 .3 11.5 .2-1.9 .3 .1 .3-7.4 .2 1.9 .3 .4 .3-3 .2 1.1 .3 5 .3 1.4 .3 3.4 .2-9.9 .3 1.9 .3 2.4 .2 7.6 .3-1.7 .3-7.4 .2 5.4 .3-3.4 .3-6.7 .3 1.5 .2 11.6 .3-13.1 .3-3.6 .2 15.4 .3-4.4 .3 5.1 .2-5.2 .3 .6 .3-1.6 .2-5.6 .3 9 .3 1 .3-5.9 .2 3.1 .3 6.5 .3-10.8 .2 3.2 .3-4.5 .3-3.8 .2 2.7 .3 5.5 .3 8 .3-7.4 .2 2.6 .3 2.3 .3-1.5 .2-6.8 .3-.4 .3 6.6 .2 .3 .3 .4 .3-.8 .2-6.8 .3-1.4 .3-1.1 .3 8.1 .2 2.3 .3-7.4 .3 5.6 .2-1.6 .3-2.6 .3 .5 .2 5.6 .3-6 .3 5.5 .2-11.2 .3 11.1 .3 2.7 .3-10.4 .2-3.3 .3 9.8 .3-.3 .2-3.4 .3 .1 .3 8.4 .2-6.9 .3 1.9 .3-2.2 .3-3.9 .2 .4 .3 4.1 .3 .2 .2 .6 .3-2.7 .3 4.7 .2-4.6 .3-.4 .3-3.4 .2 5.1 .3 5.2 .3 .6 .3-7.7 .2-4.6 .3 4.6 .3 3.4 .2 2.6 .3 .4 .3-8.5 .2 .8 .3 .8 .3-.1 .2 2.8 .3 1.1 .3 1.3 .3-4.7 .2-1.2 .3 1.5 .3 2.2 .2-4.3 .3 2.3 .3-4.2 .2 4.1 .3 3.6 .3-3.6 .3 6.3 .2-3.2 .3 9.4 .3-8.5 .2-.6 .3-3.6 .3 1.2 .2 5.9 .3-4.4 .3-1 .2-2.8 .3-1.5 .3-1.6 .3 11.4 .2 1.1 .3-4.1 .3-7.5 .2 9.1 .3-7.5 .3 7.7 .2-9.9 .3 10.6 .3-10 .2 6.2 .3 5.4 .3-11.1 .3-3.8 .2 9.7 .3-.9 .3-2.8 .2 1 .3 .4 .3-2.2 .2 4.3 .3 4.8 .3-10.7 .3 5.7 .2 2.8 .3-12 .3 1.3 .2 3.8 .3-2.1 .3 8.8 .2-11.2 .3 12 .3 .6 .2 3.5 .3-7.6 .3 2.2 .3-.5 .2 2 .3-6.3 .3-5.3 .2 9.4 .3-4.7 .3 .3 .2-1.6 .3 5.3 .3 5.3 .3-.8 .2-6.4 .3 1.2 .3 1.4 .2 5.5 .3-14 .3 9.2 .2-8.7 .3 6.3 .3-3.9 .2-1.6 .3 6.8 .3-5.7 .3 2.1 .2 5.4 .3-8.6 .3 5 .2 2.8 .3-4.9 .3-2.5 .2-.2 .3 6.7 .3 1.5 .2-10.9 .3 9.2 .3-3.7 .3-8.5 .2 6.4 .3-1.2 .3 .5 .2 .5 .3-1.2 .3 2.7 .2-4.9 .3 7.1 .3-9.4 .3 .2 .2 14.2 .3-.9 .3-7.3 .2-3.8 .3 8.8 .3-8.7 .2 6.3 .3 4.2 .3-9.1 .2-1.3 .3-5.7 .3 4.3 .3 1.1 .2 11.2 .3-11.1 .3 1.6 .2-8.2 .3 19.5 .3-14.5 .2 21.2 .3-14.6 .3-5.3 .2 1.7 .3 16.3 .3-2.3 .3-22.2 .2 5.5 .3 11.9 .3-14.8 .2 8.1 .3 16.8 .3-34.5 .2 16.2 .3-4.2 .3 11.5 .3-7.3 .2-10.5 .3-.6 .3 7.1 .2-14.3 .3 26.2 .3-11.2 .2-1.7 .3 12.1 .3-5.2 .2-3 .3 16 .3-10.7 .3 3.2 .2-8.9 .3-3.3 .3 9.9 .2-3.2 .3 15.8 .3-26.3 .2 12.6 .3-7.9 .3 22.8 .3-15.7 .2 5.7 .3-10.7 .3 5.2 .2 14.7 .3-13.2 .3 10.2 .2-4.6 .3-8.1 .3 5.9 .2-16.2 .3 18.3 .3-1 .3-5.2 .2 3.6 .3 .2 .3 4.7 .2-3.5 .3 .4 .3-7.2 .2 8 .3-1.4 .3 2.2 .2 3.3 .3-1 .3-13.1 .3 11.9 .2-5.6 .3-1.8 .3 8.5 .2-10.7 .3 9.3 .3-8.8 .2 15.2 .3-6.5 .3-8.5 .3 7.8 .2-4.8 .3 1.2 .3 7.3 .2-12.4 .3 3.8 .3 8.5 .2-3.2 .3-8.6 .3 4.8 .2 8.1 .3-2.3 .3 .7 .3-1.6 .2-9.2 .3 10.1 .3-6.4 .2 3.5 .3-1.1 .3-9 .2 11.6 .3-7.4 .3-2.7 .2 4.5 .3 1.7 .3 11.8 .3-2.3 .2-4 .3 9.1 .3-11.5 .2-3.5 .3 4 .3-3.2 .2 10 .3-2.4 .3-2.8 .3-2 .2-4.8 .3 1.1 .3 2.3 .2-1.1 .3 9.7 .3 .4 .2-13.1 .3 1.9 .3 10.4 .2-3.5 .3 .1 .3-6.7 .3 6.1 .2 5.3 .3-7.1 .3-2.1 .2-5.8 .3 6.7 .3-.7 .2 0 .3 1.8 .3-9.8 .2 7.3 .3 5.2 .3 2.9 .3-11.4 .2 7.9 .3 3.1 .3-5.5 .2-2.4 .3 7.8 .3-10.4 .2 11 .3-2.9 .3-3.1 .3 6.7 .2-1.5 .3-1.3 .3-8.6 .2 8.4 .3-9.7 .3 4.4 .2 6.4 .3-4.3 .3 6.5 .2-2.7 .3-5.7 .3 6 .3-2.4 .2 5.3 .3-17.1 .3 12.2 .2 2.7 .3-2.7 .3-.5 .2-2.2 .3-3.3 .3 8 .3-10.3 .2 7.3 .3 2.6 .3-.5 .2-3.8 .3 1.2 .3 6.4 .2-5 .3 5.4 .3-12.1 .2 5.6 .3-.8 .3 8.5 .3-6 .2-10 .3 11.2 .3-7.9 .2-3.8 .3 4.3 .3 1.9 .2-.9 .3 5.1 .3 2.4 .2-14.8 .3 8.6 .3 .3 .3-2.7 .2-.8 .3-.9 .3 13.5 .2-2.9 .3-6.1 .3 4.6 .2-3.4 .3-.6 .3 6 .3-2.9 .2 .9 .3-8 .3 5.9 .2 .8 .3 .9 .3-4.1 .2-2.6 .3 7.5 .3-6 .2 2.2 .3 1.9 .3 1.4 .3 3.5 .2-3.8 .3-8 .3 2.6 .2 3.1 .3 0 .3-2.2 .2-3.3 .3 5.6 .3-1 .2 4.2 .3-.2 .3-3.3 .3 1.2 .2-.8 .3-4.5 .3 3.4 .2 0 .3-1.1 .3 2.2 .2 9.7 .3-16.3 .3 4.7 .3-.8 .2-.6 .3 .4 .3 4.6 .2 3.5 .3-17.4 .3 8.8 .2 9.8 .3-9.1 .3 4.9 .2-8.6 .3 7.1 .3 .9 .3-.3 .2-3.8 .3-1.1 .3 2 .2 .2 .3-2.6 .3-.5 .2-.9 .3-2.2 .3 5.4 .2 5.2 .3 1.6 .3-5.6 .3 3 .2-8.7 .3-1.3 .3 7.2 .2 3.3 .3-5.9 .3-.1 .2 5.1 .3-1.1 .3-3.2 .3 5.4 .2-.3 .3-1.3 .3-13.4 .2 13.8 .3-3.7 .3 5.7 .2-.4 .3-6.9 .3-.9 .2 4.7 .3-1.5 .3-3.1 .3 10.7 .2-9.2 .3-3.7 .3 7.6 .2-3.1 .3-4.2 .3-.5 .2 9.2 .3-5.2 .3 1.4 .3 1.9 .2-.8 .3 .2 .3 2.5 .2-4.9 .3 2.1 .3 1.8 .2 2.2 .3 1.6 .3-8.4 .2 12.3 .3-14 .3 6.6 .3-4.2 .2-.4 .3-2.1 .3 1.6 .2-.6 .3-2.4 .3 3.6 .2-2.1 .3 7.5 .3-1.9 .2-1.5 .3-3.8 .3 10.1 .3-5.5 .2-7.1 .3 2.4 .3 1 .2-4.1 .3-2 .3 6.4 .2 1.9 .3-.5 .3 .1 .3 .1 .2 .8 .3 3.1 .3-4.2 .2-2.7 .3 10.7 .3-2.9 .2-.8 .3-3.5 .3 4.9 .2-1.2 .3-8.3 .3-4.7 .3 8.4 .2 4.2 .3 .4 .3-5.8 .2 1.6 .3-.6 .3 1.9 .2-4.7 .3-.4 .3-1 .2 0 .3 9 .3-.2 .3-5.8 .2 2.8 .3 .1 .3-8.1 .2 8.1 .3 .2 .3-2.9 .2-5.5 .3 .2 .3 9.9 .3-10.5 .2 7.5 .3-5.6 .3-5.8 .2 12.7 .3-5.3 .3 6.8 .2-4.6 .3 11.1 .3-7.6 .2-1.8 .3 9.3 .3-10.7 .3 4.6 .2-9.2 .3-3.9 .3 6.3 .2 5.6 .3-9.5 .3 7 .2 4 .3-6.5 .3-4.3 .3 4.6 .2 3.5 .3-4 .3-6.3 .2 12 .3-5.7 .3 4.3 .2-4.8 .3 5 .3-11.9 .2 3.3 .3 1.1 .3 2.6 .3 3.5 .2 .2 .3-3.8 .3 2.7 .2 2.3 .3-.2 .3-3.5 .2-1 .3-3.3 .3-.9 .2 14.7 .3-2.2 .3-2.3 .3 3.4 .2-11.2 .3 8 .3-2.3 .2-10.3 .3 9.9 .3 .8 .2-8.7 .3 3.4 .3 2.3 .3 3.4 .2 1.5 .3-5.3 .3-5 .2-4.1 .3 9 .3-2.2 .2 2.8 .3 2.7 .3-3 .2-4.5 .3 6.8 .3-4.1 .3 4.3 .2 1.7 .3-2.6 .3 1.8 .2-2.4 .3-3.1 .3-1.9 .2 1.6 .3 5 .3 1.7 .2-3.1 .3-2.1 .3-6.2 .3 7.5 .2-6.6 .3 7.2 .3 1.3 .2-.2 .3-6.4 .3 8.7 .2-8.9 .3 3 .3 2.6 .3-4 .2 4.6 .3-2.9 .3-2.5 .2 7.5 .3-7.9 .3 3.4 .2 1.1 .3 1.9 .3-3.3 .2-4 .3-2.1 .3 10.1 .3-6.4 .2-7.5 .3 7.1 .3 1.3 .2-.7 .3 5.8 .3 6.8 .2-15.3 .3 5.9 .3 2.1 .2-10.1 .3 4.9 .3-.8 .3 7.1 .2-3.7 .3-1.4 .3 .5 .2 1.8 .3-5.9 .3 6.1 .2 0 .3-3.7 .3-.9 .3-2 .2 4.1 .3 .1 .3-.3 .2 7.8 .3-7.1 .3-6.2 .2 11 .3 .1 .3-5.5 .2 .9 .3-.9 .3 1.1 .3 4 .2-3.8 .3 .8 .3-2.9 .2-1.7 .3 7.6 .3-5 .2-2.9 .3 .9 .3 6.4 .3-1.9 .2-3.4 .3 5.8 .3-10.3 .2 10.9 .3-5.3 .3 4.7 .2-5.7 .3-8.1 .3 8.2 .2-5.2 .3 9.9 .3-2.2 .3-.9 .2-3.8 .3 2 .3 4 .2-6.8 .3 2.4 .3 6.8 .2-7.5 .3 3.2 .3-1.4 .2 4.2 .3 .2 .3-5.3 .3-1.8 .2 8.5 .3-4.7 .3-.9 .2-.7 .3 .1 .3 .5 .2 5.9 .3-8.3 .3 1.4 .3 7.4 .2-2 .3-8.9 .3 7.9 .2-1.2 .3 3.9 .3 2.6 .2-2.1 .3-9.1 .3 4.5 .2-7.3 .3 6.9 .3 1.3 .3-1.7 .2-.3 .3 .1 .3 4 .2-11.7 .3 13 .3-2.6 .2-4 .3 6.2 .3-.9 .2-9.2 .3-3.6 .3 5.4 .3 3.3 .2-.3 .3 .6 .3-2.1 .2 8.3 .3-.9 .3-7.2 .2-1.2 .3 0 .3 2.5 .3 .5 .2 1.3 .3 .1 .3-1 .2-9.1 .3 9.3 .3-11.2 .2 11.6 .3-3.5 .3 1.5 .2-.6 .3 3.1 .3-5.9 .3 .5 .2-1.2 .3 2.8 .3-6.8 .2 9.1 .3 .4 .3-6.9 .2-3 .3 5.7 .3-6 .3 14.1 .2 1.1 .3-5.2 .3-4 .2 10.5 .3-5.7 .3-5.4 .2 9.3 .3-9.5 .3-1.3 .2 9 .3-6.9 .3 5.9 .3-1.7 .2-2.3 .3 7 .3-12.4 .2 6.7 .3-8.1 .3-.5 .2 8.4 .3-4.4 .3 3.2 .2 5.9 .3 .4 .3-5.9 .3-.1 .2-.8 .3 6.7 .3 1.6 .2-6.1 .3 4.9 .3-7.4 .2-1.8 .3-1.7 .3 9.3 .3-3.8 .2-1.7 .3 3 .3-12.6 .2 10.1 .3 3.2 .3-.2 .2-2.6 .3 7.5 .3-8.2 .2 2.7 .3-1.1 .3-2 .3 3.1 .2-.8 .3 .8 .3-9.7 .2 7 .3-2.9 .3 3.9 .2-1.2 .3-2.8 .3-4 .2 8.1 .3-2.2 .3-6 .3 10.5 .2-7.4 .3 10 .3-5.1 .2-4.4 .3 1.9 .3-4.4 .2 7 .3 1 .3-3.8 .3 1.2 .2 .2 .3 3.6 .3-7.8 .2 2.9 .3 3.2 .3 9.3 .2-6.6 .3-4.5 .3 4.8 .2-3.5 .3-2.3 .3-4.6 .3 13.5 .2-4.3 .3-2.9 .3 1.4 .2-7 .3 8.1 .3-5.7 .2 5.6 .3-3.8 .3-1.2 .2 6.9 .3-2.8 .3-8.4 .3 6.4 .2 2 .3 3.6 .3-9.7 .2 6.3 .3-2.5 .3-1.2 .2 5.5 .3-2 .3-2.1 .3-.8 .2 11.5 .3-11.6 .3-2 .2 7.2 .3-7.4 .3 3.3 .2 8.1 .3-7.5 .3-6.9 .2 16.5 .3-8.6 .3 1.2 .3-5.7 .2-1.2 .3 .4 .3 1.3 .2 .1 .3 1.7 .3 2.6 .2-8.6 .3 13 .3-3.2 .3-4.1 .2 .1 .3-1.6 .3 1.6 .2 2.4 .3 3.9 .3-14.2 .2 12.7 .3-5.3 .3 1.9 .2 4.7 .3-7 .3 4.6 .3-6.2 .2-3.4 .3 2 .3-1.6 .2 10.2 .3-6.5 .3-1.7 .2 7.9 .3-2.1 .3 3.8 .2-3.4 .3 4.9 .3-11.4 .3 5 .2-2.6 .3 .9 .3 3.4 .2 3.1 .3-5.4 .3-1.2 .2-3.8 .3-1.5 .3 6.5 .3 8.4 .2-8.3 .3 4.1 .3-4.3 .2-.8 .3-1.3 .3 4.1 .2-4 .3-1.4 .3 6.4 .2-4.6 .3 4.9 .3-6 .3 1.7 .2-1 .3 2.7 .3 .6 .2-.1 .3-5.5 .3 8.6 .2-9.3 .3-.9 .3 13.4 .2-4 .3 .9 .3-9 .3-2.5 .2 12.1 .3 2 .3-9.8 .2 1.4 .3 4.4 .3-7.7 .2 7 .3-8.3 .3 7.2 .3 1.8 .2-3.8 .3-1.8 .3-1.1 .2 6.4 .3 1.5 .3-4.2 .2-6.7 .3 2.2 .3 3 .2 3.4 .3-1 .3 1.5 .3-1.1 .2 2.5 .3-2.1 .3-7.1 .2 7.8 .3 1.4 .3 6.4 .2-11 .3 .7 .3-.9 .2 4.1 .3-9.4 .3 7.6 .3 8.5 .2-15.7 .3 3.4 .3 6.6 .2-8.9 .3 10 .3-4.9 .2 3 .3 .6 .3-8.5 .3 9.7 .2-3.1 .3-1 .3 6.6 .2-5.7 .3 2.6 .3-5.9 .2 1.8 .3-2.6 .3 6.5 .2-3.7 .3-1.8 .3 1.3 .3-.4 .2 1 .3-1.1 .3-2.2 .2-1.7 .3 6.1 .3 5 .2-6.1 .3 4.2 .3-3.1 .3-1.6 .2-5 .3 4 .3 1.8 .2 .6 .3-.1 .3-2.2 .2-5.4 .3 7.8 .3-3.2 .2-.3 .3 6.7 .3-1.7 .3-8.2 .2 3.4 .3-.1 .3 4.6 .2-5.4 .3 6.3 .3-8.7 .2-1.5 .3 8.1 .3-1.7 .2 0 .3-4 .3 2.2 .3-3.2 .2 9.7 .3-1.6 .3-8.9 .2 12.4 .3-5.6 .3 2.5 .2-6.3 .3 1.8 .3 2 .3 1.5 .2-9.7 .3 9.3 .3-3 .2 .6 .3 2.8 .3-9.1 .2 6 .3 0 .3 6.9 .2-10.5 .3 3.9 .3 1.5 .3 .5 .2 2.2 .3-4.1 .3 6.2 .2-7.3 .3-4.1 .3-2.5 .2 1 .3 7.8 .3 1.9 .2 5 .3-9.2 .3-3.3 .3 3.9 .2-5.6 .3 6.3 .3-1.9 .2 6.6 .3-2.8 .3 2.1 .2-2.5 .3-9.2 .3 3.6 .3 7 .2-3.8 .3-8.9 .3 13.3 .2-9.8 .3 4.5 .3-4.3 .2 5.4 .3 .7 .3-.3 .2-1.8 .3-.9 .3 5.1 .3-4 .2 1.5 .3-1 .3-6.1 .2 4.1 .3 6.8 .3-3.9 .2 3.3 .3-2.9 .3-.1 .3-5.6 .2 1.9 .3 4.7 .3-1.6 .2 4.7 .3-10.9 .3 15.6 .2-11.3 .3-4.3 .3 5.1 .2 3.1 .3 8.5 .3-11.1 .3-2.2 .2 3.6 .3 2.4 .3-5.6 .2 2.9 .3-.9 .3-3.6 .2 1.1 .3 12.2 .3-8.4 .2-3.9 .3-1.7 .3 3.9 .3-5.8 .2 10.6 .3 3.8 .3 2 .2-5.5 .3-5 .3 6 .2-8.3 .3 4.5 .3 3.3 .3-.6 .2 5.8 .3-5.4 .3-6.8 .2 6.4 .3-6.6 .3 7.1 .2-8.2 .3 4.7 .3-2.6 .2 3.6 .3 1.3 .3 3.3 .3-8 .2 5.5 .3-9.2 .3 5.2 .2-1.3 .3-1.2 .3-.8 .2 3.1 .3 1.4 .3 1.3 .2 1.3 .3-7.9 .3 .9 .3 .1 .2-.9 .3 4.4 .3-5.6 .2 5.7 .3-3.8 .3 8.2 .2-2.6 .3-3.3 .3 3.4 .3-1.1 .2 1.9 .3 2.3 .3-3.9 .2-.3 .3 6.4 .3-3.3 .2-6.1 .3-1 .3 1.8 .2 11 .3-19.9 .3 11 .3 2.5 .2-3.4 .3 4.8 .3-6.9 .2 2.3 .3 0 .3 2.6 .2 2.3 .3-13.7 .3 2.4 .2 10.9 .3-6.6 .3 5.4 .3-6.9 .2 6.5 .3-4.4 .3-2.2 .2-.5 .3 8.9 .3-1.6 .2-5.9 .3 .6 .3 2.9 .3-5.9 .2 4.3 .3-.8 .3 8.3 .2-5.5 .3 8.5 .3-13.8 .2-.1 .3 3 .3-1.5 .2-4.7 .3 1.4 .3-.6 .3 4.4 .2-2.5 .3 5.3 .3-8.8 .2 9.6 .3-1.5 .3 4.2 .2-10 .3 7.3 .3 3.7 .3-12.8 .2 8 .3-1.4 .3-1.4 .2-3.4 .3 7.1 .3 1.5 .2-3 .3 4.1 .3 1 .2-.3 .3-2.2 .3 .9 .3-4.3 .2 2.7 .3-2.8 .3-4.9 .2 2.7 .3-1.3 .3 3 .2-.2 .3-.1 .3 2.4 .2-.5 .3-7.8 .3 2.4 .3 7.7 .2-3.7 .3 3.4 .3-.8 .2 2.2 .3-4.8 .3 1.4 .2 3.7 .3-7.4 .3 5.4 .3 5.4 .2-5.5 .3-.9 .3-.7 .2 0 .3 3.2 .3-10.8 .2 3.9 .3-1.5 .3 9.1 .2-6.8 .3 7.9 .3-3.4 .3-3.1 .2 7.8 .3-10.8 .3 5.3 .2-1.4 .3 7.6 .3-8.3 .2 1.8 .3 1.7 .3 2.4 .2-6.9 .3-.8 .3 5.3 .3-9.7 .2 4.7 .3-2.9 .3 12.1 .2-10.9 .3 8.3 .3-.8 .2-3.8 .3 7.4 .3-10.7 .3 3.5 .2 .3 .3-7.5 .3 7.3 .2-3.9 .3 3.9 .3 1.8 .2-2.6 .3 7.9 .3-13.9 .2 10.1 .3-6.3 .3 6.3 .3-4.1 .2-7.1 .3 3.1 .3 6.9 .2 3.9 .3-2.5 .3 .6 .2 0 .3-3.3 .3 .2 .2 2.1 .3-9.8 .3 5.1 .3-.8 .2-1.1 .3-2.6 .3 5.4 .2-1.4 .3 2.1 .3-4.7 .2 9.4 .3-2.6 .3-6.3 .3 10.5 .2-6.2 .3-3.8 .3 6.4 .2-.9 .3-3.1 .3-3.4 .2 4.9 .3-5.2 .3 .6 .2 0 .3 2.7 .3 1.5 .3 4.4 .2-2.3 .3 .6 .3-4.5 .2 2.6 .3 2.5 .3-4.8 .2 3.6 .3 2.1 .3-8.3 .3 4.6 .2 .1 .3-7.6 .3 5.7 .2-1.9 .3 5.9 .3 .1 .2-2.2 .3-3.3 .3-2.8 .2 3.1 .3-1.1 .3 3 .3 .2 .2-1 .3-1.6 .3 11 .2-9.2 .3-.7 .3-5.2 .2 11.4 .3-1.1 .3 2.4 .2-9.9 .3-1.6 .3 5 .3 1.1 .2-5 .3 2.8 .3 2.1 .2-2.5 .3 2.8 .3-.9 .2-2.2 .3 10.1 .3-12.3 .3 10.1 .2-10.1 .3 3.9 .3 6.1 .2-10.5 .3 7.2 .3-.8 .2 .7 .3-4.3 .3 1 .2 1.5 .3 10.4 .3-11.6 .3 6.1 .2-3.7 .3 .1 .3 4.8 .2-4.5 .3-7.1 .3 2.1 .2 8.3 .3-3 .3 2.3 .2-14 .3 16 .3-5.2 .3 .8 .2 4.6 .3-6.6 .3 5.3 .2-6.4 .3-.1 .3-1 .2 1.5 .3 1.1 .3 1.6 .3-.4 .2-6.1 .3 3.3 .3 2 .2-3.6 .3 8.8 .3-2.4 .2-6.1 .3 9.7 .3-7.2 .2 7 .3-1.1 .3-5.6 .3 4 .2-2 .3-5 .3 7.7 .2-7.3 .3 3 .3-9 .2 12.9 .3-4.2 .3-.6 .3 .6 .2-.5 .3-3.1 .3 9.5 .2-14.3 .3 8 .3 2.4 .2 .8 .3-5.5 .3 3.5 .2-1.7 .3 1.3 .3 3.5 .3-7.4 .2 13.5 .3-3.9 .3-6.2 .2 1.4 .3 2.7 .3 5 .2-4.8 .3-5.4 .3-7.1 .2 12.5 .3-4.1 .3 2.9 .3-9.5 .2 8.4 .3-7.9 .3 10.7 .2-7.3 .3 .3 .3 7.3 .2-7.4 .3 2.6 .3 .7 .3-3.1 .2 5.3 .3 1 .3 3.9 .2-4.3 .3-.4 .3-7.2 .2 4.2 .3-2.1 .3 1.1 .2 5.9 .3-2.5 .3-.7 .3-3 .2-1 .3-4 .3 2.3 .2 6.9 .3 .3 .3-5.7 .2 5.4 .3 1.6 .3-7 .2-5.1 .3 14.1 .3-9.3 .3 5.1 .2-8.4 .3 2.7 .3 7 .2 .1 .3-2.9 .3-4 .2 10.4 .3-12.6 .3 10.1 .3-3.2 .2 3.5 .3-6.3 .3 .1 .2 2.6 .3 6.6 .3-10.2 .2 4.1 .3 6.7 .3-5.7 .2-2.7 .3-1.7 .3-5.5 .3 7.8 .2-4.5 .3 9.8 .3-10.6 .2 .8 .3 5.4 .3-.8 .2-8.5 .3 4.4 .3 6.4 .2-2.9 .3-.4 .3-4.2 .3 3.6 .2 7 .3-10.2 .3-2.5 .2 8.2 .3-3.1 .3 2.6 .2-4.9 .3 2.6 .3-.5 .3 2.2 .2-9.1 .3 14.2 .3-3.6 .2 2.4 .3 1.9 .3-2.3 .2-3.4 .3-2.8 .3-1 .2 4.4 .3-2 .3 1.3 .3-5.2 .2 10.8 .3 2.6 .3-12.1 .2 1.6 .3 3.1 .3-.8 .2-5.5 .3 2.6 .3-3.8 .3 4.1 .2 2.8 .3 .9 .3-4.6 .2-7.1 .3 13 .3-2.7 .2-2.2 .3 3.2 .3-9.8 .2 7.2 .3 2.7 .3 4.7 .3-9.2 .2 9.3 .3-5.4 .3 2 .2 2.6 .3-3.4 .3-7.2 .2 5.5 .3 1.5 .3-.1 .2-2.8 .3 2.9 .3 .5 .3-2.7 .2-3.4 .3 1.8 .3 1.6 .2 2.4 .3-1.2 .3-4.9 .2 8.9 .3-1.8 .3-3.4 .3 3.9 .2-3.5 .3-1.2 .3 3.7 .2 2.9 .3-8.6 .3 .1 .2 1.5 .3-3.4 .3 .3 .2 10.6 .3-8.9 .3-5.5 .3 .5 .2 8.9 .3-4.6 .3 6.2 .2-.6 .3 2.4 .3-4.6 .2 .1 .3-1.2 .3 .8 .2-2.5 .3 .8 .3-.2 .3 .5 .2 4.6 .3-5.4 .3-.5 .2 2.6 .3 3.4 .3 2.1 .2-13.9 .3 8.2 .3 3.5 .3-2.9 .2 8.3 .3-7 .3-4.5 .2 6.9 .3-4.8 .3-5.8 .2 6.6 .3 .6 .3 2.4 .2-3.5 .3-2.4 .3-2.2 .3 2.5 .2 1.4 .3 .4 .3-.9 .2 3.8 .3-7.7 .3 6.3 .2-1.4 .3 1.5 .3 .2 .2-4.2 .3 .7 .3 10.1 .3-7.3 .2 2.4 .3-4.3 .3 .4 .2-1.3 .3 4.8 .3 .9 .2-8.9 .3 10.5 .3-3.7 .3-2 .2 5.4 .3 2.1 .3-9.1 .2 .9 .3 3.1 .3 3 .2-12.9 .3 10.4 .3-4.8 .2 4.3 .3 5 .3-7.6 .3-.5 .2 2.8 .3-.9 .3 3.8 .2-2.2 .3-1.4 .3-4.9 .2 5.5 .3 .5 .3-5.7 .3 2.1 .2 5.8 .3-5.3 .3-5.6 .2 11.8 .3-4.2 .3-1 .2 .7 .3-.4 .3-.6 .2 11.3 .3-14.8 .3 4 .3-6.9 .2 4.2 .3 1.9 .3-5.7 .2 10.3 .3-5.5 .3 6.9 .2-2.8 .3 1.8 .3-3.9 .2-8.3 .3 11.9 .3-11.1 .3 12.8 .2-3.6 .3-5.4 .3 1.2 .2 1.7 .3 4.3 .3-5.2 .2 6.5 .3-8.8 .3 4.9 .3-5.4 .2 1.7 .3 5.7 .3-1.5 .2 5.6 .3-8.7 .3 4.8 .2-2.4 .3-.9 .3-1.8 .2 8.8 .3-8.5 .3-2.7 .3 .6 .2 4.3 .3-7.5 .3 .7 .2 3.1 .3 4.5 .3-6.5 .2 3.3 .3 4.3 .3-3.8 .2 1.2 .3-.7 .3 10.2 .3-9.9 .2 3.8 .3 .7 .3 1.6 .2-3.7 .3 5.9 .3-4 .2-.5 .3 .3 .3-.4 .3-4.2 .2-9.2 .3 13.9 .3-1.6 .2-5.1 .3 5.7 .3 2.1 .2-4.3 .3 6.8 .3-.5 .2-5.4 .3 5.9 .3 0 .3-5.5 .2 .9 .3-6.3 .3 9.3 .2-9.2 .3 6.5 .3-1.5 .2 2.5 .3-2.2 .3 6 .3-4 .2-8.8 .3 3.6 .3 .7 .2-.8 .3 4.8 .3-8.9 .2 11.7 .3-2.6 .3 6 .2-12.4 .3 3.1 .3-.3 .3-.4 .2 7.7 .3-8.6 .3 9.3 .2-14 .3 .5 .3 3.5 .2 4.4 .3-4 .3 .5 .2-6.4 .3 19.6 .3-10.6 .3 .1 .2 3 .3-4.5 .3 2.6 .2-12 .3 20.5 .3-4.7 .2-9.7 .3-2.2 .3 9.4 .3 2.8 .2-6.2 .3 .9 .3-2.8 .2 3 .3-5.4 .3-2.7 .2 4.1 .3 1 .3 4.4 .2 4.9 .3-14 .3 10.2 .3-8.5 .2 1.8 .3 7.3 .3-9.1 .2 9.9 .3 0 .3-5.5 .2-10.5 .3 19.3 .3-11.8 .2 13.3 .3-14.9 .3 14 .3-1.4 .2-1.6 .3-6.1 .3 2.6 .2 2.8 .3-8.3 .3 9.7 .2-10.7 .3-2.7 .3 15.6 .3-10.8 .2-2.4 .3 .1 .3 9.8 .2-9.4 .3 8.1 .3-10.1 .2 7 .3-2.7 .3 9.3 .2-8.4 .3 4.4 .3-5.4 .3 4 .2-2.3 .3-4.2 .3-12.5 .2 10.1 .3-2 .3 9.5 .2-3 .3-8.7 .3 7.9 .2 2.5 .3-14.1 .3 10.6 .3-8.1 .2-6.7 .3-4.8 .3 11.6 .2 5.1 .3 2.9 .3 21.4 .2-16.2 .3 3.8 .3-6 .3 2.6 .2-5.4 .3-3.7 .3 21 .2-8.6 .3 4 .3-19.4 .2 6.7 .3-11.8 .3 20.1 .2-19.6 .3 21.9 .3-2.5 .3 5.7 .2-9.4 .3-5.2 .3 22.9 .2-8.9 .3-12 .3-3.1 .2 2.1 .3 7.1 .3 1.9 .3 7.5 .2 1.2 .3 1.4 .3 1.8 .2-10.2 .3 2 .3 6.4 .2 3.1 .3-11 .3 10.4 .2-6.1 .3-3.3 .3 12.5 .3-7.2 .2-5.5 .3-2.3 .3 7.6 .2-7.9 .3 12.8 .3-9.9 .2-7.1 .3 11.3 .3-5.3 .2-7.5 .3 .3 .3 6.9 .3 2.7 .2-1.7 .3-.8 .3-4.4 .2-.4 .3 1.4 .3 6.3 .2-5.7 .3 3.2 .3-4.7 .3 1.7 .2-5.7 .3 .5 .3 3 .2 1.2 .3 10.5 .3-6.3 .2-5.5 .3 8.5 .3-5.3 .2 1 .3 1.2 .3 6.6 .3-9.6 .2-7.5 .3 .7 .3 .7 .2 9 .3-2.6 .3-1.5 .2-3.9 .3-4.6 .3 4.9 .2-2.4 .3 5.4 .3-1.8 .3-5.1 .2 11.6 .3-6.6 .3-1.8 .2 6.6 .3 1 .3-1.1 .2-6.5 .3-.9 .3 9.1 .3-7.6 .2 1.6 .3 8.1 .3-8.3 .2 3.4 .3-3.4 .3 3.3 .2-4.3 .3 1.8 .3-8.2 .2 16 .3-3.2 .3-11.2 .3 2.9 .2 4.6 .3-12.3 .3 3.8 .2 9.7 .3 .1 .3-5.2 .2 5.2 .3 3.1 .3-3.2 .3-8.5 .2 12.7 .3-5.2 .3-3.6 .2 1.2 .3 5.1 .3-2.4 .2-3 .3 3.5 .3-2.7 .2 2.7 .3-2.2 .3-6.3 .3 7.4 .2 3.2 .3 2.4 .3-2.7 .2-4.4 .3 1.6 .3 1.8 .2-5.5 .3-1 .3 2.6 .2 1.6 .3-4.3 .3 6 .3 7.5 .2-14.5 .3 5.9 .3 2.6 .2-7.6 .3 1.7 .3 2.8 .2-3.1 .3 7.3 .3-10.9 .3 4.1 .2 .9 .3-2.9 .3 4.9 .2-9.5 .3 10.1 .3-2.2 .2 3.9 .3 1 .3 3 .2-2.5 .3-4.9 .3 4.8 .3 1.9 .2-3.2 .3-1.2 .3 .5 .2-6.2 .3 8.1 .3-1.2 .2 .8 .3 1.9 .3-12.2 .2 13.3 .3-14.9 .3 13.9 .3-9.2 .2-.6 .3 4.2 .3-2.1 .2-.1 .3 4.2 .3-1.8 .2 .8 .3-2.3 .3-8.9 .3 10.6 .2-1.7 .3-1.4 .3-1.9 .2 2.5 .3 6.8 .3-.8 .2-1.2 .3-11.3 .3 8.3 .2 2.2 .3 1 .3-4.6 .3 4.6 .2 1.4 .3-1.9 .3-6.8 .2 4.3 .3-4.2 .3 1 .2-1.9 .3-.3 .3 5.4 .2-.4 .3-4.2 .3 5.6 .3 .6 .2-2.5 .3 6.1 .3-2 .2-1.4 .3-2.2 .3-2 .2 1.1 .3 1.6 .3-7.8 .3 14.2 .2-4.6 .3-4.2 .3 .6 .2-.7 .3 7.7 .3-8.7 .2 2.1 .3-2.2 .3 0 .2 9.5 .3-9.6 .3 6.7 .3-6.7 .2-4.5 .3 8.5 .3 2.9 .2-4.8 .3 1.5 .3-2.5 .2 3 .3-4.1 .3 6.6 .3 5.6 .2-19.6 .3 8.5 .3 7.2 .2-8.3 .3 1.5 .3-.4 .2 5.8 .3-2.6 .3-5.4 .2 9.6 .3-3.6 .3-2.6 .3 6.5 .2-7.4 .3 4.9 .3-8.4 .2 5.1 .3 6.3 .3 2.5 .2-7.3 .3-11.9 .3 17.3 .2-5.8 .3-7.2 .3 6.6 .3 3 .2-3.3 .3 1.4 .3-8.2 .2 9.8 .3-7.8 .3 6.6 .2 .3 .3 3.3 .3-13 .3 6.3 .2-4.6 .3 4.3 .3-1.7 .2 6.9 .3-8.5 .3 1.2 .2 .7 .3 9.1 .3-15.6 .2 7.8 .3-1.4 .3-4.1 .3 5.8 .2 4.7 .3-2.9 .3 3.2 .2 2 .3-4.6 .3 2.7 .2-1.6 .3 1 .3-5.4 .2-4.3 .3 7.6 .3 .4 .3-3.4 .2-2.8 .3 1.8 .3-5 .2 7.3 .3 1.3 .3 4.9 .2-8.5 .3 2.1 .3-2.3 .3 .9 .2 1.3 .3-1.1 .3 3.2 .2-.6 .3-.2 .3 1.4 .2-3.2 .3-5.8 .3 8.7 .2-4.5 .3 1.3 .3 1 .3 1.1 .2-.3 .3 2.3 .3-12.7 .2 13.7 .3 3.2 .3-6.8 .2-1.5 .3 7.1 .3-4.8 .2 4.3 .3-4.5 .3-3.7 .3 1.7 .2 5.7 .3 1.2 .3-.5 .2-4.4 .3 1.1 .3-7.1 .2 7.6 .3-2.5 .3 .9 .3-3.2 .2-4.1 .3 6.2 .3-4.3 .2 7 .3 .9 .3-2.9 .2-2.4 .3 6.3 .3-5.8 .2-.5 .3 .6 .3 3 .3-1.5 .2-.6 .3-1.6 .3 6.8 .2-7.6 .3 8.3 .3-11.1 .2 2.1 .3 5.8 .3 .2 .3 2.7 .2 2.2 .3-7.8 .3 5 .2-2.7 .3-4.9 .3-.5 .2 .5 .3 4.5 .3-5.4 .2 8.8 .3 1 .3-7 .3-7.7 .2 2.4 .3 4.9 .3-1.9 .2 10 .3-9.2 .3 2.6 .2 2.7 .3-1.1 .3-4.7 .2 .4 .3 0 .3 4.2 .3 3.7 .2-4.1 .3-2.4 .3 2.5 .2-.2 .3-3.1 .3 6.6 .2-5.7 .3-5.6 .3 9 .3-4.1 .2 4.9 .3-3.3 .3 4.9 .2-1.6 .3-1.7 .3 .6 .2-3.9 .3-2 .3 4.2 .2-3.9 .3 .1 .3 5.1 .3-5.7 .2 3.5 .3 .2 .3 3.7 .2-11.2 .3 5.4 .3 4.1 .2-9.6 .3 10.3 .3 1.5 .2-1.5 .3 1.9 .3-5 .3-.7 .2 1.2 .3-4.7 .3 1.8 .2 1 .3 2.6 .3-7.3 .2 1.8 .3 1.5 .3 2.7 .3-.3 .2-1.4 .3 4.4 .3-5.9 .2 5 .3-3.8 .3 3.9 .2 3.7 .3-2.6 .3-4.3 .2-3.1 .3 3.7 .3 2.3 .3-2 .2 2.5 .3-4.2 .3 3.2 .2-2.8 .3-.5 .3 1.2 .2 2.9 .3-12.3 .3 6.8 .3 3.7 .2-2.1 .3 .6 .3 6.2 .2-5.5 .3 5.6 .3-2.8 .2 .3 .3-.5 .3-5.7 .2 3.2 .3 5.4 .3-4.4 .3-.5 .2 .6 .3-.2 .3-8.3 .2 12.3 .3-6.5 .3-.1 .2 1.9 .3-3.6 .3 1.1 .2 3.5 .3-1.2 .3-2.8 .3-.8 .2 3.2 .3-4.1 .3-4 .2 .4 .3 10.6 .3-2.3 .2 2.7 .3-2.9 .3-2.7 .3 1.4 .2-4.5 .3 2.1 .3 .4 .2 1.4 .3-4.4 .3 2.5 .2-.9 .3 4.6 .3 2.7 .2-4.6 .3-2 .3 1.7 .3 .9 .2 1.2 .3-4.9 .3 3.2 .2-1.2 .3 .5 .3-2.5 .2 .6 .3 6.2 .3-3 .2 2.7 .3-4.4 .3-9.2 .3 2.2 .2 7.6 .3 2.7 .3-1.6 .2-4.7 .3 13.8 .3-16.7 .2 3.4 .3 .9 .3 5.9 .3-8.1 .2 9.4 .3-9.5 .3 8.3 .2 1.3 .3-2.4 .3-10.5 .2 8.6 .3 3 .3-4.8 .2 1.9 .3-6.3 .3 10.7 .3-12.1 .2 12.3 .3-14.9 .3 15.7 .2-1 .3-.3 .3-3.1 .2-1.8 .3-4.1 .3-.2 .2 5.2 .3 1.9 .3-5.6 .3 4.2 .2 3.4 .3-1.4 .3 1.4 .2-1.7 .3-4.7 .3 .1 .2 2.3 .3 6.9 .3-12.4 .3-1 .2 8.6 .3-1.1 .3 .2 .2 3 .3-.8 .3-7.8 .2 8.4 .3 1.8 .3-2.5 .2-1.8 .3-4.8 .3 .2 .3 1 .2-.4 .3 1.1 .3 1.5 .2 9.3 .3-15.9 .3 7.5 .2-5.4 .3 10 .3-16.7 .3 10.7 .2-2.8 .3-2.4 .3 15.2 .2-3 .3-3.7 .3-5.3 .2-5.2 .3 2.3 .3 2.7 .2-5 .3 4.7 .3-5.2 .3 5.7 .2 2 .3 5.3 .3-13 .2 6.2 .3 1.9 .3-7.1 .2 12.9 .3-8.1 .3-1.2 .2 3.8 .3-3.7 .3 1.3 .3-9.2 .2 9.3 .3 12.7 .3-8.7 .2 .2 .3-5.3 .3-1.6 .2 1.8 .3-1.7 .3-1.4 .3 6.9 .2-5.1 .3 5.4 .3 1.9 .2 2.3 .3-.7 .3-4.7 .2 1.3 .3-.4 .3-.4 .2 .3 .3-.9 .3-7 .3 13.9 .2-2.6 .3-10 .3 6.7 .2-3.6 .3-6.1 .3 7.9 .2-3.3 .3 2.9 .3 4 .2-2.2 .3-3.6 .3 11.1 .3-9.4 .2 4 .3 5.4 .3-2.3 .2-4.1 .3-6.9 .3-1.9 .2 10.6 .3-4.6 .3 1.3 .3 .7 .2-1.3 .3 6.7 .3-4.4 .2-2.3 .3 5.3 .3-2.9 .2 1.2 .3-.7 .3 .1 .2 4.9 .3-9.5 .3 3 .3-2 .2 1.3 .3 4.6 .3-3.3 .2 2.5 .3-.6 .3-2.1 .2 1.7 .3-6.2 .3-.7 .2 10.5 .3 4.3 .3-2 .3-5.6 .2-.7 .3 .3 .3-.1 .2-4 .3 7.5 .3-4.8 .2 4.2 .3 1.2 .3 1.2 .3 .1 .2 3.4 .3-5.7 .3 2.2 .2 .6 .3-5.2 .3-3.3 .2 3.3 .3-.9 .3 6.9 .2-3.8 .3 1.4 .3-6.7 .3 3.3 .2 5 .3-6.8 .3-.2 .2 2.7 .3-3.3 .3 4.1 .2-2.7 .3 .9 .3-.3 .3 0 .2-.6 .3-4.3 .3 9.3 .2-3.6 .3-2 .3 3.3 .2-7.7 .3 11.6 .3-3.2 .2 2.6 .3-4.5 .3 1.9 .3 3 .2-6 .3 1 .3-.1 .2 3.6 .3-6 .3 5 .2 1.8 .3-1.1 .3 3.9 .2-.3 .3-7 .3 2.5 .3-2.6 .2-1.7 .3 3 .3 .8 .2-2.4 .3 .8 .3-5.5 .2 4.6 .3 1 .3 9.1 .3-4.8 .2-9.6 .3 5 .3-3.6"/>
</g>

<!-- tick labels -->
<g class="b" font-size="81.5" filter="url(#crisp)">
<text transform="translate(417.7 1666) scale(.956 1)" x="-1 38.9">40</text>
<text transform="translate(712.2 1666) scale(.956 1)" x="-3 36.2">50</text>
<text transform="translate(1004.8 1666) scale(.956 1)" x="-3 36.8">60</text>
<text transform="translate(1297.4 1666) scale(.956 1)" x="-4 37.7">70</text>
<text transform="translate(1589.6 1666) scale(.956 1)" x="-3 37.1">80</text>
<text transform="translate(1884.6 1666) scale(.956 1)" x="-3 36">90</text>
<g clip-path="url(#one)"><text transform="translate(2160 1666) scale(.956 1)" x="-4.2 33.5 73.2">100</text></g>
</g>

<!-- axis titles -->
<text filter="url(#crisp)" class="b" font-size="93.5" transform="translate(924 1800.8) scale(.935 1)" x="0.9 48.6 75.7 128.6 180.2 228.5 254.9 289.4 324 356.2 417.1 465.7 518.8 550 597.6 645.2 694.9">2-Theta (Degrees)</text>
<text filter="url(#crisp)" class="b" font-size="93.5" transform="translate(87.9 1076) rotate(-90) scale(.935 1)" x="-1.2 27.2 87.9 118.1 174.2 232 287.2 314.8 345.9 385.4 425 459.5 514.1 543.2 600.3 631">Intensity (a.u.)</text>

<!-- legend -->
<g shape-rendering="crispEdges" fill="none">
<line x1="1356" y1="288" x2="1434" y2="288" stroke="#000" stroke-width="9.5" stroke-linecap="round"/>
<path d="M1378.6 379.7H1424.5M1401.5 357.5V402" stroke="#f00" stroke-width="11.3"/>
<line x1="1406.2" y1="473" x2="1406.2" y2="541" stroke="#008080" stroke-width="8.5"/>
<line x1="1358" y1="616.2" x2="1437" y2="616.2" stroke="#00f" stroke-width="9.6" stroke-linecap="round"/>
</g>
<g font-size="79" stroke="#000" stroke-width=".5" filter="url(#crisp)">
<text transform="translate(1484 305.7) scale(.9873 1)" letter-spacing="-3.65" word-spacing="6.1">Experimental data</text>
<text transform="translate(1480 407.9) scale(.9873 1)" letter-spacing="-3.55">Refinement</text>
<text transform="translate(1483 514.3) scale(.9873 1)" letter-spacing="-2.94">Reflections</text>
<text transform="translate(1480 633.1) scale(.9873 1)" letter-spacing="-3.75">Residual</text>
</g>
</svg>
</body>
</html>
